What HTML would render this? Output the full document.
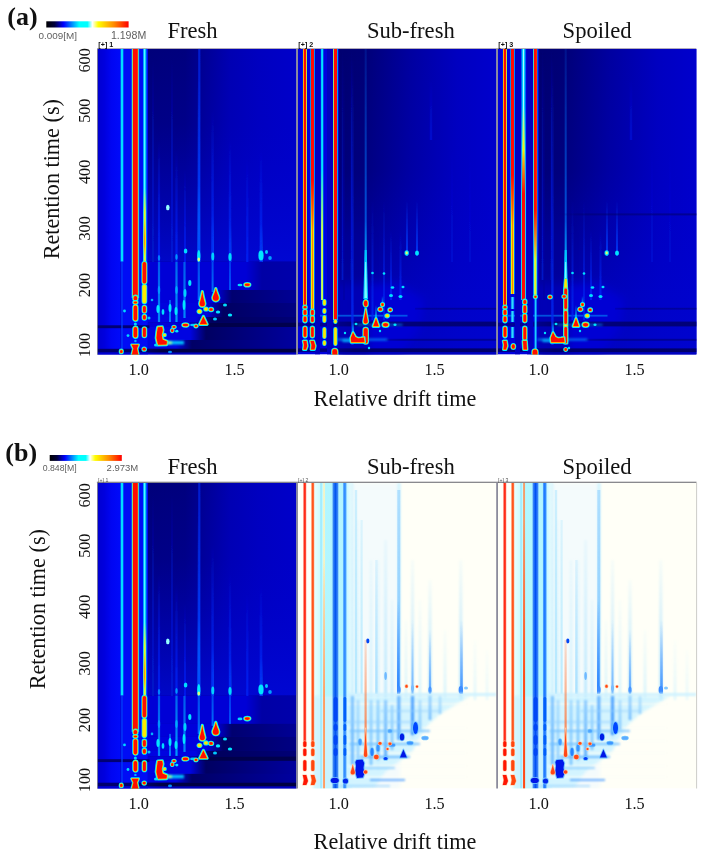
<!DOCTYPE html>
<html><head><meta charset="utf-8"><style>
html,body{margin:0;padding:0;background:#fff;}
svg{display:block;will-change:transform;}
</style></head><body>
<svg width="702" height="856" viewBox="0 0 702 856">
<defs><clipPath id="cp1"><rect x="97.3" y="48.7" width="199.4" height="305.90000000000003"/></clipPath><linearGradient id="hg2" x1="0" x2="1" y1="0" y2="0"><stop offset="0" stop-color="rgb(0,0,122)"/><stop offset="0.25" stop-color="rgb(0,0,126)"/><stop offset="0.55" stop-color="rgb(0,0,178)"/><stop offset="0.75" stop-color="rgb(0,0,192)"/><stop offset="1" stop-color="rgb(0,0,202)"/></linearGradient><linearGradient id="vg3" x1="0" x2="0" y1="0" y2="1"><stop offset="0" stop-color="rgb(0,0,200)" stop-opacity="0"/><stop offset="0.35" stop-color="rgb(0,0,200)" stop-opacity="0.15"/><stop offset="1" stop-color="rgb(0,8,212)" stop-opacity="0.85"/></linearGradient><linearGradient id="hg4" x1="0" x2="1" y1="0" y2="0"><stop offset="0" stop-color="rgb(0,0,208)"/><stop offset="0.3" stop-color="rgb(0,0,222)"/><stop offset="0.6" stop-color="rgb(0,5,242)"/><stop offset="1" stop-color="rgb(0,10,250)"/></linearGradient><linearGradient id="hg5" x1="0" x2="1" y1="0" y2="0"><stop offset="0" stop-color="rgb(0,0,214)"/><stop offset="0.6610738255033557" stop-color="rgb(0,0,214)"/><stop offset="0.7684563758389261" stop-color="rgb(0,0,165)"/><stop offset="1" stop-color="rgb(0,0,172)"/></linearGradient><linearGradient id="hg6" x1="0" x2="1" y1="0" y2="0"><stop offset="0" stop-color="rgb(0,0,218)"/><stop offset="0.4597315436241611" stop-color="rgb(0,0,218)"/><stop offset="0.5671140939597316" stop-color="rgb(0,0,112)"/><stop offset="1" stop-color="rgb(0,0,150)"/></linearGradient><linearGradient id="hg7" x1="0" x2="1" y1="0" y2="0"><stop offset="0" stop-color="rgb(0,2,222)"/><stop offset="0.39932885906040266" stop-color="rgb(0,2,222)"/><stop offset="0.5067114093959731" stop-color="rgb(0,0,98)"/><stop offset="1" stop-color="rgb(0,0,132)"/></linearGradient><linearGradient id="hg8" x1="0" x2="1" y1="0" y2="0"><stop offset="0" stop-color="rgb(0,3,224)"/><stop offset="0.32550335570469796" stop-color="rgb(0,3,224)"/><stop offset="0.43288590604026844" stop-color="rgb(0,0,92)"/><stop offset="1" stop-color="rgb(0,0,118)"/></linearGradient><linearGradient id="hg9" x1="0" x2="1" y1="0" y2="0"><stop offset="0" stop-color="rgb(0,0,214)"/><stop offset="0.2785234899328859" stop-color="rgb(0,0,214)"/><stop offset="0.3859060402684564" stop-color="rgb(0,0,72)"/><stop offset="1" stop-color="rgb(0,0,78)"/></linearGradient><linearGradient id="hg10" x1="0" x2="1" y1="0" y2="0"><stop offset="0" stop-color="rgb(0,4,226)"/><stop offset="0.28523489932885904" stop-color="rgb(0,4,226)"/><stop offset="0.3926174496644295" stop-color="rgb(0,0,98)"/><stop offset="1" stop-color="rgb(0,0,158)"/></linearGradient><linearGradient id="hg11" x1="0" x2="1" y1="0" y2="0"><stop offset="0" stop-color="rgb(0,3,224)"/><stop offset="0.1912751677852349" stop-color="rgb(0,3,224)"/><stop offset="0.2986577181208054" stop-color="rgb(0,0,102)"/><stop offset="1" stop-color="rgb(0,0,160)"/></linearGradient><linearGradient id="hg12" x1="0" x2="1" y1="0" y2="0"><stop offset="0" stop-color="rgb(0,0,110)"/><stop offset="0.23366834170854273" stop-color="rgb(0,0,110)"/><stop offset="0.314070351758794" stop-color="rgb(0,0,70)"/><stop offset="1" stop-color="rgb(0,0,65)"/></linearGradient><linearGradient id="hg13" x1="0" x2="1" y1="0" y2="0"><stop offset="0" stop-color="rgb(0,0,212)"/><stop offset="0.25879396984924624" stop-color="rgb(0,0,212)"/><stop offset="0.3391959798994975" stop-color="rgb(0,0,185)"/><stop offset="1" stop-color="rgb(0,0,195)"/></linearGradient><linearGradient id="vg14" x1="0" x2="0" y1="0" y2="1"><stop offset="0" stop-color="rgb(0,40,235)" stop-opacity="0.7"/><stop offset="1" stop-color="rgb(0,40,235)"/></linearGradient><filter id="bl15" x="-100%" y="-100%" width="300%" height="300%"><feGaussianBlur stdDeviation="0.6"/></filter><linearGradient id="vg16" x1="0" x2="0" y1="0" y2="1"><stop offset="0" stop-color="rgb(0,215,255)" stop-opacity="0.0"/><stop offset="1" stop-color="rgb(0,215,255)"/></linearGradient><filter id="bl17" x="-100%" y="-100%" width="300%" height="300%"><feGaussianBlur stdDeviation="0.5"/></filter><linearGradient id="vg18" x1="0" x2="0" y1="0" y2="1"><stop offset="0" stop-color="rgb(0,170,255)" stop-opacity="0.0"/><stop offset="1" stop-color="rgb(0,170,255)" stop-opacity="0.9"/></linearGradient><linearGradient id="vg19" x1="0" x2="0" y1="0" y2="1"><stop offset="0" stop-color="rgb(0,170,255)" stop-opacity="0.0"/><stop offset="1" stop-color="rgb(0,170,255)" stop-opacity="0.9"/></linearGradient><linearGradient id="vg20" x1="0" x2="0" y1="0" y2="1"><stop offset="0" stop-color="rgb(0,170,255)" stop-opacity="0.0"/><stop offset="1" stop-color="rgb(0,170,255)" stop-opacity="0.9"/></linearGradient><linearGradient id="vg21" x1="0" x2="0" y1="0" y2="1"><stop offset="0" stop-color="rgb(0,70,255)" stop-opacity="0.0"/><stop offset="1" stop-color="rgb(0,70,255)"/></linearGradient><filter id="bl22" x="-100%" y="-100%" width="300%" height="300%"><feGaussianBlur stdDeviation="0.7"/></filter><linearGradient id="vg23" x1="0" x2="0" y1="0" y2="1"><stop offset="0" stop-color="rgb(0,40,245)" stop-opacity="0.0"/><stop offset="1" stop-color="rgb(0,40,245)"/></linearGradient><linearGradient id="vg24" x1="0" x2="0" y1="0" y2="1"><stop offset="0" stop-color="rgb(0,40,245)" stop-opacity="0.0"/><stop offset="1" stop-color="rgb(0,40,245)"/></linearGradient><linearGradient id="vg25" x1="0" x2="0" y1="0" y2="1"><stop offset="0" stop-color="rgb(0,30,240)" stop-opacity="0.0"/><stop offset="1" stop-color="rgb(0,30,240)"/></linearGradient><linearGradient id="vg26" x1="0" x2="0" y1="0" y2="1"><stop offset="0" stop-color="rgb(0,40,245)" stop-opacity="0.0"/><stop offset="1" stop-color="rgb(0,40,245)"/></linearGradient><linearGradient id="vg27" x1="0" x2="0" y1="0" y2="1"><stop offset="0" stop-color="rgb(0,30,240)" stop-opacity="0.0"/><stop offset="1" stop-color="rgb(0,30,240)"/></linearGradient><linearGradient id="vg28" x1="0" x2="0" y1="0" y2="1"><stop offset="0" stop-color="rgb(0,30,240)" stop-opacity="0.0"/><stop offset="1" stop-color="rgb(0,30,240)"/></linearGradient><linearGradient id="vg29" x1="0" x2="0" y1="0" y2="1"><stop offset="0" stop-color="rgb(0,25,235)" stop-opacity="0.0"/><stop offset="1" stop-color="rgb(0,25,235)"/></linearGradient><linearGradient id="vg30" x1="0" x2="0" y1="0" y2="1"><stop offset="0" stop-color="rgb(0,20,210)" stop-opacity="0.0"/><stop offset="1" stop-color="rgb(0,20,210)"/></linearGradient><linearGradient id="vg31" x1="0" x2="0" y1="0" y2="1"><stop offset="0" stop-color="rgb(0,20,200)" stop-opacity="0.0"/><stop offset="1" stop-color="rgb(0,20,200)"/></linearGradient><linearGradient id="hg32" x1="0" x2="1" y1="0" y2="0"><stop offset="0" stop-color="rgb(0,8,250)"/><stop offset="0.22" stop-color="rgb(0,160,255)"/><stop offset="0.4" stop-color="rgb(0,235,255)"/><stop offset="0.5" stop-color="rgb(160,255,255)"/><stop offset="0.6" stop-color="rgb(0,235,255)"/><stop offset="0.78" stop-color="rgb(0,160,255)"/><stop offset="1" stop-color="rgb(0,8,250)"/></linearGradient><linearGradient id="hg33" x1="0" x2="1" y1="0" y2="0"><stop offset="0" stop-color="rgb(0,0,225)" stop-opacity="0"/><stop offset="0.5" stop-color="rgb(0,90,255)"/><stop offset="1" stop-color="rgb(0,0,225)" stop-opacity="0"/></linearGradient><linearGradient id="hg34" x1="0" x2="1" y1="0" y2="0"><stop offset="0" stop-color="rgb(0,12,245)"/><stop offset="0.12" stop-color="rgb(0,200,255)"/><stop offset="0.2" stop-color="rgb(255,235,0)"/><stop offset="0.27" stop-color="rgb(255,10,0)"/><stop offset="0.73" stop-color="rgb(255,10,0)"/><stop offset="0.8" stop-color="rgb(255,235,0)"/><stop offset="0.88" stop-color="rgb(0,200,255)"/><stop offset="1" stop-color="rgb(0,12,245)"/></linearGradient><linearGradient id="hg35" x1="0" x2="1" y1="0" y2="0"><stop offset="0" stop-color="rgb(0,15,245)"/><stop offset="0.18" stop-color="rgb(0,200,255)"/><stop offset="0.35" stop-color="rgb(200,255,90)"/><stop offset="0.5" stop-color="rgb(255,235,0)"/><stop offset="0.65" stop-color="rgb(200,255,90)"/><stop offset="0.82" stop-color="rgb(0,200,255)"/><stop offset="1" stop-color="rgb(0,15,245)"/></linearGradient><linearGradient id="mg37" gradientUnits="userSpaceOnUse" x1="0" y1="48.7" x2="0" y2="262"><stop offset="0.9156" stop-color="white"/><stop offset="0.9719" stop-color="black"/></linearGradient><mask id="mk36" maskUnits="userSpaceOnUse" x="0" y="43.7" width="702" height="223.3"><rect x="0" y="43.7" width="702" height="223.3" fill="url(#mg37)"/></mask><linearGradient id="hg38" x1="0" x2="1" y1="0" y2="0"><stop offset="0" stop-color="rgb(0,15,245)"/><stop offset="0.15" stop-color="rgb(0,200,255)"/><stop offset="0.3" stop-color="rgb(255,235,0)"/><stop offset="0.5" stop-color="rgb(255,130,0)"/><stop offset="0.7" stop-color="rgb(255,235,0)"/><stop offset="0.85" stop-color="rgb(0,200,255)"/><stop offset="1" stop-color="rgb(0,15,245)"/></linearGradient><linearGradient id="mg40" gradientUnits="userSpaceOnUse" x1="0" y1="48.7" x2="0" y2="262"><stop offset="0.7937" stop-color="white"/><stop offset="0.8875" stop-color="black"/></linearGradient><mask id="mk39" maskUnits="userSpaceOnUse" x="0" y="43.7" width="702" height="223.3"><rect x="0" y="43.7" width="702" height="223.3" fill="url(#mg40)"/></mask><linearGradient id="hg41" x1="0" x2="1" y1="0" y2="0"><stop offset="0" stop-color="rgb(0,15,245)"/><stop offset="0.18" stop-color="rgb(0,200,255)"/><stop offset="0.35" stop-color="rgb(200,255,90)"/><stop offset="0.5" stop-color="rgb(255,235,0)"/><stop offset="0.65" stop-color="rgb(200,255,90)"/><stop offset="0.82" stop-color="rgb(0,200,255)"/><stop offset="1" stop-color="rgb(0,15,245)"/></linearGradient><linearGradient id="mg43" gradientUnits="userSpaceOnUse" x1="0" y1="48.7" x2="0" y2="262"><stop offset="0.6531" stop-color="white"/><stop offset="0.7656" stop-color="black"/></linearGradient><mask id="mk42" maskUnits="userSpaceOnUse" x="0" y="43.7" width="702" height="223.3"><rect x="0" y="43.7" width="702" height="223.3" fill="url(#mg43)"/></mask><linearGradient id="hg44" x1="0" x2="1" y1="0" y2="0"><stop offset="0" stop-color="rgb(0,15,245)"/><stop offset="0.22" stop-color="rgb(0,160,255)"/><stop offset="0.4" stop-color="rgb(0,235,255)"/><stop offset="0.5" stop-color="rgb(160,255,255)"/><stop offset="0.6" stop-color="rgb(0,235,255)"/><stop offset="0.78" stop-color="rgb(0,160,255)"/><stop offset="1" stop-color="rgb(0,15,245)"/></linearGradient><filter id="bl45" x="-100%" y="-100%" width="300%" height="300%"><feGaussianBlur stdDeviation="0.75"/></filter><filter id="bl46" x="-100%" y="-100%" width="300%" height="300%"><feGaussianBlur stdDeviation="1.0"/></filter><filter id="bl47" x="-100%" y="-100%" width="300%" height="300%"><feGaussianBlur stdDeviation="0.8"/></filter><linearGradient id="vg48" x1="0" x2="0" y1="0" y2="1"><stop offset="0" stop-color="rgb(0,150,255)" stop-opacity="0.6"/><stop offset="1" stop-color="rgb(0,150,255)" stop-opacity="0.9"/></linearGradient><linearGradient id="vg49" x1="0" x2="0" y1="0" y2="1"><stop offset="0" stop-color="rgb(0,170,255)" stop-opacity="0.6"/><stop offset="1" stop-color="rgb(0,170,255)" stop-opacity="0.9"/></linearGradient><linearGradient id="vg50" x1="0" x2="0" y1="0" y2="1"><stop offset="0" stop-color="rgb(0,150,255)" stop-opacity="0.6"/><stop offset="1" stop-color="rgb(0,150,255)" stop-opacity="0.9"/></linearGradient><linearGradient id="vg51" x1="0" x2="0" y1="0" y2="1"><stop offset="0" stop-color="rgb(0,120,255)" stop-opacity="0.6"/><stop offset="1" stop-color="rgb(0,120,255)" stop-opacity="0.9"/></linearGradient><linearGradient id="vg52" x1="0" x2="0" y1="0" y2="1"><stop offset="0" stop-color="rgb(0,120,255)" stop-opacity="0.6"/><stop offset="1" stop-color="rgb(0,120,255)" stop-opacity="0.9"/></linearGradient><linearGradient id="vg53" x1="0" x2="0" y1="0" y2="1"><stop offset="0" stop-color="rgb(0,90,255)" stop-opacity="0.6"/><stop offset="1" stop-color="rgb(0,90,255)" stop-opacity="0.9"/></linearGradient><linearGradient id="vg54" x1="0" x2="0" y1="0" y2="1"><stop offset="0" stop-color="rgb(0,140,255)" stop-opacity="0.6"/><stop offset="1" stop-color="rgb(0,140,255)" stop-opacity="0.9"/></linearGradient><clipPath id="cp55"><rect x="297.3" y="48.7" width="199.4" height="305.90000000000003"/></clipPath><linearGradient id="hg56" x1="0" x2="1" y1="0" y2="0"><stop offset="0" stop-color="rgb(0,0,112)"/><stop offset="0.15" stop-color="rgb(0,0,118)"/><stop offset="0.45" stop-color="rgb(0,0,160)"/><stop offset="0.75" stop-color="rgb(0,0,192)"/><stop offset="1" stop-color="rgb(0,0,205)"/></linearGradient><linearGradient id="vg57" x1="0" x2="0" y1="0" y2="1"><stop offset="0" stop-color="rgb(0,0,200)" stop-opacity="0"/><stop offset="0.4" stop-color="rgb(0,0,200)" stop-opacity="0.1"/><stop offset="0.8" stop-color="rgb(0,3,205)" stop-opacity="0.6"/><stop offset="1" stop-color="rgb(0,5,208)" stop-opacity="0.7"/></linearGradient><filter id="bl58" x="-100%" y="-100%" width="300%" height="300%"><feGaussianBlur stdDeviation="5"/></filter><filter id="bl59" x="-100%" y="-100%" width="300%" height="300%"><feGaussianBlur stdDeviation="4"/></filter><linearGradient id="hg60" x1="0" x2="1" y1="0" y2="0"><stop offset="0" stop-color="rgb(0,0,120)" stop-opacity="0.275"/><stop offset="0.15" stop-color="rgb(0,0,120)" stop-opacity="0.55"/><stop offset="1" stop-color="rgb(0,0,120)" stop-opacity="0.55"/></linearGradient><linearGradient id="hg61" x1="0" x2="1" y1="0" y2="0"><stop offset="0" stop-color="rgb(0,0,105)" stop-opacity="0.425"/><stop offset="0.15" stop-color="rgb(0,0,105)" stop-opacity="0.85"/><stop offset="1" stop-color="rgb(0,0,105)" stop-opacity="0.85"/></linearGradient><linearGradient id="hg62" x1="0" x2="1" y1="0" y2="0"><stop offset="0" stop-color="rgb(0,0,120)" stop-opacity="0.3"/><stop offset="0.15" stop-color="rgb(0,0,120)" stop-opacity="0.6"/><stop offset="1" stop-color="rgb(0,0,120)" stop-opacity="0.6"/></linearGradient><linearGradient id="hg63" x1="0" x2="1" y1="0" y2="0"><stop offset="0" stop-color="rgb(0,0,95)" stop-opacity="0.45"/><stop offset="0.15" stop-color="rgb(0,0,95)" stop-opacity="0.9"/><stop offset="1" stop-color="rgb(0,0,95)" stop-opacity="0.9"/></linearGradient><linearGradient id="hg64" x1="0" x2="1" y1="0" y2="0"><stop offset="0" stop-color="rgb(0,0,150)" stop-opacity="0.2"/><stop offset="0.15" stop-color="rgb(0,0,150)" stop-opacity="0.4"/><stop offset="1" stop-color="rgb(0,0,150)" stop-opacity="0.4"/></linearGradient><linearGradient id="vg65" x1="0" x2="0" y1="0" y2="1"><stop offset="0" stop-color="rgb(0,40,240)" stop-opacity="0.0"/><stop offset="1" stop-color="rgb(0,40,240)" stop-opacity="0.9"/></linearGradient><linearGradient id="vg66" x1="0" x2="0" y1="0" y2="1"><stop offset="0" stop-color="rgb(0,10,160)" stop-opacity="0.0"/><stop offset="1" stop-color="rgb(0,10,160)" stop-opacity="0.6"/></linearGradient><linearGradient id="vg67" x1="0" x2="0" y1="0" y2="1"><stop offset="0" stop-color="rgb(0,20,200)" stop-opacity="0.0"/><stop offset="1" stop-color="rgb(0,20,200)"/></linearGradient><linearGradient id="vg68" x1="0" x2="0" y1="0" y2="1"><stop offset="0" stop-color="rgb(0,20,205)" stop-opacity="0.0"/><stop offset="1" stop-color="rgb(0,20,205)"/></linearGradient><linearGradient id="vg69" x1="0" x2="0" y1="0" y2="1"><stop offset="0" stop-color="rgb(0,40,240)" stop-opacity="0.0"/><stop offset="1" stop-color="rgb(0,40,240)" stop-opacity="0.8"/></linearGradient><linearGradient id="vg70" x1="0" x2="0" y1="0" y2="1"><stop offset="0" stop-color="rgb(0,40,240)" stop-opacity="0.0"/><stop offset="1" stop-color="rgb(0,40,240)" stop-opacity="0.8"/></linearGradient><linearGradient id="vg71" x1="0" x2="0" y1="0" y2="1"><stop offset="0" stop-color="rgb(0,40,245)" stop-opacity="0.0"/><stop offset="1" stop-color="rgb(0,40,245)" stop-opacity="0.8"/></linearGradient><linearGradient id="vg72" x1="0" x2="0" y1="0" y2="1"><stop offset="0" stop-color="rgb(0,40,245)" stop-opacity="0.0"/><stop offset="1" stop-color="rgb(0,40,245)" stop-opacity="0.8"/></linearGradient><linearGradient id="vg73" x1="0" x2="0" y1="0" y2="1"><stop offset="0" stop-color="rgb(0,60,250)" stop-opacity="0.0"/><stop offset="1" stop-color="rgb(0,60,250)" stop-opacity="0.9"/></linearGradient><linearGradient id="vg74" x1="0" x2="0" y1="0" y2="1"><stop offset="0" stop-color="rgb(0,60,250)" stop-opacity="0.0"/><stop offset="1" stop-color="rgb(0,60,250)" stop-opacity="0.9"/></linearGradient><linearGradient id="vg75" x1="0" x2="0" y1="0" y2="1"><stop offset="0" stop-color="rgb(0,20,225)" stop-opacity="0.0"/><stop offset="1" stop-color="rgb(0,20,225)" stop-opacity="0.6"/></linearGradient><linearGradient id="vg76" x1="0" x2="0" y1="0" y2="1"><stop offset="0" stop-color="rgb(0,20,220)" stop-opacity="0.0"/><stop offset="1" stop-color="rgb(0,20,220)" stop-opacity="0.5"/></linearGradient><linearGradient id="vg77" x1="0" x2="0" y1="0" y2="1"><stop offset="0" stop-color="rgb(0,20,220)" stop-opacity="0.0"/><stop offset="1" stop-color="rgb(0,20,220)" stop-opacity="0.4"/></linearGradient><linearGradient id="vg78" x1="0" x2="0" y1="0" y2="1"><stop offset="0" stop-color="rgb(0,120,255)" stop-opacity="0.15"/><stop offset="1" stop-color="rgb(0,120,255)" stop-opacity="0.9"/></linearGradient><linearGradient id="vg79" x1="0" x2="0" y1="0" y2="1"><stop offset="0" stop-color="rgb(0,230,255)" stop-opacity="0.0"/><stop offset="1" stop-color="rgb(0,230,255)"/></linearGradient><linearGradient id="hg80" x1="0" x2="1" y1="0" y2="0"><stop offset="0" stop-color="rgb(0,0,222)"/><stop offset="0.12" stop-color="rgb(0,200,255)"/><stop offset="0.2" stop-color="rgb(255,235,0)"/><stop offset="0.27" stop-color="rgb(255,10,0)"/><stop offset="0.73" stop-color="rgb(255,10,0)"/><stop offset="0.8" stop-color="rgb(255,235,0)"/><stop offset="0.88" stop-color="rgb(0,200,255)"/><stop offset="1" stop-color="rgb(0,0,222)"/></linearGradient><linearGradient id="hg81" x1="0" x2="1" y1="0" y2="0"><stop offset="0" stop-color="rgb(0,0,222)"/><stop offset="0.15" stop-color="rgb(0,200,255)"/><stop offset="0.3" stop-color="rgb(255,235,0)"/><stop offset="0.5" stop-color="rgb(255,130,0)"/><stop offset="0.7" stop-color="rgb(255,235,0)"/><stop offset="0.85" stop-color="rgb(0,200,255)"/><stop offset="1" stop-color="rgb(0,0,222)"/></linearGradient><linearGradient id="mg83" gradientUnits="userSpaceOnUse" x1="0" y1="48.7" x2="0" y2="309"><stop offset="0.5044" stop-color="white"/><stop offset="0.6965" stop-color="black"/></linearGradient><mask id="mk82" maskUnits="userSpaceOnUse" x="0" y="43.7" width="702" height="270.3"><rect x="0" y="43.7" width="702" height="270.3" fill="url(#mg83)"/></mask><linearGradient id="hg84" x1="0" x2="1" y1="0" y2="0"><stop offset="0" stop-color="rgb(0,0,222)"/><stop offset="0.12" stop-color="rgb(0,200,255)"/><stop offset="0.2" stop-color="rgb(255,235,0)"/><stop offset="0.27" stop-color="rgb(255,10,0)"/><stop offset="0.73" stop-color="rgb(255,10,0)"/><stop offset="0.8" stop-color="rgb(255,235,0)"/><stop offset="0.88" stop-color="rgb(0,200,255)"/><stop offset="1" stop-color="rgb(0,0,222)"/></linearGradient><linearGradient id="hg85" x1="0" x2="1" y1="0" y2="0"><stop offset="0" stop-color="rgb(0,0,222)"/><stop offset="0.18" stop-color="rgb(0,200,255)"/><stop offset="0.35" stop-color="rgb(200,255,90)"/><stop offset="0.5" stop-color="rgb(255,235,0)"/><stop offset="0.65" stop-color="rgb(200,255,90)"/><stop offset="0.82" stop-color="rgb(0,200,255)"/><stop offset="1" stop-color="rgb(0,0,222)"/></linearGradient><linearGradient id="mg87" gradientUnits="userSpaceOnUse" x1="0" y1="48.7" x2="0" y2="300"><stop offset="0.4827" stop-color="white"/><stop offset="0.7214" stop-color="black"/></linearGradient><mask id="mk86" maskUnits="userSpaceOnUse" x="0" y="43.7" width="702" height="261.3"><rect x="0" y="43.7" width="702" height="261.3" fill="url(#mg87)"/></mask><linearGradient id="hg88" x1="0" x2="1" y1="0" y2="0"><stop offset="0" stop-color="rgb(0,0,222)"/><stop offset="0.22" stop-color="rgb(0,160,255)"/><stop offset="0.4" stop-color="rgb(0,235,255)"/><stop offset="0.5" stop-color="rgb(160,255,255)"/><stop offset="0.6" stop-color="rgb(0,235,255)"/><stop offset="0.78" stop-color="rgb(0,160,255)"/><stop offset="1" stop-color="rgb(0,0,222)"/></linearGradient><linearGradient id="hg89" x1="0" x2="1" y1="0" y2="0"><stop offset="0" stop-color="rgb(0,0,222)"/><stop offset="0.12" stop-color="rgb(0,200,255)"/><stop offset="0.2" stop-color="rgb(255,235,0)"/><stop offset="0.27" stop-color="rgb(255,10,0)"/><stop offset="0.73" stop-color="rgb(255,10,0)"/><stop offset="0.8" stop-color="rgb(255,235,0)"/><stop offset="0.88" stop-color="rgb(0,200,255)"/><stop offset="1" stop-color="rgb(0,0,222)"/></linearGradient><linearGradient id="vg90" x1="0" x2="0" y1="0" y2="1"><stop offset="0" stop-color="rgb(0,210,255)" stop-opacity="0.0"/><stop offset="1" stop-color="rgb(0,210,255)"/></linearGradient><linearGradient id="vg91" x1="0" x2="0" y1="0" y2="1"><stop offset="0" stop-color="rgb(0,220,255)" stop-opacity="0.0"/><stop offset="1" stop-color="rgb(0,220,255)" stop-opacity="0.9"/></linearGradient><linearGradient id="vg92" x1="0" x2="0" y1="0" y2="1"><stop offset="0" stop-color="rgb(0,220,255)" stop-opacity="0.0"/><stop offset="1" stop-color="rgb(0,220,255)" stop-opacity="0.9"/></linearGradient><filter id="bl93" x="-100%" y="-100%" width="300%" height="300%"><feGaussianBlur stdDeviation="0.4"/></filter><clipPath id="cp94"><rect x="497.3" y="48.7" width="199.4" height="305.90000000000003"/></clipPath><linearGradient id="hg95" x1="0" x2="1" y1="0" y2="0"><stop offset="0" stop-color="rgb(0,0,112)"/><stop offset="0.15" stop-color="rgb(0,0,118)"/><stop offset="0.45" stop-color="rgb(0,0,160)"/><stop offset="0.75" stop-color="rgb(0,0,192)"/><stop offset="1" stop-color="rgb(0,0,205)"/></linearGradient><linearGradient id="vg96" x1="0" x2="0" y1="0" y2="1"><stop offset="0" stop-color="rgb(0,0,200)" stop-opacity="0"/><stop offset="0.4" stop-color="rgb(0,0,200)" stop-opacity="0.1"/><stop offset="0.8" stop-color="rgb(0,3,205)" stop-opacity="0.6"/><stop offset="1" stop-color="rgb(0,5,208)" stop-opacity="0.7"/></linearGradient><linearGradient id="hg97" x1="0" x2="1" y1="0" y2="0"><stop offset="0" stop-color="rgb(0,0,120)" stop-opacity="0.275"/><stop offset="0.15" stop-color="rgb(0,0,120)" stop-opacity="0.55"/><stop offset="1" stop-color="rgb(0,0,120)" stop-opacity="0.55"/></linearGradient><linearGradient id="hg98" x1="0" x2="1" y1="0" y2="0"><stop offset="0" stop-color="rgb(0,0,105)" stop-opacity="0.425"/><stop offset="0.15" stop-color="rgb(0,0,105)" stop-opacity="0.85"/><stop offset="1" stop-color="rgb(0,0,105)" stop-opacity="0.85"/></linearGradient><linearGradient id="hg99" x1="0" x2="1" y1="0" y2="0"><stop offset="0" stop-color="rgb(0,0,120)" stop-opacity="0.3"/><stop offset="0.15" stop-color="rgb(0,0,120)" stop-opacity="0.6"/><stop offset="1" stop-color="rgb(0,0,120)" stop-opacity="0.6"/></linearGradient><linearGradient id="hg100" x1="0" x2="1" y1="0" y2="0"><stop offset="0" stop-color="rgb(0,0,95)" stop-opacity="0.45"/><stop offset="0.15" stop-color="rgb(0,0,95)" stop-opacity="0.9"/><stop offset="1" stop-color="rgb(0,0,95)" stop-opacity="0.9"/></linearGradient><linearGradient id="hg101" x1="0" x2="1" y1="0" y2="0"><stop offset="0" stop-color="rgb(0,0,150)" stop-opacity="0.2"/><stop offset="0.15" stop-color="rgb(0,0,150)" stop-opacity="0.4"/><stop offset="1" stop-color="rgb(0,0,150)" stop-opacity="0.4"/></linearGradient><linearGradient id="vg102" x1="0" x2="0" y1="0" y2="1"><stop offset="0" stop-color="rgb(0,40,240)" stop-opacity="0.0"/><stop offset="1" stop-color="rgb(0,40,240)" stop-opacity="0.9"/></linearGradient><linearGradient id="vg103" x1="0" x2="0" y1="0" y2="1"><stop offset="0" stop-color="rgb(0,10,160)" stop-opacity="0.0"/><stop offset="1" stop-color="rgb(0,10,160)" stop-opacity="0.6"/></linearGradient><linearGradient id="vg104" x1="0" x2="0" y1="0" y2="1"><stop offset="0" stop-color="rgb(0,20,200)" stop-opacity="0.0"/><stop offset="1" stop-color="rgb(0,20,200)"/></linearGradient><linearGradient id="vg105" x1="0" x2="0" y1="0" y2="1"><stop offset="0" stop-color="rgb(0,20,205)" stop-opacity="0.0"/><stop offset="1" stop-color="rgb(0,20,205)"/></linearGradient><linearGradient id="vg106" x1="0" x2="0" y1="0" y2="1"><stop offset="0" stop-color="rgb(0,40,240)" stop-opacity="0.0"/><stop offset="1" stop-color="rgb(0,40,240)" stop-opacity="0.8"/></linearGradient><linearGradient id="vg107" x1="0" x2="0" y1="0" y2="1"><stop offset="0" stop-color="rgb(0,40,240)" stop-opacity="0.0"/><stop offset="1" stop-color="rgb(0,40,240)" stop-opacity="0.8"/></linearGradient><linearGradient id="vg108" x1="0" x2="0" y1="0" y2="1"><stop offset="0" stop-color="rgb(0,40,245)" stop-opacity="0.0"/><stop offset="1" stop-color="rgb(0,40,245)" stop-opacity="0.8"/></linearGradient><linearGradient id="vg109" x1="0" x2="0" y1="0" y2="1"><stop offset="0" stop-color="rgb(0,40,245)" stop-opacity="0.0"/><stop offset="1" stop-color="rgb(0,40,245)" stop-opacity="0.8"/></linearGradient><linearGradient id="vg110" x1="0" x2="0" y1="0" y2="1"><stop offset="0" stop-color="rgb(0,60,250)" stop-opacity="0.0"/><stop offset="1" stop-color="rgb(0,60,250)" stop-opacity="0.9"/></linearGradient><linearGradient id="vg111" x1="0" x2="0" y1="0" y2="1"><stop offset="0" stop-color="rgb(0,60,250)" stop-opacity="0.0"/><stop offset="1" stop-color="rgb(0,60,250)" stop-opacity="0.9"/></linearGradient><linearGradient id="vg112" x1="0" x2="0" y1="0" y2="1"><stop offset="0" stop-color="rgb(0,20,225)" stop-opacity="0.0"/><stop offset="1" stop-color="rgb(0,20,225)" stop-opacity="0.6"/></linearGradient><linearGradient id="vg113" x1="0" x2="0" y1="0" y2="1"><stop offset="0" stop-color="rgb(0,20,220)" stop-opacity="0.0"/><stop offset="1" stop-color="rgb(0,20,220)" stop-opacity="0.5"/></linearGradient><linearGradient id="vg114" x1="0" x2="0" y1="0" y2="1"><stop offset="0" stop-color="rgb(0,20,220)" stop-opacity="0.0"/><stop offset="1" stop-color="rgb(0,20,220)" stop-opacity="0.4"/></linearGradient><linearGradient id="vg115" x1="0" x2="0" y1="0" y2="1"><stop offset="0" stop-color="rgb(0,120,255)" stop-opacity="0.15"/><stop offset="1" stop-color="rgb(0,120,255)" stop-opacity="0.9"/></linearGradient><linearGradient id="hg116" x1="0" x2="1" y1="0" y2="0"><stop offset="0" stop-color="rgb(0,0,110)" stop-opacity="0"/><stop offset="0.2" stop-color="rgb(0,0,110)" stop-opacity="0.5"/><stop offset="1" stop-color="rgb(0,0,110)" stop-opacity="0.6"/></linearGradient><linearGradient id="vg117" x1="0" x2="0" y1="0" y2="1"><stop offset="0" stop-color="rgb(0,230,255)" stop-opacity="0.0"/><stop offset="1" stop-color="rgb(0,230,255)"/></linearGradient><linearGradient id="hg118" x1="0" x2="1" y1="0" y2="0"><stop offset="0" stop-color="rgb(0,0,222)"/><stop offset="0.12" stop-color="rgb(0,200,255)"/><stop offset="0.2" stop-color="rgb(255,235,0)"/><stop offset="0.27" stop-color="rgb(255,10,0)"/><stop offset="0.73" stop-color="rgb(255,10,0)"/><stop offset="0.8" stop-color="rgb(255,235,0)"/><stop offset="0.88" stop-color="rgb(0,200,255)"/><stop offset="1" stop-color="rgb(0,0,222)"/></linearGradient><linearGradient id="hg119" x1="0" x2="1" y1="0" y2="0"><stop offset="0" stop-color="rgb(0,0,222)"/><stop offset="0.15" stop-color="rgb(0,200,255)"/><stop offset="0.3" stop-color="rgb(255,235,0)"/><stop offset="0.5" stop-color="rgb(255,130,0)"/><stop offset="0.7" stop-color="rgb(255,235,0)"/><stop offset="0.85" stop-color="rgb(0,200,255)"/><stop offset="1" stop-color="rgb(0,0,222)"/></linearGradient><linearGradient id="mg121" gradientUnits="userSpaceOnUse" x1="0" y1="48.7" x2="0" y2="294"><stop offset="0.5149" stop-color="white"/><stop offset="0.7187" stop-color="black"/></linearGradient><mask id="mk120" maskUnits="userSpaceOnUse" x="0" y="43.7" width="702" height="255.3"><rect x="0" y="43.7" width="702" height="255.3" fill="url(#mg121)"/></mask><linearGradient id="hg122" x1="0" x2="1" y1="0" y2="0"><stop offset="0" stop-color="rgb(0,0,222)"/><stop offset="0.12" stop-color="rgb(0,200,255)"/><stop offset="0.2" stop-color="rgb(255,235,0)"/><stop offset="0.27" stop-color="rgb(255,10,0)"/><stop offset="0.73" stop-color="rgb(255,10,0)"/><stop offset="0.8" stop-color="rgb(255,235,0)"/><stop offset="0.88" stop-color="rgb(0,200,255)"/><stop offset="1" stop-color="rgb(0,0,222)"/></linearGradient><linearGradient id="hg123" x1="0" x2="1" y1="0" y2="0"><stop offset="0" stop-color="rgb(0,0,222)"/><stop offset="0.12" stop-color="rgb(0,200,255)"/><stop offset="0.2" stop-color="rgb(255,235,0)"/><stop offset="0.27" stop-color="rgb(255,10,0)"/><stop offset="0.73" stop-color="rgb(255,10,0)"/><stop offset="0.8" stop-color="rgb(255,235,0)"/><stop offset="0.88" stop-color="rgb(0,200,255)"/><stop offset="1" stop-color="rgb(0,0,222)"/></linearGradient><linearGradient id="mg125" gradientUnits="userSpaceOnUse" x1="0" y1="48.7" x2="0" y2="300"><stop offset="0.4031" stop-color="white"/><stop offset="0.5782" stop-color="black"/></linearGradient><mask id="mk124" maskUnits="userSpaceOnUse" x="0" y="43.7" width="702" height="261.3"><rect x="0" y="43.7" width="702" height="261.3" fill="url(#mg125)"/></mask><linearGradient id="hg126" x1="0" x2="1" y1="0" y2="0"><stop offset="0" stop-color="rgb(0,0,222)"/><stop offset="0.18" stop-color="rgb(0,200,255)"/><stop offset="0.35" stop-color="rgb(200,255,90)"/><stop offset="0.5" stop-color="rgb(255,235,0)"/><stop offset="0.65" stop-color="rgb(200,255,90)"/><stop offset="0.82" stop-color="rgb(0,200,255)"/><stop offset="1" stop-color="rgb(0,0,222)"/></linearGradient><linearGradient id="mg128" gradientUnits="userSpaceOnUse" x1="0" y1="48.7" x2="0" y2="300"><stop offset="0.2280" stop-color="white"/><stop offset="0.4031" stop-color="black"/></linearGradient><mask id="mk127" maskUnits="userSpaceOnUse" x="0" y="43.7" width="702" height="261.3"><rect x="0" y="43.7" width="702" height="261.3" fill="url(#mg128)"/></mask><linearGradient id="hg129" x1="0" x2="1" y1="0" y2="0"><stop offset="0" stop-color="rgb(0,0,222)"/><stop offset="0.22" stop-color="rgb(0,160,255)"/><stop offset="0.4" stop-color="rgb(0,235,255)"/><stop offset="0.5" stop-color="rgb(160,255,255)"/><stop offset="0.6" stop-color="rgb(0,235,255)"/><stop offset="0.78" stop-color="rgb(0,160,255)"/><stop offset="1" stop-color="rgb(0,0,222)"/></linearGradient><linearGradient id="hg130" x1="0" x2="1" y1="0" y2="0"><stop offset="0" stop-color="rgb(0,0,222)"/><stop offset="0.18" stop-color="rgb(0,200,255)"/><stop offset="0.35" stop-color="rgb(200,255,90)"/><stop offset="0.5" stop-color="rgb(255,235,0)"/><stop offset="0.65" stop-color="rgb(200,255,90)"/><stop offset="0.82" stop-color="rgb(0,200,255)"/><stop offset="1" stop-color="rgb(0,0,222)"/></linearGradient><linearGradient id="mg132" gradientUnits="userSpaceOnUse" x1="0" y1="48.7" x2="0" y2="296"><stop offset="0.6522" stop-color="white"/><stop offset="0.8544" stop-color="black"/></linearGradient><mask id="mk131" maskUnits="userSpaceOnUse" x="0" y="43.7" width="702" height="257.3"><rect x="0" y="43.7" width="702" height="257.3" fill="url(#mg132)"/></mask><linearGradient id="hg133" x1="0" x2="1" y1="0" y2="0"><stop offset="0" stop-color="rgb(0,0,222)"/><stop offset="0.12" stop-color="rgb(0,200,255)"/><stop offset="0.2" stop-color="rgb(255,235,0)"/><stop offset="0.27" stop-color="rgb(255,10,0)"/><stop offset="0.73" stop-color="rgb(255,10,0)"/><stop offset="0.8" stop-color="rgb(255,235,0)"/><stop offset="0.88" stop-color="rgb(0,200,255)"/><stop offset="1" stop-color="rgb(0,0,222)"/></linearGradient><filter id="bl134" x="-100%" y="-100%" width="300%" height="300%"><feGaussianBlur stdDeviation="0.45"/></filter><linearGradient id="vg135" x1="0" x2="0" y1="0" y2="1"><stop offset="0" stop-color="rgb(0,210,255)" stop-opacity="0.0"/><stop offset="1" stop-color="rgb(0,210,255)"/></linearGradient><linearGradient id="vg136" x1="0" x2="0" y1="0" y2="1"><stop offset="0" stop-color="rgb(0,220,255)" stop-opacity="0.0"/><stop offset="1" stop-color="rgb(0,220,255)" stop-opacity="0.9"/></linearGradient><linearGradient id="vg137" x1="0" x2="0" y1="0" y2="1"><stop offset="0" stop-color="rgb(0,220,255)" stop-opacity="0.0"/><stop offset="1" stop-color="rgb(0,220,255)" stop-opacity="0.9"/></linearGradient><clipPath id="cp138"><rect x="97.3" y="48.7" width="199.4" height="305.90000000000003"/></clipPath><linearGradient id="hg139" x1="0" x2="1" y1="0" y2="0"><stop offset="0" stop-color="rgb(0,0,122)"/><stop offset="0.25" stop-color="rgb(0,0,126)"/><stop offset="0.55" stop-color="rgb(0,0,178)"/><stop offset="0.75" stop-color="rgb(0,0,192)"/><stop offset="1" stop-color="rgb(0,0,202)"/></linearGradient><linearGradient id="vg140" x1="0" x2="0" y1="0" y2="1"><stop offset="0" stop-color="rgb(0,0,200)" stop-opacity="0"/><stop offset="0.35" stop-color="rgb(0,0,200)" stop-opacity="0.15"/><stop offset="1" stop-color="rgb(0,8,212)" stop-opacity="0.85"/></linearGradient><linearGradient id="hg141" x1="0" x2="1" y1="0" y2="0"><stop offset="0" stop-color="rgb(0,0,208)"/><stop offset="0.3" stop-color="rgb(0,0,222)"/><stop offset="0.6" stop-color="rgb(0,5,242)"/><stop offset="1" stop-color="rgb(0,10,250)"/></linearGradient><linearGradient id="hg142" x1="0" x2="1" y1="0" y2="0"><stop offset="0" stop-color="rgb(0,0,214)"/><stop offset="0.6610738255033557" stop-color="rgb(0,0,214)"/><stop offset="0.7684563758389261" stop-color="rgb(0,0,165)"/><stop offset="1" stop-color="rgb(0,0,172)"/></linearGradient><linearGradient id="hg143" x1="0" x2="1" y1="0" y2="0"><stop offset="0" stop-color="rgb(0,0,218)"/><stop offset="0.4597315436241611" stop-color="rgb(0,0,218)"/><stop offset="0.5671140939597316" stop-color="rgb(0,0,112)"/><stop offset="1" stop-color="rgb(0,0,150)"/></linearGradient><linearGradient id="hg144" x1="0" x2="1" y1="0" y2="0"><stop offset="0" stop-color="rgb(0,2,222)"/><stop offset="0.39932885906040266" stop-color="rgb(0,2,222)"/><stop offset="0.5067114093959731" stop-color="rgb(0,0,98)"/><stop offset="1" stop-color="rgb(0,0,132)"/></linearGradient><linearGradient id="hg145" x1="0" x2="1" y1="0" y2="0"><stop offset="0" stop-color="rgb(0,3,224)"/><stop offset="0.32550335570469796" stop-color="rgb(0,3,224)"/><stop offset="0.43288590604026844" stop-color="rgb(0,0,92)"/><stop offset="1" stop-color="rgb(0,0,118)"/></linearGradient><linearGradient id="hg146" x1="0" x2="1" y1="0" y2="0"><stop offset="0" stop-color="rgb(0,0,214)"/><stop offset="0.2785234899328859" stop-color="rgb(0,0,214)"/><stop offset="0.3859060402684564" stop-color="rgb(0,0,72)"/><stop offset="1" stop-color="rgb(0,0,78)"/></linearGradient><linearGradient id="hg147" x1="0" x2="1" y1="0" y2="0"><stop offset="0" stop-color="rgb(0,4,226)"/><stop offset="0.28523489932885904" stop-color="rgb(0,4,226)"/><stop offset="0.3926174496644295" stop-color="rgb(0,0,98)"/><stop offset="1" stop-color="rgb(0,0,158)"/></linearGradient><linearGradient id="hg148" x1="0" x2="1" y1="0" y2="0"><stop offset="0" stop-color="rgb(0,3,224)"/><stop offset="0.1912751677852349" stop-color="rgb(0,3,224)"/><stop offset="0.2986577181208054" stop-color="rgb(0,0,102)"/><stop offset="1" stop-color="rgb(0,0,160)"/></linearGradient><linearGradient id="hg149" x1="0" x2="1" y1="0" y2="0"><stop offset="0" stop-color="rgb(0,0,110)"/><stop offset="0.23366834170854273" stop-color="rgb(0,0,110)"/><stop offset="0.314070351758794" stop-color="rgb(0,0,70)"/><stop offset="1" stop-color="rgb(0,0,65)"/></linearGradient><linearGradient id="hg150" x1="0" x2="1" y1="0" y2="0"><stop offset="0" stop-color="rgb(0,0,212)"/><stop offset="0.25879396984924624" stop-color="rgb(0,0,212)"/><stop offset="0.3391959798994975" stop-color="rgb(0,0,185)"/><stop offset="1" stop-color="rgb(0,0,195)"/></linearGradient><linearGradient id="vg151" x1="0" x2="0" y1="0" y2="1"><stop offset="0" stop-color="rgb(0,40,235)" stop-opacity="0.7"/><stop offset="1" stop-color="rgb(0,40,235)"/></linearGradient><linearGradient id="vg152" x1="0" x2="0" y1="0" y2="1"><stop offset="0" stop-color="rgb(0,215,255)" stop-opacity="0.0"/><stop offset="1" stop-color="rgb(0,215,255)"/></linearGradient><linearGradient id="vg153" x1="0" x2="0" y1="0" y2="1"><stop offset="0" stop-color="rgb(0,170,255)" stop-opacity="0.0"/><stop offset="1" stop-color="rgb(0,170,255)" stop-opacity="0.9"/></linearGradient><linearGradient id="vg154" x1="0" x2="0" y1="0" y2="1"><stop offset="0" stop-color="rgb(0,170,255)" stop-opacity="0.0"/><stop offset="1" stop-color="rgb(0,170,255)" stop-opacity="0.9"/></linearGradient><linearGradient id="vg155" x1="0" x2="0" y1="0" y2="1"><stop offset="0" stop-color="rgb(0,170,255)" stop-opacity="0.0"/><stop offset="1" stop-color="rgb(0,170,255)" stop-opacity="0.9"/></linearGradient><linearGradient id="vg156" x1="0" x2="0" y1="0" y2="1"><stop offset="0" stop-color="rgb(0,70,255)" stop-opacity="0.0"/><stop offset="1" stop-color="rgb(0,70,255)"/></linearGradient><linearGradient id="vg157" x1="0" x2="0" y1="0" y2="1"><stop offset="0" stop-color="rgb(0,40,245)" stop-opacity="0.0"/><stop offset="1" stop-color="rgb(0,40,245)"/></linearGradient><linearGradient id="vg158" x1="0" x2="0" y1="0" y2="1"><stop offset="0" stop-color="rgb(0,40,245)" stop-opacity="0.0"/><stop offset="1" stop-color="rgb(0,40,245)"/></linearGradient><linearGradient id="vg159" x1="0" x2="0" y1="0" y2="1"><stop offset="0" stop-color="rgb(0,30,240)" stop-opacity="0.0"/><stop offset="1" stop-color="rgb(0,30,240)"/></linearGradient><linearGradient id="vg160" x1="0" x2="0" y1="0" y2="1"><stop offset="0" stop-color="rgb(0,40,245)" stop-opacity="0.0"/><stop offset="1" stop-color="rgb(0,40,245)"/></linearGradient><linearGradient id="vg161" x1="0" x2="0" y1="0" y2="1"><stop offset="0" stop-color="rgb(0,30,240)" stop-opacity="0.0"/><stop offset="1" stop-color="rgb(0,30,240)"/></linearGradient><linearGradient id="vg162" x1="0" x2="0" y1="0" y2="1"><stop offset="0" stop-color="rgb(0,30,240)" stop-opacity="0.0"/><stop offset="1" stop-color="rgb(0,30,240)"/></linearGradient><linearGradient id="vg163" x1="0" x2="0" y1="0" y2="1"><stop offset="0" stop-color="rgb(0,25,235)" stop-opacity="0.0"/><stop offset="1" stop-color="rgb(0,25,235)"/></linearGradient><linearGradient id="vg164" x1="0" x2="0" y1="0" y2="1"><stop offset="0" stop-color="rgb(0,20,210)" stop-opacity="0.0"/><stop offset="1" stop-color="rgb(0,20,210)"/></linearGradient><linearGradient id="vg165" x1="0" x2="0" y1="0" y2="1"><stop offset="0" stop-color="rgb(0,20,200)" stop-opacity="0.0"/><stop offset="1" stop-color="rgb(0,20,200)"/></linearGradient><linearGradient id="hg166" x1="0" x2="1" y1="0" y2="0"><stop offset="0" stop-color="rgb(0,8,250)"/><stop offset="0.22" stop-color="rgb(0,160,255)"/><stop offset="0.4" stop-color="rgb(0,235,255)"/><stop offset="0.5" stop-color="rgb(160,255,255)"/><stop offset="0.6" stop-color="rgb(0,235,255)"/><stop offset="0.78" stop-color="rgb(0,160,255)"/><stop offset="1" stop-color="rgb(0,8,250)"/></linearGradient><linearGradient id="hg167" x1="0" x2="1" y1="0" y2="0"><stop offset="0" stop-color="rgb(0,0,225)" stop-opacity="0"/><stop offset="0.5" stop-color="rgb(0,90,255)"/><stop offset="1" stop-color="rgb(0,0,225)" stop-opacity="0"/></linearGradient><linearGradient id="hg168" x1="0" x2="1" y1="0" y2="0"><stop offset="0" stop-color="rgb(0,12,245)"/><stop offset="0.12" stop-color="rgb(0,200,255)"/><stop offset="0.2" stop-color="rgb(255,235,0)"/><stop offset="0.27" stop-color="rgb(255,10,0)"/><stop offset="0.73" stop-color="rgb(255,10,0)"/><stop offset="0.8" stop-color="rgb(255,235,0)"/><stop offset="0.88" stop-color="rgb(0,200,255)"/><stop offset="1" stop-color="rgb(0,12,245)"/></linearGradient><linearGradient id="hg169" x1="0" x2="1" y1="0" y2="0"><stop offset="0" stop-color="rgb(0,15,245)"/><stop offset="0.18" stop-color="rgb(0,200,255)"/><stop offset="0.35" stop-color="rgb(200,255,90)"/><stop offset="0.5" stop-color="rgb(255,235,0)"/><stop offset="0.65" stop-color="rgb(200,255,90)"/><stop offset="0.82" stop-color="rgb(0,200,255)"/><stop offset="1" stop-color="rgb(0,15,245)"/></linearGradient><linearGradient id="mg171" gradientUnits="userSpaceOnUse" x1="0" y1="48.7" x2="0" y2="262"><stop offset="0.9156" stop-color="white"/><stop offset="0.9719" stop-color="black"/></linearGradient><mask id="mk170" maskUnits="userSpaceOnUse" x="0" y="43.7" width="702" height="223.3"><rect x="0" y="43.7" width="702" height="223.3" fill="url(#mg171)"/></mask><linearGradient id="hg172" x1="0" x2="1" y1="0" y2="0"><stop offset="0" stop-color="rgb(0,15,245)"/><stop offset="0.15" stop-color="rgb(0,200,255)"/><stop offset="0.3" stop-color="rgb(255,235,0)"/><stop offset="0.5" stop-color="rgb(255,130,0)"/><stop offset="0.7" stop-color="rgb(255,235,0)"/><stop offset="0.85" stop-color="rgb(0,200,255)"/><stop offset="1" stop-color="rgb(0,15,245)"/></linearGradient><linearGradient id="mg174" gradientUnits="userSpaceOnUse" x1="0" y1="48.7" x2="0" y2="262"><stop offset="0.7937" stop-color="white"/><stop offset="0.8875" stop-color="black"/></linearGradient><mask id="mk173" maskUnits="userSpaceOnUse" x="0" y="43.7" width="702" height="223.3"><rect x="0" y="43.7" width="702" height="223.3" fill="url(#mg174)"/></mask><linearGradient id="hg175" x1="0" x2="1" y1="0" y2="0"><stop offset="0" stop-color="rgb(0,15,245)"/><stop offset="0.18" stop-color="rgb(0,200,255)"/><stop offset="0.35" stop-color="rgb(200,255,90)"/><stop offset="0.5" stop-color="rgb(255,235,0)"/><stop offset="0.65" stop-color="rgb(200,255,90)"/><stop offset="0.82" stop-color="rgb(0,200,255)"/><stop offset="1" stop-color="rgb(0,15,245)"/></linearGradient><linearGradient id="mg177" gradientUnits="userSpaceOnUse" x1="0" y1="48.7" x2="0" y2="262"><stop offset="0.6531" stop-color="white"/><stop offset="0.7656" stop-color="black"/></linearGradient><mask id="mk176" maskUnits="userSpaceOnUse" x="0" y="43.7" width="702" height="223.3"><rect x="0" y="43.7" width="702" height="223.3" fill="url(#mg177)"/></mask><linearGradient id="hg178" x1="0" x2="1" y1="0" y2="0"><stop offset="0" stop-color="rgb(0,15,245)"/><stop offset="0.22" stop-color="rgb(0,160,255)"/><stop offset="0.4" stop-color="rgb(0,235,255)"/><stop offset="0.5" stop-color="rgb(160,255,255)"/><stop offset="0.6" stop-color="rgb(0,235,255)"/><stop offset="0.78" stop-color="rgb(0,160,255)"/><stop offset="1" stop-color="rgb(0,15,245)"/></linearGradient><linearGradient id="vg179" x1="0" x2="0" y1="0" y2="1"><stop offset="0" stop-color="rgb(0,150,255)" stop-opacity="0.6"/><stop offset="1" stop-color="rgb(0,150,255)" stop-opacity="0.9"/></linearGradient><linearGradient id="vg180" x1="0" x2="0" y1="0" y2="1"><stop offset="0" stop-color="rgb(0,170,255)" stop-opacity="0.6"/><stop offset="1" stop-color="rgb(0,170,255)" stop-opacity="0.9"/></linearGradient><linearGradient id="vg181" x1="0" x2="0" y1="0" y2="1"><stop offset="0" stop-color="rgb(0,150,255)" stop-opacity="0.6"/><stop offset="1" stop-color="rgb(0,150,255)" stop-opacity="0.9"/></linearGradient><linearGradient id="vg182" x1="0" x2="0" y1="0" y2="1"><stop offset="0" stop-color="rgb(0,120,255)" stop-opacity="0.6"/><stop offset="1" stop-color="rgb(0,120,255)" stop-opacity="0.9"/></linearGradient><linearGradient id="vg183" x1="0" x2="0" y1="0" y2="1"><stop offset="0" stop-color="rgb(0,120,255)" stop-opacity="0.6"/><stop offset="1" stop-color="rgb(0,120,255)" stop-opacity="0.9"/></linearGradient><linearGradient id="vg184" x1="0" x2="0" y1="0" y2="1"><stop offset="0" stop-color="rgb(0,90,255)" stop-opacity="0.6"/><stop offset="1" stop-color="rgb(0,90,255)" stop-opacity="0.9"/></linearGradient><linearGradient id="vg185" x1="0" x2="0" y1="0" y2="1"><stop offset="0" stop-color="rgb(0,140,255)" stop-opacity="0.6"/><stop offset="1" stop-color="rgb(0,140,255)" stop-opacity="0.9"/></linearGradient><clipPath id="cp186"><rect x="297.3" y="482.59999999999997" width="199.4" height="305.90000000000003"/></clipPath><linearGradient id="hg187" x1="0" x2="1" y1="0" y2="0"><stop offset="0" stop-color="rgb(255,255,247)"/><stop offset="0.05" stop-color="rgb(228,254,255)"/><stop offset="0.14" stop-color="rgb(215,252,255)"/><stop offset="0.3" stop-color="rgb(178,247,255)"/><stop offset="0.78" stop-color="rgb(180,245,255)"/><stop offset="0.9" stop-color="rgb(215,250,255)"/><stop offset="1" stop-color="rgb(242,252,252)"/></linearGradient><filter id="bl188" x="-100%" y="-100%" width="300%" height="300%"><feGaussianBlur stdDeviation="2"/></filter><linearGradient id="vg189" x1="0" x2="0" y1="0" y2="1"><stop offset="0" stop-color="rgb(205,243,255)" stop-opacity="0.9"/><stop offset="1" stop-color="rgb(205,243,255)"/></linearGradient><linearGradient id="vg190" x1="0" x2="0" y1="0" y2="1"><stop offset="0" stop-color="rgb(200,240,255)" stop-opacity="0.5"/><stop offset="1" stop-color="rgb(200,240,255)"/></linearGradient><linearGradient id="vg191" x1="0" x2="0" y1="0" y2="1"><stop offset="0" stop-color="rgb(205,242,255)" stop-opacity="0.2"/><stop offset="1" stop-color="rgb(205,242,255)" stop-opacity="0.9"/></linearGradient><linearGradient id="vg192" x1="0" x2="0" y1="0" y2="1"><stop offset="0" stop-color="rgb(190,236,255)" stop-opacity="0.2"/><stop offset="1" stop-color="rgb(190,236,255)" stop-opacity="0.9"/></linearGradient><linearGradient id="vg193" x1="0" x2="0" y1="0" y2="1"><stop offset="0" stop-color="rgb(190,236,255)" stop-opacity="0.2"/><stop offset="1" stop-color="rgb(190,236,255)" stop-opacity="0.9"/></linearGradient><linearGradient id="vg194" x1="0" x2="0" y1="0" y2="1"><stop offset="0" stop-color="rgb(180,230,255)" stop-opacity="0.2"/><stop offset="1" stop-color="rgb(180,230,255)"/></linearGradient><linearGradient id="vg195" x1="0" x2="0" y1="0" y2="1"><stop offset="0" stop-color="rgb(190,236,255)" stop-opacity="0.2"/><stop offset="1" stop-color="rgb(190,236,255)" stop-opacity="0.9"/></linearGradient><linearGradient id="vg196" x1="0" x2="0" y1="0" y2="1"><stop offset="0" stop-color="rgb(200,240,255)" stop-opacity="0.1"/><stop offset="1" stop-color="rgb(200,240,255)" stop-opacity="0.8"/></linearGradient><linearGradient id="vg197" x1="0" x2="0" y1="0" y2="1"><stop offset="0" stop-color="rgb(170,225,255)" stop-opacity="0.1"/><stop offset="1" stop-color="rgb(170,225,255)"/></linearGradient><linearGradient id="vg198" x1="0" x2="0" y1="0" y2="1"><stop offset="0" stop-color="rgb(200,240,255)" stop-opacity="0.1"/><stop offset="1" stop-color="rgb(200,240,255)" stop-opacity="0.8"/></linearGradient><linearGradient id="vg199" x1="0" x2="0" y1="0" y2="1"><stop offset="0" stop-color="rgb(175,228,255)" stop-opacity="0.1"/><stop offset="1" stop-color="rgb(175,228,255)"/></linearGradient><linearGradient id="vg200" x1="0" x2="0" y1="0" y2="1"><stop offset="0" stop-color="rgb(200,240,255)" stop-opacity="0.1"/><stop offset="1" stop-color="rgb(200,240,255)" stop-opacity="0.8"/></linearGradient><linearGradient id="vg201" x1="0" x2="0" y1="0" y2="1"><stop offset="0" stop-color="rgb(170,225,255)" stop-opacity="0.1"/><stop offset="1" stop-color="rgb(170,225,255)"/></linearGradient><linearGradient id="vg202" x1="0" x2="0" y1="0" y2="1"><stop offset="0" stop-color="rgb(210,243,255)" stop-opacity="0.1"/><stop offset="1" stop-color="rgb(210,243,255)" stop-opacity="0.7"/></linearGradient><linearGradient id="vg203" x1="0" x2="0" y1="0" y2="1"><stop offset="0" stop-color="rgb(215,245,255)" stop-opacity="0.1"/><stop offset="1" stop-color="rgb(215,245,255)" stop-opacity="0.6"/></linearGradient><linearGradient id="vg204" x1="0" x2="0" y1="0" y2="1"><stop offset="0" stop-color="rgb(130,200,255)" stop-opacity="0.5"/><stop offset="1" stop-color="rgb(130,200,255)"/></linearGradient><linearGradient id="vg205" x1="0" x2="0" y1="0" y2="1"><stop offset="0" stop-color="rgb(170,225,255)" stop-opacity="0.3"/><stop offset="1" stop-color="rgb(170,225,255)"/></linearGradient><linearGradient id="vg206" x1="0" x2="0" y1="0" y2="1"><stop offset="0" stop-color="rgb(180,232,255)" stop-opacity="0.6"/><stop offset="1" stop-color="rgb(180,232,255)"/></linearGradient><linearGradient id="vg207" x1="0" x2="0" y1="0" y2="1"><stop offset="0" stop-color="rgb(185,235,255)" stop-opacity="0.4"/><stop offset="1" stop-color="rgb(185,235,255)"/></linearGradient><linearGradient id="vg208" x1="0" x2="0" y1="0" y2="1"><stop offset="0" stop-color="rgb(40,130,255)" stop-opacity="0.0"/><stop offset="1" stop-color="rgb(40,130,255)"/></linearGradient><linearGradient id="vg209" x1="0" x2="0" y1="0" y2="1"><stop offset="0" stop-color="rgb(60,145,255)" stop-opacity="0.0"/><stop offset="1" stop-color="rgb(60,145,255)"/></linearGradient><linearGradient id="vg210" x1="0" x2="0" y1="0" y2="1"><stop offset="0" stop-color="rgb(90,165,255)" stop-opacity="0.0"/><stop offset="1" stop-color="rgb(90,165,255)"/></linearGradient><linearGradient id="vg211" x1="0" x2="0" y1="0" y2="1"><stop offset="0" stop-color="rgb(110,180,255)" stop-opacity="0.0"/><stop offset="1" stop-color="rgb(110,180,255)"/></linearGradient><filter id="bl212" x="-100%" y="-100%" width="300%" height="300%"><feGaussianBlur stdDeviation="1.5"/></filter><linearGradient id="vg213" x1="0" x2="0" y1="0" y2="1"><stop offset="0" stop-color="rgb(110,185,255)" stop-opacity="0.8"/><stop offset="1" stop-color="rgb(110,185,255)"/></linearGradient><linearGradient id="vg214" x1="0" x2="0" y1="0" y2="1"><stop offset="0" stop-color="rgb(140,205,255)" stop-opacity="0.6"/><stop offset="1" stop-color="rgb(140,205,255)"/></linearGradient><linearGradient id="vg215" x1="0" x2="0" y1="0" y2="1"><stop offset="0" stop-color="rgb(120,195,255)" stop-opacity="0.6"/><stop offset="1" stop-color="rgb(120,195,255)"/></linearGradient><linearGradient id="vg216" x1="0" x2="0" y1="0" y2="1"><stop offset="0" stop-color="rgb(110,190,255)" stop-opacity="0.6"/><stop offset="1" stop-color="rgb(110,190,255)"/></linearGradient><linearGradient id="vg217" x1="0" x2="0" y1="0" y2="1"><stop offset="0" stop-color="rgb(90,175,255)" stop-opacity="0.6"/><stop offset="1" stop-color="rgb(90,175,255)"/></linearGradient><linearGradient id="vg218" x1="0" x2="0" y1="0" y2="1"><stop offset="0" stop-color="rgb(120,195,255)" stop-opacity="0.6"/><stop offset="1" stop-color="rgb(120,195,255)"/></linearGradient><linearGradient id="vg219" x1="0" x2="0" y1="0" y2="1"><stop offset="0" stop-color="rgb(80,165,255)" stop-opacity="0.8"/><stop offset="1" stop-color="rgb(80,165,255)"/></linearGradient><linearGradient id="vg220" x1="0" x2="0" y1="0" y2="1"><stop offset="0" stop-color="rgb(60,150,255)" stop-opacity="0.8"/><stop offset="1" stop-color="rgb(60,150,255)"/></linearGradient><linearGradient id="vg221" x1="0" x2="0" y1="0" y2="1"><stop offset="0" stop-color="rgb(130,200,255)" stop-opacity="0.5"/><stop offset="1" stop-color="rgb(130,200,255)"/></linearGradient><linearGradient id="vg222" x1="0" x2="0" y1="0" y2="1"><stop offset="0" stop-color="rgb(110,185,255)" stop-opacity="0.6"/><stop offset="1" stop-color="rgb(110,185,255)"/></linearGradient><linearGradient id="vg223" x1="0" x2="0" y1="0" y2="1"><stop offset="0" stop-color="rgb(150,210,255)" stop-opacity="0.6"/><stop offset="1" stop-color="rgb(150,210,255)"/></linearGradient><linearGradient id="hg224" x1="0" x2="1" y1="0" y2="0"><stop offset="0" stop-color="rgb(255,255,247)" stop-opacity="0"/><stop offset="0.25" stop-color="rgb(255,25,0)" stop-opacity="0.7"/><stop offset="0.5" stop-color="rgb(255,25,0)"/><stop offset="0.75" stop-color="rgb(255,25,0)" stop-opacity="0.7"/><stop offset="1" stop-color="rgb(255,255,247)" stop-opacity="0"/></linearGradient><linearGradient id="hg225" x1="0" x2="1" y1="0" y2="0"><stop offset="0" stop-color="rgb(255,255,247)" stop-opacity="0"/><stop offset="0.25" stop-color="rgb(255,70,10)" stop-opacity="0.7"/><stop offset="0.5" stop-color="rgb(255,70,10)"/><stop offset="0.75" stop-color="rgb(255,70,10)" stop-opacity="0.7"/><stop offset="1" stop-color="rgb(255,255,247)" stop-opacity="0"/></linearGradient><linearGradient id="hg226" x1="0" x2="1" y1="0" y2="0"><stop offset="0" stop-color="rgb(200,250,255)" stop-opacity="0"/><stop offset="0.25" stop-color="rgb(150,232,255)" stop-opacity="0.63"/><stop offset="0.5" stop-color="rgb(150,232,255)" stop-opacity="0.9"/><stop offset="0.75" stop-color="rgb(150,232,255)" stop-opacity="0.63"/><stop offset="1" stop-color="rgb(200,250,255)" stop-opacity="0"/></linearGradient><linearGradient id="hg227" x1="0" x2="1" y1="0" y2="0"><stop offset="0" stop-color="rgb(200,250,255)" stop-opacity="0"/><stop offset="0.25" stop-color="rgb(255,243,190)" stop-opacity="0.7"/><stop offset="0.5" stop-color="rgb(255,243,190)"/><stop offset="0.75" stop-color="rgb(255,243,190)" stop-opacity="0.7"/><stop offset="1" stop-color="rgb(200,250,255)" stop-opacity="0"/></linearGradient><linearGradient id="mg229" gradientUnits="userSpaceOnUse" x1="0" y1="482.59999999999997" x2="0" y2="788.5"><stop offset="0.2530" stop-color="black"/><stop offset="0.7107" stop-color="white"/></linearGradient><mask id="mk228" maskUnits="userSpaceOnUse" x="0" y="477.59999999999997" width="702" height="315.90000000000003"><rect x="0" y="477.59999999999997" width="702" height="315.90000000000003" fill="url(#mg229)"/></mask><linearGradient id="hg230" x1="0" x2="1" y1="0" y2="0"><stop offset="0" stop-color="rgb(180,245,255)" stop-opacity="0"/><stop offset="0.25" stop-color="rgb(255,140,80)" stop-opacity="0.7"/><stop offset="0.5" stop-color="rgb(255,140,80)"/><stop offset="0.75" stop-color="rgb(255,140,80)" stop-opacity="0.7"/><stop offset="1" stop-color="rgb(180,245,255)" stop-opacity="0"/></linearGradient><linearGradient id="hg231" x1="0" x2="1" y1="0" y2="0"><stop offset="0" stop-color="rgb(180,245,255)" stop-opacity="0"/><stop offset="0.25" stop-color="rgb(0,85,240)" stop-opacity="0.7"/><stop offset="0.5" stop-color="rgb(0,85,240)"/><stop offset="0.75" stop-color="rgb(0,85,240)" stop-opacity="0.7"/><stop offset="1" stop-color="rgb(180,245,255)" stop-opacity="0"/></linearGradient><linearGradient id="hg232" x1="0" x2="1" y1="0" y2="0"><stop offset="0" stop-color="rgb(180,245,255)" stop-opacity="0"/><stop offset="0.25" stop-color="rgb(40,135,255)" stop-opacity="0.7"/><stop offset="0.5" stop-color="rgb(40,135,255)"/><stop offset="0.75" stop-color="rgb(40,135,255)" stop-opacity="0.7"/><stop offset="1" stop-color="rgb(180,245,255)" stop-opacity="0"/></linearGradient><linearGradient id="vg233" x1="0" x2="0" y1="0" y2="1"><stop offset="0" stop-color="rgb(255,120,60)" stop-opacity="0.2"/><stop offset="1" stop-color="rgb(255,120,60)"/></linearGradient><clipPath id="cp234"><rect x="497.3" y="482.59999999999997" width="199.4" height="305.90000000000003"/></clipPath><linearGradient id="hg235" x1="0" x2="1" y1="0" y2="0"><stop offset="0" stop-color="rgb(255,255,247)"/><stop offset="0.05" stop-color="rgb(228,254,255)"/><stop offset="0.14" stop-color="rgb(215,252,255)"/><stop offset="0.3" stop-color="rgb(178,247,255)"/><stop offset="0.78" stop-color="rgb(180,245,255)"/><stop offset="0.9" stop-color="rgb(215,250,255)"/><stop offset="1" stop-color="rgb(242,252,252)"/></linearGradient><linearGradient id="vg236" x1="0" x2="0" y1="0" y2="1"><stop offset="0" stop-color="rgb(205,243,255)" stop-opacity="0.9"/><stop offset="1" stop-color="rgb(205,243,255)"/></linearGradient><linearGradient id="vg237" x1="0" x2="0" y1="0" y2="1"><stop offset="0" stop-color="rgb(200,240,255)" stop-opacity="0.5"/><stop offset="1" stop-color="rgb(200,240,255)"/></linearGradient><linearGradient id="vg238" x1="0" x2="0" y1="0" y2="1"><stop offset="0" stop-color="rgb(205,242,255)" stop-opacity="0.2"/><stop offset="1" stop-color="rgb(205,242,255)" stop-opacity="0.9"/></linearGradient><linearGradient id="vg239" x1="0" x2="0" y1="0" y2="1"><stop offset="0" stop-color="rgb(190,236,255)" stop-opacity="0.2"/><stop offset="1" stop-color="rgb(190,236,255)" stop-opacity="0.9"/></linearGradient><linearGradient id="vg240" x1="0" x2="0" y1="0" y2="1"><stop offset="0" stop-color="rgb(190,236,255)" stop-opacity="0.2"/><stop offset="1" stop-color="rgb(190,236,255)" stop-opacity="0.9"/></linearGradient><linearGradient id="vg241" x1="0" x2="0" y1="0" y2="1"><stop offset="0" stop-color="rgb(180,230,255)" stop-opacity="0.2"/><stop offset="1" stop-color="rgb(180,230,255)"/></linearGradient><linearGradient id="vg242" x1="0" x2="0" y1="0" y2="1"><stop offset="0" stop-color="rgb(190,236,255)" stop-opacity="0.2"/><stop offset="1" stop-color="rgb(190,236,255)" stop-opacity="0.9"/></linearGradient><linearGradient id="vg243" x1="0" x2="0" y1="0" y2="1"><stop offset="0" stop-color="rgb(200,240,255)" stop-opacity="0.1"/><stop offset="1" stop-color="rgb(200,240,255)" stop-opacity="0.8"/></linearGradient><linearGradient id="vg244" x1="0" x2="0" y1="0" y2="1"><stop offset="0" stop-color="rgb(170,225,255)" stop-opacity="0.1"/><stop offset="1" stop-color="rgb(170,225,255)"/></linearGradient><linearGradient id="vg245" x1="0" x2="0" y1="0" y2="1"><stop offset="0" stop-color="rgb(200,240,255)" stop-opacity="0.1"/><stop offset="1" stop-color="rgb(200,240,255)" stop-opacity="0.8"/></linearGradient><linearGradient id="vg246" x1="0" x2="0" y1="0" y2="1"><stop offset="0" stop-color="rgb(175,228,255)" stop-opacity="0.1"/><stop offset="1" stop-color="rgb(175,228,255)"/></linearGradient><linearGradient id="vg247" x1="0" x2="0" y1="0" y2="1"><stop offset="0" stop-color="rgb(200,240,255)" stop-opacity="0.1"/><stop offset="1" stop-color="rgb(200,240,255)" stop-opacity="0.8"/></linearGradient><linearGradient id="vg248" x1="0" x2="0" y1="0" y2="1"><stop offset="0" stop-color="rgb(170,225,255)" stop-opacity="0.1"/><stop offset="1" stop-color="rgb(170,225,255)"/></linearGradient><linearGradient id="vg249" x1="0" x2="0" y1="0" y2="1"><stop offset="0" stop-color="rgb(210,243,255)" stop-opacity="0.1"/><stop offset="1" stop-color="rgb(210,243,255)" stop-opacity="0.7"/></linearGradient><linearGradient id="vg250" x1="0" x2="0" y1="0" y2="1"><stop offset="0" stop-color="rgb(215,245,255)" stop-opacity="0.1"/><stop offset="1" stop-color="rgb(215,245,255)" stop-opacity="0.6"/></linearGradient><linearGradient id="vg251" x1="0" x2="0" y1="0" y2="1"><stop offset="0" stop-color="rgb(130,200,255)" stop-opacity="0.5"/><stop offset="1" stop-color="rgb(130,200,255)"/></linearGradient><linearGradient id="vg252" x1="0" x2="0" y1="0" y2="1"><stop offset="0" stop-color="rgb(170,225,255)" stop-opacity="0.3"/><stop offset="1" stop-color="rgb(170,225,255)"/></linearGradient><linearGradient id="vg253" x1="0" x2="0" y1="0" y2="1"><stop offset="0" stop-color="rgb(180,232,255)" stop-opacity="0.6"/><stop offset="1" stop-color="rgb(180,232,255)"/></linearGradient><linearGradient id="vg254" x1="0" x2="0" y1="0" y2="1"><stop offset="0" stop-color="rgb(185,235,255)" stop-opacity="0.4"/><stop offset="1" stop-color="rgb(185,235,255)"/></linearGradient><linearGradient id="vg255" x1="0" x2="0" y1="0" y2="1"><stop offset="0" stop-color="rgb(40,130,255)" stop-opacity="0.0"/><stop offset="1" stop-color="rgb(40,130,255)"/></linearGradient><linearGradient id="vg256" x1="0" x2="0" y1="0" y2="1"><stop offset="0" stop-color="rgb(60,145,255)" stop-opacity="0.0"/><stop offset="1" stop-color="rgb(60,145,255)"/></linearGradient><linearGradient id="vg257" x1="0" x2="0" y1="0" y2="1"><stop offset="0" stop-color="rgb(90,165,255)" stop-opacity="0.0"/><stop offset="1" stop-color="rgb(90,165,255)"/></linearGradient><linearGradient id="vg258" x1="0" x2="0" y1="0" y2="1"><stop offset="0" stop-color="rgb(110,180,255)" stop-opacity="0.0"/><stop offset="1" stop-color="rgb(110,180,255)"/></linearGradient><linearGradient id="vg259" x1="0" x2="0" y1="0" y2="1"><stop offset="0" stop-color="rgb(110,185,255)" stop-opacity="0.8"/><stop offset="1" stop-color="rgb(110,185,255)"/></linearGradient><linearGradient id="vg260" x1="0" x2="0" y1="0" y2="1"><stop offset="0" stop-color="rgb(140,205,255)" stop-opacity="0.6"/><stop offset="1" stop-color="rgb(140,205,255)"/></linearGradient><linearGradient id="vg261" x1="0" x2="0" y1="0" y2="1"><stop offset="0" stop-color="rgb(120,195,255)" stop-opacity="0.6"/><stop offset="1" stop-color="rgb(120,195,255)"/></linearGradient><linearGradient id="vg262" x1="0" x2="0" y1="0" y2="1"><stop offset="0" stop-color="rgb(110,190,255)" stop-opacity="0.6"/><stop offset="1" stop-color="rgb(110,190,255)"/></linearGradient><linearGradient id="vg263" x1="0" x2="0" y1="0" y2="1"><stop offset="0" stop-color="rgb(90,175,255)" stop-opacity="0.6"/><stop offset="1" stop-color="rgb(90,175,255)"/></linearGradient><linearGradient id="vg264" x1="0" x2="0" y1="0" y2="1"><stop offset="0" stop-color="rgb(120,195,255)" stop-opacity="0.6"/><stop offset="1" stop-color="rgb(120,195,255)"/></linearGradient><linearGradient id="vg265" x1="0" x2="0" y1="0" y2="1"><stop offset="0" stop-color="rgb(80,165,255)" stop-opacity="0.8"/><stop offset="1" stop-color="rgb(80,165,255)"/></linearGradient><linearGradient id="vg266" x1="0" x2="0" y1="0" y2="1"><stop offset="0" stop-color="rgb(60,150,255)" stop-opacity="0.8"/><stop offset="1" stop-color="rgb(60,150,255)"/></linearGradient><linearGradient id="vg267" x1="0" x2="0" y1="0" y2="1"><stop offset="0" stop-color="rgb(130,200,255)" stop-opacity="0.5"/><stop offset="1" stop-color="rgb(130,200,255)"/></linearGradient><linearGradient id="vg268" x1="0" x2="0" y1="0" y2="1"><stop offset="0" stop-color="rgb(110,185,255)" stop-opacity="0.6"/><stop offset="1" stop-color="rgb(110,185,255)"/></linearGradient><linearGradient id="vg269" x1="0" x2="0" y1="0" y2="1"><stop offset="0" stop-color="rgb(150,210,255)" stop-opacity="0.6"/><stop offset="1" stop-color="rgb(150,210,255)"/></linearGradient><linearGradient id="hg270" x1="0" x2="1" y1="0" y2="0"><stop offset="0" stop-color="rgb(255,255,247)" stop-opacity="0"/><stop offset="0.25" stop-color="rgb(255,25,0)" stop-opacity="0.7"/><stop offset="0.5" stop-color="rgb(255,25,0)"/><stop offset="0.75" stop-color="rgb(255,25,0)" stop-opacity="0.7"/><stop offset="1" stop-color="rgb(255,255,247)" stop-opacity="0"/></linearGradient><linearGradient id="hg271" x1="0" x2="1" y1="0" y2="0"><stop offset="0" stop-color="rgb(255,255,247)" stop-opacity="0"/><stop offset="0.25" stop-color="rgb(255,70,10)" stop-opacity="0.7"/><stop offset="0.5" stop-color="rgb(255,70,10)"/><stop offset="0.75" stop-color="rgb(255,70,10)" stop-opacity="0.7"/><stop offset="1" stop-color="rgb(255,255,247)" stop-opacity="0"/></linearGradient><linearGradient id="hg272" x1="0" x2="1" y1="0" y2="0"><stop offset="0" stop-color="rgb(200,250,255)" stop-opacity="0"/><stop offset="0.25" stop-color="rgb(150,232,255)" stop-opacity="0.63"/><stop offset="0.5" stop-color="rgb(150,232,255)" stop-opacity="0.9"/><stop offset="0.75" stop-color="rgb(150,232,255)" stop-opacity="0.63"/><stop offset="1" stop-color="rgb(200,250,255)" stop-opacity="0"/></linearGradient><linearGradient id="hg273" x1="0" x2="1" y1="0" y2="0"><stop offset="0" stop-color="rgb(180,245,255)" stop-opacity="0"/><stop offset="0.25" stop-color="rgb(255,140,80)" stop-opacity="0.7"/><stop offset="0.5" stop-color="rgb(255,140,80)"/><stop offset="0.75" stop-color="rgb(255,140,80)" stop-opacity="0.7"/><stop offset="1" stop-color="rgb(180,245,255)" stop-opacity="0"/></linearGradient><linearGradient id="mg275" gradientUnits="userSpaceOnUse" x1="0" y1="482.59999999999997" x2="0" y2="788.5"><stop offset="0.1223" stop-color="black"/><stop offset="0.6453" stop-color="white"/></linearGradient><mask id="mk274" maskUnits="userSpaceOnUse" x="0" y="477.59999999999997" width="702" height="315.90000000000003"><rect x="0" y="477.59999999999997" width="702" height="315.90000000000003" fill="url(#mg275)"/></mask><linearGradient id="hg276" x1="0" x2="1" y1="0" y2="0"><stop offset="0" stop-color="rgb(180,245,255)" stop-opacity="0"/><stop offset="0.25" stop-color="rgb(255,60,10)" stop-opacity="0.7"/><stop offset="0.5" stop-color="rgb(255,60,10)"/><stop offset="0.75" stop-color="rgb(255,60,10)" stop-opacity="0.7"/><stop offset="1" stop-color="rgb(180,245,255)" stop-opacity="0"/></linearGradient><linearGradient id="hg277" x1="0" x2="1" y1="0" y2="0"><stop offset="0" stop-color="rgb(180,245,255)" stop-opacity="0"/><stop offset="0.25" stop-color="rgb(0,80,245)" stop-opacity="0.7"/><stop offset="0.5" stop-color="rgb(0,80,245)"/><stop offset="0.75" stop-color="rgb(0,80,245)" stop-opacity="0.7"/><stop offset="1" stop-color="rgb(180,245,255)" stop-opacity="0"/></linearGradient><linearGradient id="hg278" x1="0" x2="1" y1="0" y2="0"><stop offset="0" stop-color="rgb(180,245,255)" stop-opacity="0"/><stop offset="0.25" stop-color="rgb(20,115,255)" stop-opacity="0.7"/><stop offset="0.5" stop-color="rgb(20,115,255)"/><stop offset="0.75" stop-color="rgb(20,115,255)" stop-opacity="0.7"/><stop offset="1" stop-color="rgb(180,245,255)" stop-opacity="0"/></linearGradient><linearGradient id="vg279" x1="0" x2="0" y1="0" y2="1"><stop offset="0" stop-color="rgb(255,120,60)" stop-opacity="0.2"/><stop offset="1" stop-color="rgb(255,120,60)"/></linearGradient><linearGradient id="hg280" x1="0" x2="1" y1="0" y2="0"><stop offset="0" stop-color="rgb(0,0,0)"/><stop offset="0.1" stop-color="rgb(0,0,60)"/><stop offset="0.21" stop-color="rgb(0,0,255)"/><stop offset="0.4" stop-color="rgb(0,255,255)"/><stop offset="0.5" stop-color="rgb(0,255,255)"/><stop offset="0.56" stop-color="rgb(255,255,255)"/><stop offset="0.63" stop-color="rgb(255,255,0)"/><stop offset="0.82" stop-color="rgb(255,140,0)"/><stop offset="1" stop-color="rgb(255,0,0)"/></linearGradient></defs>
<rect x="0.00" y="0.00" width="702.00" height="856.00" fill="#ffffff" />
<g clip-path="url(#cp1)">
<rect x="97.50" y="48.70" width="199.00" height="305.90" fill="rgb(0,0,150)" />
<rect x="148.00" y="48.70" width="148.50" height="212.90" fill="url(#hg2)" />
<rect x="148.00" y="48.70" width="148.50" height="212.90" fill="url(#vg3)" />
<rect x="97.50" y="48.70" width="23.00" height="305.90" fill="url(#hg4)" />
<rect x="120.50" y="48.70" width="27.50" height="305.90" fill="rgb(0,12,245)" />
<rect x="147.50" y="261.60" width="149.00" height="28.40" fill="url(#hg5)" />
<rect x="147.50" y="290.00" width="149.00" height="13.00" fill="url(#hg6)" />
<rect x="147.50" y="303.00" width="149.00" height="14.00" fill="url(#hg7)" />
<rect x="147.50" y="317.00" width="149.00" height="5.50" fill="url(#hg8)" />
<rect x="147.50" y="322.50" width="149.00" height="4.50" fill="url(#hg9)" />
<rect x="147.50" y="327.00" width="149.00" height="13.00" fill="url(#hg10)" />
<rect x="147.50" y="340.00" width="149.00" height="8.80" fill="url(#hg11)" />
<rect x="97.50" y="348.80" width="199.00" height="3.80" fill="url(#hg12)" />
<rect x="97.50" y="352.60" width="199.00" height="3.00" fill="url(#hg13)" />
<rect x="97.50" y="325.30" width="52.00" height="2.90" fill="rgb(0,0,115)" />
<rect x="198.20" y="48.70" width="2.20" height="213.30" fill="url(#vg14)" filter="url(#bl15)"/>
<rect x="197.70" y="185.00" width="2.40" height="77.00" fill="url(#vg16)" filter="url(#bl17)"/>
<rect x="211.70" y="215.00" width="2.20" height="47.00" fill="url(#vg18)" filter="url(#bl17)"/>
<rect x="229.10" y="225.00" width="2.20" height="37.00" fill="url(#vg19)" filter="url(#bl17)"/>
<rect x="259.90" y="225.00" width="2.60" height="37.00" fill="url(#vg20)" filter="url(#bl17)"/>
<rect x="197.50" y="75.00" width="2.60" height="187.00" fill="url(#vg21)" filter="url(#bl22)"/>
<rect x="211.40" y="110.00" width="2.40" height="152.00" fill="url(#vg23)" filter="url(#bl22)"/>
<rect x="228.80" y="140.00" width="2.40" height="122.00" fill="url(#vg24)" filter="url(#bl22)"/>
<rect x="246.20" y="160.00" width="2.20" height="102.00" fill="url(#vg25)" filter="url(#bl22)"/>
<rect x="259.70" y="150.00" width="2.60" height="112.00" fill="url(#vg26)" filter="url(#bl22)"/>
<rect x="157.90" y="140.00" width="2.20" height="122.00" fill="url(#vg27)" filter="url(#bl22)"/>
<rect x="175.40" y="150.00" width="2.20" height="112.00" fill="url(#vg28)" filter="url(#bl22)"/>
<rect x="184.00" y="170.00" width="2.00" height="92.00" fill="url(#vg29)" filter="url(#bl22)"/>
<rect x="171.00" y="60.00" width="2.00" height="202.00" fill="url(#vg30)" filter="url(#bl22)"/>
<rect x="152.00" y="60.00" width="2.00" height="202.00" fill="url(#vg31)" filter="url(#bl22)"/>
<ellipse cx="198.80" cy="256.00" rx="1.60" ry="6.00" fill="rgb(0,235,255)" opacity="1.0" filter="url(#bl15)"/>
<ellipse cx="198.80" cy="259.50" rx="1.30" ry="2.00" fill="rgb(220,255,120)" opacity="1.0" filter="url(#bl15)"/>
<ellipse cx="212.80" cy="256.50" rx="1.50" ry="4.00" fill="rgb(0,210,255)" opacity="1.0" filter="url(#bl15)"/>
<ellipse cx="230.00" cy="257.00" rx="1.60" ry="4.00" fill="rgb(0,220,255)" opacity="1.0" filter="url(#bl15)"/>
<ellipse cx="261.00" cy="255.50" rx="2.60" ry="5.00" fill="rgb(0,230,255)" opacity="1.0" filter="url(#bl15)"/>
<ellipse cx="266.50" cy="252.00" rx="1.50" ry="2.00" fill="rgb(0,200,255)" opacity="1.0" filter="url(#bl15)"/>
<ellipse cx="270.00" cy="258.00" rx="1.80" ry="2.00" fill="rgb(0,160,255)" opacity="1.0" filter="url(#bl15)"/>
<ellipse cx="167.80" cy="207.50" rx="1.80" ry="2.80" fill="rgb(150,255,255)" opacity="1.0" filter="url(#bl15)"/>
<ellipse cx="185.60" cy="251.00" rx="1.80" ry="2.50" fill="rgb(0,220,255)" opacity="1.0" filter="url(#bl15)"/>
<ellipse cx="176.50" cy="257.00" rx="1.20" ry="3.00" fill="rgb(0,150,255)" opacity="1.0" filter="url(#bl15)"/>
<ellipse cx="159.00" cy="258.00" rx="1.20" ry="3.00" fill="rgb(0,130,255)" opacity="1.0" filter="url(#bl15)"/>
<rect x="120.10" y="48.70" width="3.80" height="212.90" fill="url(#hg32)" />
<rect x="120.50" y="261.60" width="3.00" height="93.00" fill="url(#hg33)" />
<rect x="131.10" y="48.70" width="8.60" height="249.30" fill="url(#hg34)" />
<rect x="142.50" y="48.70" width="4.40" height="213.30" fill="url(#hg35)" />
<g mask="url(#mk36)"><rect x="142.50" y="48.70" width="4.40" height="208.30" fill="url(#hg38)" /></g>
<g mask="url(#mk39)"><rect x="142.50" y="48.70" width="4.40" height="190.30" fill="url(#hg41)" /></g>
<g mask="url(#mk42)"><rect x="142.50" y="48.70" width="4.40" height="164.30" fill="url(#hg44)" /></g>
<path d="M133.60,297.80 a1.80,1.80 0 0,1 3.60,0 L137.20,298.70 a1.80,1.80 0 0,1 -3.60,0 Z" fill="rgb(0,235,255)" stroke="rgb(0,235,255)" stroke-width="2.80" stroke-linejoin="round" filter="url(#bl45)"/>
<path d="M133.60,297.80 a1.80,1.80 0 0,1 3.60,0 L137.20,298.70 a1.80,1.80 0 0,1 -3.60,0 Z" fill="rgb(255,235,0)" stroke="rgb(255,225,0)" stroke-width="1.10" stroke-linejoin="round" filter="url(#bl45)"/>
<path d="M133.60,297.80 a1.80,1.80 0 0,1 3.60,0 L137.20,298.70 a1.80,1.80 0 0,1 -3.60,0 Z" fill="rgb(255,10,0)" filter="url(#bl45)"/>
<path d="M133.60,302.50 a1.80,1.00 0 0,1 3.60,0 L137.20,302.50 a1.80,1.00 0 0,1 -3.60,0 Z" fill="rgb(0,235,255)" stroke="rgb(0,235,255)" stroke-width="2.80" stroke-linejoin="round" filter="url(#bl45)"/>
<path d="M133.60,302.50 a1.80,1.00 0 0,1 3.60,0 L137.20,302.50 a1.80,1.00 0 0,1 -3.60,0 Z" fill="rgb(255,235,0)" stroke="rgb(255,225,0)" stroke-width="1.10" stroke-linejoin="round" filter="url(#bl45)"/>
<path d="M133.60,302.50 a1.80,1.00 0 0,1 3.60,0 L137.20,302.50 a1.80,1.00 0 0,1 -3.60,0 Z" fill="rgb(255,10,0)" filter="url(#bl45)"/>
<path d="M133.60,307.20 a1.80,1.80 0 0,1 3.60,0 L137.20,318.70 a1.80,1.80 0 0,1 -3.60,0 Z" fill="rgb(0,235,255)" stroke="rgb(0,235,255)" stroke-width="2.80" stroke-linejoin="round" filter="url(#bl45)"/>
<path d="M133.60,307.20 a1.80,1.80 0 0,1 3.60,0 L137.20,318.70 a1.80,1.80 0 0,1 -3.60,0 Z" fill="rgb(255,235,0)" stroke="rgb(255,225,0)" stroke-width="1.10" stroke-linejoin="round" filter="url(#bl45)"/>
<path d="M133.60,307.20 a1.80,1.80 0 0,1 3.60,0 L137.20,318.70 a1.80,1.80 0 0,1 -3.60,0 Z" fill="rgb(255,10,0)" filter="url(#bl45)"/>
<path d="M133.60,328.80 a1.80,1.80 0 0,1 3.60,0 L137.20,335.70 a1.80,1.80 0 0,1 -3.60,0 Z" fill="rgb(0,235,255)" stroke="rgb(0,235,255)" stroke-width="2.80" stroke-linejoin="round" filter="url(#bl45)"/>
<path d="M133.60,328.80 a1.80,1.80 0 0,1 3.60,0 L137.20,335.70 a1.80,1.80 0 0,1 -3.60,0 Z" fill="rgb(255,235,0)" stroke="rgb(255,225,0)" stroke-width="1.10" stroke-linejoin="round" filter="url(#bl45)"/>
<path d="M133.60,328.80 a1.80,1.80 0 0,1 3.60,0 L137.20,335.70 a1.80,1.80 0 0,1 -3.60,0 Z" fill="rgb(255,10,0)" filter="url(#bl45)"/>
<path d="M131.60,344.80 L138.60,344.80 L137.00,348.60 L138.60,356.00 L131.60,356.00 L133.40,348.60 Z" fill="rgb(0,235,255)" stroke="rgb(0,235,255)" stroke-width="2.80" stroke-linejoin="round" filter="url(#bl45)"/>
<path d="M131.60,344.80 L138.60,344.80 L137.00,348.60 L138.60,356.00 L131.60,356.00 L133.40,348.60 Z" fill="rgb(255,235,0)" stroke="rgb(255,225,0)" stroke-width="1.10" stroke-linejoin="round" filter="url(#bl45)"/>
<path d="M131.60,344.80 L138.60,344.80 L137.00,348.60 L138.60,356.00 L131.60,356.00 L133.40,348.60 Z" fill="rgb(255,10,0)" filter="url(#bl45)"/>
<path d="M142.60,263.80 a1.80,1.80 0 0,1 3.60,0 L146.20,281.70 a1.80,1.80 0 0,1 -3.60,0 Z" fill="rgb(0,235,255)" stroke="rgb(0,235,255)" stroke-width="2.40" stroke-linejoin="round" filter="url(#bl45)"/>
<path d="M142.60,263.80 a1.80,1.80 0 0,1 3.60,0 L146.20,281.70 a1.80,1.80 0 0,1 -3.60,0 Z" fill="rgb(255,235,0)" stroke="rgb(255,225,0)" stroke-width="0.92" stroke-linejoin="round" filter="url(#bl45)"/>
<path d="M142.60,263.80 a1.80,1.80 0 0,1 3.60,0 L146.20,281.70 a1.80,1.80 0 0,1 -3.60,0 Z" fill="rgb(255,10,0)" filter="url(#bl45)"/>
<path d="M142.80,286.60 a1.60,1.60 0 0,1 3.20,0 L146.00,301.40 a1.60,1.60 0 0,1 -3.20,0 Z" fill="rgb(0,235,255)" stroke="rgb(0,235,255)" stroke-width="2.40" stroke-linejoin="round" filter="url(#bl45)"/>
<path d="M142.80,286.60 a1.60,1.60 0 0,1 3.20,0 L146.00,301.40 a1.60,1.60 0 0,1 -3.20,0 Z" fill="rgb(255,235,0)" stroke="rgb(255,225,0)" stroke-width="0.92" stroke-linejoin="round" filter="url(#bl45)"/>
<path d="M142.90,307.50 a1.50,1.50 0 0,1 3.00,0 L145.90,311.00 a1.50,1.50 0 0,1 -3.00,0 Z" fill="rgb(0,235,255)" stroke="rgb(0,235,255)" stroke-width="2.60" stroke-linejoin="round" filter="url(#bl45)"/>
<path d="M142.90,307.50 a1.50,1.50 0 0,1 3.00,0 L145.90,311.00 a1.50,1.50 0 0,1 -3.00,0 Z" fill="rgb(255,235,0)" stroke="rgb(255,225,0)" stroke-width="1.01" stroke-linejoin="round" filter="url(#bl45)"/>
<path d="M142.90,307.50 a1.50,1.50 0 0,1 3.00,0 L145.90,311.00 a1.50,1.50 0 0,1 -3.00,0 Z" fill="rgb(255,10,0)" filter="url(#bl45)"/>
<path d="M142.90,316.50 a1.50,1.50 0 0,1 3.00,0 L145.90,318.00 a1.50,1.50 0 0,1 -3.00,0 Z" fill="rgb(0,235,255)" stroke="rgb(0,235,255)" stroke-width="2.60" stroke-linejoin="round" filter="url(#bl45)"/>
<path d="M142.90,316.50 a1.50,1.50 0 0,1 3.00,0 L145.90,318.00 a1.50,1.50 0 0,1 -3.00,0 Z" fill="rgb(255,235,0)" stroke="rgb(255,225,0)" stroke-width="1.01" stroke-linejoin="round" filter="url(#bl45)"/>
<path d="M142.90,316.50 a1.50,1.50 0 0,1 3.00,0 L145.90,318.00 a1.50,1.50 0 0,1 -3.00,0 Z" fill="rgb(255,10,0)" filter="url(#bl45)"/>
<path d="M142.90,329.00 a1.50,1.50 0 0,1 3.00,0 L145.90,335.50 a1.50,1.50 0 0,1 -3.00,0 Z" fill="rgb(0,235,255)" stroke="rgb(0,235,255)" stroke-width="2.60" stroke-linejoin="round" filter="url(#bl45)"/>
<path d="M142.90,329.00 a1.50,1.50 0 0,1 3.00,0 L145.90,335.50 a1.50,1.50 0 0,1 -3.00,0 Z" fill="rgb(255,235,0)" stroke="rgb(255,225,0)" stroke-width="1.01" stroke-linejoin="round" filter="url(#bl45)"/>
<path d="M142.90,329.00 a1.50,1.50 0 0,1 3.00,0 L145.90,335.50 a1.50,1.50 0 0,1 -3.00,0 Z" fill="rgb(255,10,0)" filter="url(#bl45)"/>
<path d="M142.60,349.20 a1.60,1.40 0 1,0 3.20,0 a1.60,1.40 0 1,0 -3.20,0 Z" fill="rgb(0,235,255)" stroke="rgb(0,235,255)" stroke-width="2.40" stroke-linejoin="round" filter="url(#bl45)"/>
<path d="M142.60,349.20 a1.60,1.40 0 1,0 3.20,0 a1.60,1.40 0 1,0 -3.20,0 Z" fill="rgb(255,235,0)" stroke="rgb(255,225,0)" stroke-width="0.92" stroke-linejoin="round" filter="url(#bl45)"/>
<path d="M142.60,349.20 a1.60,1.40 0 1,0 3.20,0 a1.60,1.40 0 1,0 -3.20,0 Z" fill="rgb(255,10,0)" filter="url(#bl45)"/>
<ellipse cx="124.50" cy="311.00" rx="1.40" ry="1.40" fill="rgb(0,220,255)" opacity="1" filter="url(#bl17)"/>
<ellipse cx="128.00" cy="335.60" rx="1.40" ry="1.40" fill="rgb(0,220,255)" opacity="1" filter="url(#bl17)"/>
<ellipse cx="135.40" cy="324.00" rx="1.50" ry="1.50" fill="rgb(0,220,255)" opacity="1" filter="url(#bl17)"/>
<ellipse cx="135.40" cy="341.00" rx="1.20" ry="1.20" fill="rgb(0,180,255)" opacity="1" filter="url(#bl17)"/>
<path d="M120.00,351.50 a1.30,1.60 0 1,0 2.60,0 a1.30,1.60 0 1,0 -2.60,0 Z" fill="rgb(0,235,255)" stroke="rgb(0,235,255)" stroke-width="2.60" stroke-linejoin="round" filter="url(#bl45)"/>
<path d="M120.00,351.50 a1.30,1.60 0 1,0 2.60,0 a1.30,1.60 0 1,0 -2.60,0 Z" fill="rgb(255,235,0)" stroke="rgb(255,225,0)" stroke-width="1.01" stroke-linejoin="round" filter="url(#bl45)"/>
<path d="M120.00,351.50 a1.30,1.60 0 1,0 2.60,0 a1.30,1.60 0 1,0 -2.60,0 Z" fill="rgb(255,10,0)" filter="url(#bl45)"/>
<rect x="160.00" y="341.00" width="24.00" height="3.40" fill="rgb(0,210,255)" opacity="0.95" filter="url(#bl46)"/>
<rect x="165.00" y="341.60" width="7.00" height="2.40" fill="rgb(200,255,120)" opacity="0.9" filter="url(#bl47)"/>
<path d="M157.80,327.20 L162.20,327.00 L162.80,330.00 L161.80,335.00 L162.50,339.50 L167.00,341.50 L166.50,344.60 L158.00,344.80 L156.40,338.00 L157.00,332.00 Z" fill="rgb(0,235,255)" stroke="rgb(0,235,255)" stroke-width="3.40" stroke-linejoin="round" filter="url(#bl45)"/>
<path d="M157.80,327.20 L162.20,327.00 L162.80,330.00 L161.80,335.00 L162.50,339.50 L167.00,341.50 L166.50,344.60 L158.00,344.80 L156.40,338.00 L157.00,332.00 Z" fill="rgb(255,235,0)" stroke="rgb(255,225,0)" stroke-width="1.37" stroke-linejoin="round" filter="url(#bl45)"/>
<path d="M157.80,327.20 L162.20,327.00 L162.80,330.00 L161.80,335.00 L162.50,339.50 L167.00,341.50 L166.50,344.60 L158.00,344.80 L156.40,338.00 L157.00,332.00 Z" fill="rgb(255,10,0)" filter="url(#bl45)"/>
<path d="M163.10,335.00 a1.30,1.00 0 1,0 2.60,0 a1.30,1.00 0 1,0 -2.60,0 Z" fill="rgb(0,235,255)" stroke="rgb(0,235,255)" stroke-width="2.40" stroke-linejoin="round" filter="url(#bl45)"/>
<path d="M163.10,335.00 a1.30,1.00 0 1,0 2.60,0 a1.30,1.00 0 1,0 -2.60,0 Z" fill="rgb(255,235,0)" stroke="rgb(255,225,0)" stroke-width="0.92" stroke-linejoin="round" filter="url(#bl45)"/>
<path d="M171.00,330.50 a1.20,1.50 0 1,0 2.40,0 a1.20,1.50 0 1,0 -2.40,0 Z" fill="rgb(0,235,255)" stroke="rgb(0,235,255)" stroke-width="2.40" stroke-linejoin="round" filter="url(#bl45)"/>
<path d="M171.00,330.50 a1.20,1.50 0 1,0 2.40,0 a1.20,1.50 0 1,0 -2.40,0 Z" fill="rgb(255,235,0)" stroke="rgb(255,225,0)" stroke-width="0.92" stroke-linejoin="round" filter="url(#bl45)"/>
<path d="M171.00,330.50 a1.20,1.50 0 1,0 2.40,0 a1.20,1.50 0 1,0 -2.40,0 Z" fill="rgb(255,10,0)" filter="url(#bl45)"/>
<path d="M172.40,327.00 a1.60,1.00 0 1,0 3.20,0 a1.60,1.00 0 1,0 -3.20,0 Z" fill="rgb(0,235,255)" stroke="rgb(0,235,255)" stroke-width="2.40" stroke-linejoin="round" filter="url(#bl45)"/>
<path d="M172.40,327.00 a1.60,1.00 0 1,0 3.20,0 a1.60,1.00 0 1,0 -3.20,0 Z" fill="rgb(255,235,0)" stroke="rgb(255,225,0)" stroke-width="0.92" stroke-linejoin="round" filter="url(#bl45)"/>
<path d="M172.40,327.00 a1.60,1.00 0 1,0 3.20,0 a1.60,1.00 0 1,0 -3.20,0 Z" fill="rgb(255,10,0)" filter="url(#bl45)"/>
<ellipse cx="176.80" cy="331.20" rx="1.60" ry="1.40" fill="rgb(0,230,255)" opacity="1" filter="url(#bl15)"/>
<rect x="157.90" y="262.00" width="2.20" height="60.00" fill="url(#vg48)" filter="url(#bl22)"/>
<rect x="175.40" y="262.00" width="2.20" height="60.00" fill="url(#vg49)" filter="url(#bl22)"/>
<rect x="183.40" y="262.00" width="2.20" height="56.00" fill="url(#vg50)" filter="url(#bl22)"/>
<rect x="197.70" y="262.00" width="2.20" height="38.00" fill="url(#vg51)" filter="url(#bl22)"/>
<rect x="211.60" y="262.00" width="2.00" height="30.00" fill="url(#vg52)" filter="url(#bl22)"/>
<rect x="229.00" y="262.00" width="2.00" height="28.00" fill="url(#vg53)" filter="url(#bl22)"/>
<rect x="169.00" y="300.00" width="2.00" height="22.00" fill="url(#vg54)" filter="url(#bl22)"/>
<ellipse cx="158.00" cy="309.00" rx="1.60" ry="4.00" fill="rgb(0,230,255)" opacity="1" filter="url(#bl15)"/>
<ellipse cx="163.00" cy="312.00" rx="1.40" ry="3.00" fill="rgb(0,220,255)" opacity="1" filter="url(#bl15)"/>
<ellipse cx="170.00" cy="308.00" rx="1.50" ry="4.00" fill="rgb(0,230,255)" opacity="1" filter="url(#bl15)"/>
<ellipse cx="176.00" cy="311.00" rx="1.50" ry="4.00" fill="rgb(0,230,255)" opacity="1" filter="url(#bl15)"/>
<ellipse cx="184.00" cy="305.00" rx="1.40" ry="5.00" fill="rgb(0,230,255)" opacity="1" filter="url(#bl15)"/>
<ellipse cx="189.80" cy="283.00" rx="1.60" ry="3.00" fill="rgb(0,230,255)" opacity="1" filter="url(#bl15)"/>
<ellipse cx="185.00" cy="293.00" rx="1.50" ry="4.00" fill="rgb(0,210,255)" opacity="1" filter="url(#bl15)"/>
<ellipse cx="176.50" cy="290.00" rx="1.20" ry="4.00" fill="rgb(0,170,255)" opacity="1" filter="url(#bl15)"/>
<ellipse cx="159.00" cy="290.00" rx="1.20" ry="4.00" fill="rgb(0,150,255)" opacity="1" filter="url(#bl15)"/>
<ellipse cx="225.00" cy="305.00" rx="2.00" ry="1.50" fill="rgb(0,220,255)" opacity="1" filter="url(#bl15)"/>
<ellipse cx="230.00" cy="315.00" rx="2.20" ry="1.50" fill="rgb(0,230,255)" opacity="1" filter="url(#bl15)"/>
<ellipse cx="218.00" cy="312.00" rx="2.20" ry="1.60" fill="rgb(0,230,255)" opacity="1" filter="url(#bl15)"/>
<ellipse cx="156.00" cy="345.00" rx="2.00" ry="1.50" fill="rgb(0,220,255)" opacity="1" filter="url(#bl15)"/>
<ellipse cx="170.00" cy="352.00" rx="2.00" ry="1.30" fill="rgb(0,140,255)" opacity="1" filter="url(#bl15)"/>
<ellipse cx="149.00" cy="318.00" rx="1.50" ry="1.50" fill="rgb(0,200,255)" opacity="1" filter="url(#bl15)"/>
<ellipse cx="152.00" cy="300.00" rx="1.30" ry="1.30" fill="rgb(0,180,255)" opacity="1" filter="url(#bl15)"/>
<ellipse cx="240.00" cy="285.00" rx="2.50" ry="1.30" fill="rgb(0,220,255)" opacity="1" filter="url(#bl15)"/>
<ellipse cx="215.00" cy="319.00" rx="2.00" ry="1.50" fill="rgb(0,200,255)" opacity="1" filter="url(#bl15)"/>
<ellipse cx="193.00" cy="325.00" rx="3.00" ry="1.30" fill="rgb(0,200,255)" opacity="1" filter="url(#bl15)"/>
<path d="M202.30,291.50 C203.08,297.60 204.90,302.40 204.90,303.70 A2.60,2.60 0 0,1 199.70,303.70 C199.70,302.40 201.52,297.60 202.30,291.50 Z" fill="rgb(0,235,255)" stroke="rgb(0,235,255)" stroke-width="3.20" stroke-linejoin="round" filter="url(#bl45)"/>
<path d="M202.30,291.50 C203.08,297.60 204.90,302.40 204.90,303.70 A2.60,2.60 0 0,1 199.70,303.70 C199.70,302.40 201.52,297.60 202.30,291.50 Z" fill="rgb(255,235,0)" stroke="rgb(255,225,0)" stroke-width="1.28" stroke-linejoin="round" filter="url(#bl45)"/>
<path d="M202.30,291.50 C203.08,297.60 204.90,302.40 204.90,303.70 A2.60,2.60 0 0,1 199.70,303.70 C199.70,302.40 201.52,297.60 202.30,291.50 Z" fill="rgb(255,10,0)" filter="url(#bl45)"/>
<path d="M215.80,288.50 C216.70,293.15 218.80,296.30 218.80,297.80 A3.00,3.00 0 0,1 212.80,297.80 C212.80,296.30 214.90,293.15 215.80,288.50 Z" fill="rgb(0,235,255)" stroke="rgb(0,235,255)" stroke-width="3.20" stroke-linejoin="round" filter="url(#bl45)"/>
<path d="M215.80,288.50 C216.70,293.15 218.80,296.30 218.80,297.80 A3.00,3.00 0 0,1 212.80,297.80 C212.80,296.30 214.90,293.15 215.80,288.50 Z" fill="rgb(255,235,0)" stroke="rgb(255,225,0)" stroke-width="1.28" stroke-linejoin="round" filter="url(#bl45)"/>
<path d="M215.80,288.50 C216.70,293.15 218.80,296.30 218.80,297.80 A3.00,3.00 0 0,1 212.80,297.80 C212.80,296.30 214.90,293.15 215.80,288.50 Z" fill="rgb(255,10,0)" filter="url(#bl45)"/>
<path d="M203.40,316.50 Q205.25,320.40 207.10,324.30 L199.70,324.30 Q201.55,320.40 203.40,316.50 Z" fill="rgb(0,235,255)" stroke="rgb(0,235,255)" stroke-width="3.20" stroke-linejoin="round" filter="url(#bl45)"/>
<path d="M203.40,316.50 Q205.25,320.40 207.10,324.30 L199.70,324.30 Q201.55,320.40 203.40,316.50 Z" fill="rgb(255,235,0)" stroke="rgb(255,225,0)" stroke-width="1.28" stroke-linejoin="round" filter="url(#bl45)"/>
<path d="M203.40,316.50 Q205.25,320.40 207.10,324.30 L199.70,324.30 Q201.55,320.40 203.40,316.50 Z" fill="rgb(255,10,0)" filter="url(#bl45)"/>
<path d="M182.70,325.00 a2.80,1.30 0 1,0 5.60,0 a2.80,1.30 0 1,0 -5.60,0 Z" fill="rgb(0,235,255)" stroke="rgb(0,235,255)" stroke-width="2.80" stroke-linejoin="round" filter="url(#bl45)"/>
<path d="M182.70,325.00 a2.80,1.30 0 1,0 5.60,0 a2.80,1.30 0 1,0 -5.60,0 Z" fill="rgb(255,235,0)" stroke="rgb(255,225,0)" stroke-width="1.10" stroke-linejoin="round" filter="url(#bl45)"/>
<path d="M182.70,325.00 a2.80,1.30 0 1,0 5.60,0 a2.80,1.30 0 1,0 -5.60,0 Z" fill="rgb(255,10,0)" filter="url(#bl45)"/>
<path d="M194.60,326.00 a1.40,1.10 0 1,0 2.80,0 a1.40,1.10 0 1,0 -2.80,0 Z" fill="rgb(0,235,255)" stroke="rgb(0,235,255)" stroke-width="2.60" stroke-linejoin="round" filter="url(#bl45)"/>
<path d="M194.60,326.00 a1.40,1.10 0 1,0 2.80,0 a1.40,1.10 0 1,0 -2.80,0 Z" fill="rgb(255,235,0)" stroke="rgb(255,225,0)" stroke-width="1.01" stroke-linejoin="round" filter="url(#bl45)"/>
<path d="M194.60,326.00 a1.40,1.10 0 1,0 2.80,0 a1.40,1.10 0 1,0 -2.80,0 Z" fill="rgb(255,10,0)" filter="url(#bl45)"/>
<path d="M209.20,309.50 a1.80,1.30 0 1,0 3.60,0 a1.80,1.30 0 1,0 -3.60,0 Z" fill="rgb(0,235,255)" stroke="rgb(0,235,255)" stroke-width="2.80" stroke-linejoin="round" filter="url(#bl45)"/>
<path d="M209.20,309.50 a1.80,1.30 0 1,0 3.60,0 a1.80,1.30 0 1,0 -3.60,0 Z" fill="rgb(255,235,0)" stroke="rgb(255,225,0)" stroke-width="1.10" stroke-linejoin="round" filter="url(#bl45)"/>
<path d="M209.20,309.50 a1.80,1.30 0 1,0 3.60,0 a1.80,1.30 0 1,0 -3.60,0 Z" fill="rgb(255,10,0)" filter="url(#bl45)"/>
<path d="M204.60,309.00 a1.40,1.20 0 1,0 2.80,0 a1.40,1.20 0 1,0 -2.80,0 Z" fill="rgb(0,235,255)" stroke="rgb(0,235,255)" stroke-width="2.80" stroke-linejoin="round" filter="url(#bl45)"/>
<path d="M204.60,309.00 a1.40,1.20 0 1,0 2.80,0 a1.40,1.20 0 1,0 -2.80,0 Z" fill="rgb(255,235,0)" stroke="rgb(255,225,0)" stroke-width="1.10" stroke-linejoin="round" filter="url(#bl45)"/>
<path d="M197.90,311.50 a1.60,1.30 0 1,0 3.20,0 a1.60,1.30 0 1,0 -3.20,0 Z" fill="rgb(0,235,255)" stroke="rgb(0,235,255)" stroke-width="2.80" stroke-linejoin="round" filter="url(#bl45)"/>
<path d="M197.90,311.50 a1.60,1.30 0 1,0 3.20,0 a1.60,1.30 0 1,0 -3.20,0 Z" fill="rgb(255,235,0)" stroke="rgb(255,225,0)" stroke-width="1.10" stroke-linejoin="round" filter="url(#bl45)"/>
<path d="M244.70,284.70 a2.60,1.30 0 1,0 5.20,0 a2.60,1.30 0 1,0 -5.20,0 Z" fill="rgb(0,235,255)" stroke="rgb(0,235,255)" stroke-width="3.00" stroke-linejoin="round" filter="url(#bl45)"/>
<path d="M244.70,284.70 a2.60,1.30 0 1,0 5.20,0 a2.60,1.30 0 1,0 -5.20,0 Z" fill="rgb(255,235,0)" stroke="rgb(255,225,0)" stroke-width="1.19" stroke-linejoin="round" filter="url(#bl45)"/>
<path d="M244.70,284.70 a2.60,1.30 0 1,0 5.20,0 a2.60,1.30 0 1,0 -5.20,0 Z" fill="rgb(255,10,0)" filter="url(#bl45)"/>
</g>
<g clip-path="url(#cp55)">
<rect x="297.50" y="48.70" width="199.00" height="305.90" fill="rgb(0,0,222)" />
<rect x="339.00" y="48.70" width="157.50" height="305.90" fill="url(#hg56)" />
<rect x="339.00" y="48.70" width="157.50" height="305.90" fill="url(#vg57)" />
<path d="M339.00,284.00 L400.00,284.00 L425.00,300.00 L420.00,330.00 L400.00,356.00 L339.00,356.00 Z" fill="rgb(0,0,212)" filter="url(#bl58)"/>
<rect x="339.00" y="230.00" width="30.00" height="130.00" fill="rgb(0,0,150)" opacity="0.5" filter="url(#bl59)"/>
<rect x="415.00" y="307.80" width="81.50" height="1.80" fill="url(#hg60)" />
<rect x="330.00" y="321.60" width="166.50" height="4.80" fill="url(#hg61)" />
<rect x="385.00" y="338.80" width="111.50" height="2.00" fill="url(#hg62)" />
<rect x="330.00" y="348.40" width="166.50" height="3.80" fill="url(#hg63)" />
<rect x="330.00" y="353.50" width="166.50" height="1.50" fill="url(#hg64)" />
<rect x="297.50" y="322.60" width="41.50" height="3.80" fill="rgb(0,0,150)" />
<rect x="297.50" y="348.40" width="41.50" height="3.50" fill="rgb(0,0,125)" />
<rect x="302.50" y="314.80" width="105.00" height="1.80" fill="rgb(0,150,255)" opacity="0.55" filter="url(#bl22)"/>
<rect x="337.50" y="338.50" width="50.00" height="2.20" fill="rgb(0,160,255)" opacity="0.7" filter="url(#bl47)"/>
<rect x="357.50" y="323.80" width="45.00" height="2.00" fill="rgb(0,140,255)" opacity="0.6" filter="url(#bl47)"/>
<rect x="351.20" y="60.00" width="2.40" height="285.00" fill="url(#vg65)" filter="url(#bl22)"/>
<rect x="343.00" y="60.00" width="2.00" height="240.00" fill="url(#vg66)" filter="url(#bl22)"/>
<rect x="341.70" y="48.70" width="1.60" height="231.30" fill="url(#vg67)" filter="url(#bl22)"/>
<rect x="350.70" y="48.70" width="1.60" height="231.30" fill="url(#vg68)" filter="url(#bl22)"/>
<rect x="371.50" y="200.00" width="2.00" height="120.00" fill="url(#vg69)" filter="url(#bl22)"/>
<rect x="383.00" y="200.00" width="2.00" height="120.00" fill="url(#vg70)" filter="url(#bl22)"/>
<rect x="390.00" y="230.00" width="2.00" height="70.00" fill="url(#vg71)" filter="url(#bl22)"/>
<rect x="399.50" y="230.00" width="2.00" height="70.00" fill="url(#vg72)" filter="url(#bl22)"/>
<rect x="406.00" y="200.00" width="2.00" height="56.00" fill="url(#vg73)" filter="url(#bl22)"/>
<rect x="416.00" y="200.00" width="2.00" height="56.00" fill="url(#vg74)" filter="url(#bl22)"/>
<rect x="429.75" y="80.00" width="2.50" height="60.00" fill="url(#vg75)" filter="url(#bl22)"/>
<rect x="451.00" y="150.00" width="2.00" height="112.00" fill="url(#vg76)" filter="url(#bl22)"/>
<rect x="469.00" y="150.00" width="2.00" height="112.00" fill="url(#vg77)" filter="url(#bl22)"/>
<rect x="364.70" y="48.70" width="2.00" height="251.30" fill="url(#vg78)" filter="url(#bl17)"/>
<rect x="364.70" y="220.00" width="2.00" height="80.00" fill="url(#vg79)" filter="url(#bl17)"/>
<path d="M364.70,250.00 L366.70,250.00 L368.10,299.00 L363.30,299.00 Z" fill="rgb(0,200,255)" filter="url(#bl22)"/>
<path d="M365.20,262.00 L366.20,262.00 L367.00,298.00 L364.40,298.00 Z" fill="rgb(120,250,255)" filter="url(#bl17)"/>
<rect x="302.40" y="48.70" width="5.00" height="260.30" fill="url(#hg80)" />
<rect x="315.00" y="48.70" width="5.00" height="305.90" fill="rgb(0,0,192)" />
<rect x="327.00" y="48.70" width="6.00" height="305.90" fill="rgb(0,0,192)" />
<rect x="310.10" y="48.70" width="4.80" height="260.30" fill="url(#hg81)" />
<g mask="url(#mk82)"><rect x="310.10" y="48.70" width="4.80" height="182.30" fill="url(#hg84)" /></g>
<rect x="320.40" y="48.70" width="3.40" height="251.30" fill="url(#hg85)" />
<g mask="url(#mk86)"><rect x="320.40" y="48.70" width="3.40" height="182.30" fill="url(#hg88)" /></g>
<rect x="332.60" y="48.70" width="5.40" height="271.30" fill="url(#hg89)" />
<path d="M303.60,307.25 a1.40,1.25 0 0,1 2.80,0 L306.40,307.25 a1.40,1.25 0 0,1 -2.80,0 Z" fill="rgb(0,235,255)" stroke="rgb(0,235,255)" stroke-width="2.80" stroke-linejoin="round" filter="url(#bl45)"/>
<path d="M303.60,307.25 a1.40,1.25 0 0,1 2.80,0 L306.40,307.25 a1.40,1.25 0 0,1 -2.80,0 Z" fill="rgb(255,235,0)" stroke="rgb(255,225,0)" stroke-width="1.10" stroke-linejoin="round" filter="url(#bl45)"/>
<path d="M303.60,307.25 a1.40,1.25 0 0,1 2.80,0 L306.40,307.25 a1.40,1.25 0 0,1 -2.80,0 Z" fill="rgb(255,10,0)" filter="url(#bl45)"/>
<path d="M303.60,311.40 a1.40,1.40 0 0,1 2.80,0 L306.40,313.60 a1.40,1.40 0 0,1 -2.80,0 Z" fill="rgb(0,235,255)" stroke="rgb(0,235,255)" stroke-width="2.80" stroke-linejoin="round" filter="url(#bl45)"/>
<path d="M303.60,311.40 a1.40,1.40 0 0,1 2.80,0 L306.40,313.60 a1.40,1.40 0 0,1 -2.80,0 Z" fill="rgb(255,235,0)" stroke="rgb(255,225,0)" stroke-width="1.10" stroke-linejoin="round" filter="url(#bl45)"/>
<path d="M303.60,311.40 a1.40,1.40 0 0,1 2.80,0 L306.40,313.60 a1.40,1.40 0 0,1 -2.80,0 Z" fill="rgb(255,10,0)" filter="url(#bl45)"/>
<path d="M303.60,317.90 a1.40,1.40 0 0,1 2.80,0 L306.40,320.60 a1.40,1.40 0 0,1 -2.80,0 Z" fill="rgb(0,235,255)" stroke="rgb(0,235,255)" stroke-width="2.80" stroke-linejoin="round" filter="url(#bl45)"/>
<path d="M303.60,317.90 a1.40,1.40 0 0,1 2.80,0 L306.40,320.60 a1.40,1.40 0 0,1 -2.80,0 Z" fill="rgb(255,235,0)" stroke="rgb(255,225,0)" stroke-width="1.10" stroke-linejoin="round" filter="url(#bl45)"/>
<path d="M303.60,317.90 a1.40,1.40 0 0,1 2.80,0 L306.40,320.60 a1.40,1.40 0 0,1 -2.80,0 Z" fill="rgb(255,10,0)" filter="url(#bl45)"/>
<path d="M303.60,328.40 a1.40,1.40 0 0,1 2.80,0 L306.40,335.60 a1.40,1.40 0 0,1 -2.80,0 Z" fill="rgb(0,235,255)" stroke="rgb(0,235,255)" stroke-width="2.80" stroke-linejoin="round" filter="url(#bl45)"/>
<path d="M303.60,328.40 a1.40,1.40 0 0,1 2.80,0 L306.40,335.60 a1.40,1.40 0 0,1 -2.80,0 Z" fill="rgb(255,235,0)" stroke="rgb(255,225,0)" stroke-width="1.10" stroke-linejoin="round" filter="url(#bl45)"/>
<path d="M303.60,328.40 a1.40,1.40 0 0,1 2.80,0 L306.40,335.60 a1.40,1.40 0 0,1 -2.80,0 Z" fill="rgb(255,10,0)" filter="url(#bl45)"/>
<path d="M303.20,341.00 L306.50,341.00 L307.20,346.00 L306.00,349.50 L303.40,349.50 L304.00,345.00 Z" fill="rgb(0,235,255)" stroke="rgb(0,235,255)" stroke-width="2.80" stroke-linejoin="round" filter="url(#bl45)"/>
<path d="M303.20,341.00 L306.50,341.00 L307.20,346.00 L306.00,349.50 L303.40,349.50 L304.00,345.00 Z" fill="rgb(255,235,0)" stroke="rgb(255,225,0)" stroke-width="1.10" stroke-linejoin="round" filter="url(#bl45)"/>
<path d="M303.20,341.00 L306.50,341.00 L307.20,346.00 L306.00,349.50 L303.40,349.50 L304.00,345.00 Z" fill="rgb(255,10,0)" filter="url(#bl45)"/>
<path d="M311.10,311.30 a1.30,1.30 0 0,1 2.60,0 L313.70,313.70 a1.30,1.30 0 0,1 -2.60,0 Z" fill="rgb(0,235,255)" stroke="rgb(0,235,255)" stroke-width="2.80" stroke-linejoin="round" filter="url(#bl45)"/>
<path d="M311.10,311.30 a1.30,1.30 0 0,1 2.60,0 L313.70,313.70 a1.30,1.30 0 0,1 -2.60,0 Z" fill="rgb(255,235,0)" stroke="rgb(255,225,0)" stroke-width="1.10" stroke-linejoin="round" filter="url(#bl45)"/>
<path d="M311.10,311.30 a1.30,1.30 0 0,1 2.60,0 L313.70,313.70 a1.30,1.30 0 0,1 -2.60,0 Z" fill="rgb(255,10,0)" filter="url(#bl45)"/>
<path d="M311.10,317.80 a1.30,1.30 0 0,1 2.60,0 L313.70,320.70 a1.30,1.30 0 0,1 -2.60,0 Z" fill="rgb(0,235,255)" stroke="rgb(0,235,255)" stroke-width="2.80" stroke-linejoin="round" filter="url(#bl45)"/>
<path d="M311.10,317.80 a1.30,1.30 0 0,1 2.60,0 L313.70,320.70 a1.30,1.30 0 0,1 -2.60,0 Z" fill="rgb(255,235,0)" stroke="rgb(255,225,0)" stroke-width="1.10" stroke-linejoin="round" filter="url(#bl45)"/>
<path d="M311.10,317.80 a1.30,1.30 0 0,1 2.60,0 L313.70,320.70 a1.30,1.30 0 0,1 -2.60,0 Z" fill="rgb(255,10,0)" filter="url(#bl45)"/>
<path d="M311.10,328.30 a1.30,1.30 0 0,1 2.60,0 L313.70,335.70 a1.30,1.30 0 0,1 -2.60,0 Z" fill="rgb(0,235,255)" stroke="rgb(0,235,255)" stroke-width="2.80" stroke-linejoin="round" filter="url(#bl45)"/>
<path d="M311.10,328.30 a1.30,1.30 0 0,1 2.60,0 L313.70,335.70 a1.30,1.30 0 0,1 -2.60,0 Z" fill="rgb(255,235,0)" stroke="rgb(255,225,0)" stroke-width="1.10" stroke-linejoin="round" filter="url(#bl45)"/>
<path d="M311.10,328.30 a1.30,1.30 0 0,1 2.60,0 L313.70,335.70 a1.30,1.30 0 0,1 -2.60,0 Z" fill="rgb(255,10,0)" filter="url(#bl45)"/>
<path d="M310.50,341.00 L313.80,341.00 L315.30,346.00 L314.50,349.50 L311.00,349.50 L311.50,345.00 Z" fill="rgb(0,235,255)" stroke="rgb(0,235,255)" stroke-width="2.80" stroke-linejoin="round" filter="url(#bl45)"/>
<path d="M310.50,341.00 L313.80,341.00 L315.30,346.00 L314.50,349.50 L311.00,349.50 L311.50,345.00 Z" fill="rgb(255,235,0)" stroke="rgb(255,225,0)" stroke-width="1.10" stroke-linejoin="round" filter="url(#bl45)"/>
<path d="M310.50,341.00 L313.80,341.00 L315.30,346.00 L314.50,349.50 L311.00,349.50 L311.50,345.00 Z" fill="rgb(255,10,0)" filter="url(#bl45)"/>
<path d="M323.40,301.00 a1.00,1.00 0 0,1 2.00,0 L325.40,304.00 a1.00,1.00 0 0,1 -2.00,0 Z" fill="rgb(0,235,255)" stroke="rgb(0,235,255)" stroke-width="2.20" stroke-linejoin="round" filter="url(#bl45)"/>
<path d="M323.40,301.00 a1.00,1.00 0 0,1 2.00,0 L325.40,304.00 a1.00,1.00 0 0,1 -2.00,0 Z" fill="rgb(255,235,0)" stroke="rgb(255,225,0)" stroke-width="0.83" stroke-linejoin="round" filter="url(#bl45)"/>
<path d="M323.40,310.00 a1.00,1.00 0 0,1 2.00,0 L325.40,312.00 a1.00,1.00 0 0,1 -2.00,0 Z" fill="rgb(0,235,255)" stroke="rgb(0,235,255)" stroke-width="2.20" stroke-linejoin="round" filter="url(#bl45)"/>
<path d="M323.40,310.00 a1.00,1.00 0 0,1 2.00,0 L325.40,312.00 a1.00,1.00 0 0,1 -2.00,0 Z" fill="rgb(255,235,0)" stroke="rgb(255,225,0)" stroke-width="0.83" stroke-linejoin="round" filter="url(#bl45)"/>
<path d="M323.40,317.00 a1.00,1.00 0 0,1 2.00,0 L325.40,321.00 a1.00,1.00 0 0,1 -2.00,0 Z" fill="rgb(0,235,255)" stroke="rgb(0,235,255)" stroke-width="2.20" stroke-linejoin="round" filter="url(#bl45)"/>
<path d="M323.40,317.00 a1.00,1.00 0 0,1 2.00,0 L325.40,321.00 a1.00,1.00 0 0,1 -2.00,0 Z" fill="rgb(255,235,0)" stroke="rgb(255,225,0)" stroke-width="0.83" stroke-linejoin="round" filter="url(#bl45)"/>
<path d="M323.40,329.00 a1.00,1.00 0 0,1 2.00,0 L325.40,337.00 a1.00,1.00 0 0,1 -2.00,0 Z" fill="rgb(0,235,255)" stroke="rgb(0,235,255)" stroke-width="2.20" stroke-linejoin="round" filter="url(#bl45)"/>
<path d="M323.40,329.00 a1.00,1.00 0 0,1 2.00,0 L325.40,337.00 a1.00,1.00 0 0,1 -2.00,0 Z" fill="rgb(255,235,0)" stroke="rgb(255,225,0)" stroke-width="0.83" stroke-linejoin="round" filter="url(#bl45)"/>
<path d="M323.40,342.00 a1.00,1.00 0 0,1 2.00,0 L325.40,344.00 a1.00,1.00 0 0,1 -2.00,0 Z" fill="rgb(0,235,255)" stroke="rgb(0,235,255)" stroke-width="2.20" stroke-linejoin="round" filter="url(#bl45)"/>
<path d="M323.40,342.00 a1.00,1.00 0 0,1 2.00,0 L325.40,344.00 a1.00,1.00 0 0,1 -2.00,0 Z" fill="rgb(255,235,0)" stroke="rgb(255,225,0)" stroke-width="0.83" stroke-linejoin="round" filter="url(#bl45)"/>
<path d="M334.40,321.00 a1.00,1.00 0 0,1 2.00,0 L336.40,322.00 a1.00,1.00 0 0,1 -2.00,0 Z" fill="rgb(0,235,255)" stroke="rgb(0,235,255)" stroke-width="2.20" stroke-linejoin="round" filter="url(#bl45)"/>
<path d="M334.40,321.00 a1.00,1.00 0 0,1 2.00,0 L336.40,322.00 a1.00,1.00 0 0,1 -2.00,0 Z" fill="rgb(255,235,0)" stroke="rgb(255,225,0)" stroke-width="0.83" stroke-linejoin="round" filter="url(#bl45)"/>
<path d="M334.40,329.00 a1.00,1.00 0 0,1 2.00,0 L336.40,344.00 a1.00,1.00 0 0,1 -2.00,0 Z" fill="rgb(0,235,255)" stroke="rgb(0,235,255)" stroke-width="2.20" stroke-linejoin="round" filter="url(#bl45)"/>
<path d="M334.40,329.00 a1.00,1.00 0 0,1 2.00,0 L336.40,344.00 a1.00,1.00 0 0,1 -2.00,0 Z" fill="rgb(255,235,0)" stroke="rgb(255,225,0)" stroke-width="0.83" stroke-linejoin="round" filter="url(#bl45)"/>
<path d="M332.40,351.40 a2.40,2.40 0 0,1 4.80,0 L337.20,354.60 a2.40,2.40 0 0,1 -4.80,0 Z" fill="rgb(0,235,255)" stroke="rgb(0,235,255)" stroke-width="2.60" stroke-linejoin="round" filter="url(#bl45)"/>
<path d="M332.40,351.40 a2.40,2.40 0 0,1 4.80,0 L337.20,354.60 a2.40,2.40 0 0,1 -4.80,0 Z" fill="rgb(255,235,0)" stroke="rgb(255,225,0)" stroke-width="1.01" stroke-linejoin="round" filter="url(#bl45)"/>
<path d="M332.40,351.40 a2.40,2.40 0 0,1 4.80,0 L337.20,354.60 a2.40,2.40 0 0,1 -4.80,0 Z" fill="rgb(255,10,0)" filter="url(#bl45)"/>
<path d="M363.90,303.40 a1.80,3.00 0 1,0 3.60,0 a1.80,3.00 0 1,0 -3.60,0 Z" fill="rgb(0,235,255)" stroke="rgb(0,235,255)" stroke-width="2.80" stroke-linejoin="round" filter="url(#bl45)"/>
<path d="M363.90,303.40 a1.80,3.00 0 1,0 3.60,0 a1.80,3.00 0 1,0 -3.60,0 Z" fill="rgb(255,235,0)" stroke="rgb(255,225,0)" stroke-width="1.10" stroke-linejoin="round" filter="url(#bl45)"/>
<path d="M363.90,303.40 a1.80,3.00 0 1,0 3.60,0 a1.80,3.00 0 1,0 -3.60,0 Z" fill="rgb(255,10,0)" filter="url(#bl45)"/>
<path d="M365.70,309.00 C366.33,315.20 367.80,320.35 367.80,321.40 A2.10,2.10 0 0,1 363.60,321.40 C363.60,320.35 365.07,315.20 365.70,309.00 Z" fill="rgb(0,235,255)" stroke="rgb(0,235,255)" stroke-width="2.80" stroke-linejoin="round" filter="url(#bl45)"/>
<path d="M365.70,309.00 C366.33,315.20 367.80,320.35 367.80,321.40 A2.10,2.10 0 0,1 363.60,321.40 C363.60,320.35 365.07,315.20 365.70,309.00 Z" fill="rgb(255,235,0)" stroke="rgb(255,225,0)" stroke-width="1.10" stroke-linejoin="round" filter="url(#bl45)"/>
<path d="M365.70,309.00 C366.33,315.20 367.80,320.35 367.80,321.40 A2.10,2.10 0 0,1 363.60,321.40 C363.60,320.35 365.07,315.20 365.70,309.00 Z" fill="rgb(255,10,0)" filter="url(#bl45)"/>
<path d="M363.70,330.00 a2.00,2.00 0 0,1 4.00,0 L367.70,341.50 a2.00,2.00 0 0,1 -4.00,0 Z" fill="rgb(0,235,255)" stroke="rgb(0,235,255)" stroke-width="2.60" stroke-linejoin="round" filter="url(#bl45)"/>
<path d="M363.70,330.00 a2.00,2.00 0 0,1 4.00,0 L367.70,341.50 a2.00,2.00 0 0,1 -4.00,0 Z" fill="rgb(255,235,0)" stroke="rgb(255,225,0)" stroke-width="1.01" stroke-linejoin="round" filter="url(#bl45)"/>
<path d="M363.70,330.00 a2.00,2.00 0 0,1 4.00,0 L367.70,341.50 a2.00,2.00 0 0,1 -4.00,0 Z" fill="rgb(255,10,0)" filter="url(#bl45)"/>
<rect x="352.10" y="322.00" width="1.80" height="12.00" fill="url(#vg90)" filter="url(#bl17)"/>
<rect x="342.50" y="339.30" width="22.00" height="2.80" fill="rgb(0,190,255)" opacity="0.8" filter="url(#bl47)"/>
<path d="M353.00,332.50 L355.50,337.00 L358.00,338.30 L361.00,338.00 L364.00,337.50 L364.50,342.30 L351.20,342.30 L350.80,338.00 Z" fill="rgb(0,235,255)" stroke="rgb(0,235,255)" stroke-width="3.00" stroke-linejoin="round" filter="url(#bl45)"/>
<path d="M353.00,332.50 L355.50,337.00 L358.00,338.30 L361.00,338.00 L364.00,337.50 L364.50,342.30 L351.20,342.30 L350.80,338.00 Z" fill="rgb(255,235,0)" stroke="rgb(255,225,0)" stroke-width="1.19" stroke-linejoin="round" filter="url(#bl45)"/>
<path d="M353.00,332.50 L355.50,337.00 L358.00,338.30 L361.00,338.00 L364.00,337.50 L364.50,342.30 L351.20,342.30 L350.80,338.00 Z" fill="rgb(255,10,0)" filter="url(#bl45)"/>
<rect x="375.10" y="305.00" width="1.80" height="15.00" fill="url(#vg91)" filter="url(#bl17)"/>
<path d="M376.00,318.50 Q377.40,322.40 378.80,326.30 L373.20,326.30 Q374.60,322.40 376.00,318.50 Z" fill="rgb(0,235,255)" stroke="rgb(0,235,255)" stroke-width="3.20" stroke-linejoin="round" filter="url(#bl45)"/>
<path d="M376.00,318.50 Q377.40,322.40 378.80,326.30 L373.20,326.30 Q374.60,322.40 376.00,318.50 Z" fill="rgb(255,235,0)" stroke="rgb(255,225,0)" stroke-width="1.28" stroke-linejoin="round" filter="url(#bl45)"/>
<path d="M376.00,318.50 Q377.40,322.40 378.80,326.30 L373.20,326.30 Q374.60,322.40 376.00,318.50 Z" fill="rgb(255,10,0)" filter="url(#bl45)"/>
<path d="M383.00,324.70 a2.60,1.80 0 1,0 5.20,0 a2.60,1.80 0 1,0 -5.20,0 Z" fill="rgb(0,235,255)" stroke="rgb(0,235,255)" stroke-width="3.00" stroke-linejoin="round" filter="url(#bl45)"/>
<path d="M383.00,324.70 a2.60,1.80 0 1,0 5.20,0 a2.60,1.80 0 1,0 -5.20,0 Z" fill="rgb(255,235,0)" stroke="rgb(255,225,0)" stroke-width="1.19" stroke-linejoin="round" filter="url(#bl45)"/>
<path d="M383.00,324.70 a2.60,1.80 0 1,0 5.20,0 a2.60,1.80 0 1,0 -5.20,0 Z" fill="rgb(255,10,0)" filter="url(#bl45)"/>
<rect x="381.70" y="296.00" width="1.60" height="9.00" fill="url(#vg92)" filter="url(#bl17)"/>
<path d="M381.20,304.60 a1.30,1.30 0 1,0 2.60,0 a1.30,1.30 0 1,0 -2.60,0 Z" fill="rgb(0,235,255)" stroke="rgb(0,235,255)" stroke-width="2.60" stroke-linejoin="round" filter="url(#bl45)"/>
<path d="M381.20,304.60 a1.30,1.30 0 1,0 2.60,0 a1.30,1.30 0 1,0 -2.60,0 Z" fill="rgb(255,235,0)" stroke="rgb(255,225,0)" stroke-width="1.01" stroke-linejoin="round" filter="url(#bl45)"/>
<path d="M381.20,304.60 a1.30,1.30 0 1,0 2.60,0 a1.30,1.30 0 1,0 -2.60,0 Z" fill="rgb(255,10,0)" filter="url(#bl45)"/>
<path d="M378.50,309.30 a1.80,1.50 0 1,0 3.60,0 a1.80,1.50 0 1,0 -3.60,0 Z" fill="rgb(0,235,255)" stroke="rgb(0,235,255)" stroke-width="2.80" stroke-linejoin="round" filter="url(#bl45)"/>
<path d="M378.50,309.30 a1.80,1.50 0 1,0 3.60,0 a1.80,1.50 0 1,0 -3.60,0 Z" fill="rgb(255,235,0)" stroke="rgb(255,225,0)" stroke-width="1.10" stroke-linejoin="round" filter="url(#bl45)"/>
<path d="M378.50,309.30 a1.80,1.50 0 1,0 3.60,0 a1.80,1.50 0 1,0 -3.60,0 Z" fill="rgb(255,10,0)" filter="url(#bl45)"/>
<path d="M388.70,309.90 a1.50,1.20 0 1,0 3.00,0 a1.50,1.20 0 1,0 -3.00,0 Z" fill="rgb(0,235,255)" stroke="rgb(0,235,255)" stroke-width="2.80" stroke-linejoin="round" filter="url(#bl45)"/>
<path d="M388.70,309.90 a1.50,1.20 0 1,0 3.00,0 a1.50,1.20 0 1,0 -3.00,0 Z" fill="rgb(255,235,0)" stroke="rgb(255,225,0)" stroke-width="1.10" stroke-linejoin="round" filter="url(#bl45)"/>
<path d="M388.70,309.90 a1.50,1.20 0 1,0 3.00,0 a1.50,1.20 0 1,0 -3.00,0 Z" fill="rgb(255,10,0)" filter="url(#bl45)"/>
<path d="M385.70,315.80 a1.50,1.20 0 1,0 3.00,0 a1.50,1.20 0 1,0 -3.00,0 Z" fill="rgb(0,235,255)" stroke="rgb(0,235,255)" stroke-width="2.80" stroke-linejoin="round" filter="url(#bl45)"/>
<path d="M385.70,315.80 a1.50,1.20 0 1,0 3.00,0 a1.50,1.20 0 1,0 -3.00,0 Z" fill="rgb(255,235,0)" stroke="rgb(255,225,0)" stroke-width="1.10" stroke-linejoin="round" filter="url(#bl45)"/>
<ellipse cx="391.00" cy="295.50" rx="2.00" ry="1.50" fill="rgb(0,225,255)" opacity="1" filter="url(#bl15)"/>
<ellipse cx="400.50" cy="296.60" rx="2.00" ry="1.50" fill="rgb(0,225,255)" opacity="1" filter="url(#bl15)"/>
<ellipse cx="392.50" cy="287.50" rx="1.80" ry="1.30" fill="rgb(0,225,255)" opacity="1" filter="url(#bl15)"/>
<ellipse cx="403.00" cy="287.00" rx="1.50" ry="1.30" fill="rgb(0,225,255)" opacity="1" filter="url(#bl15)"/>
<ellipse cx="372.50" cy="273.00" rx="1.30" ry="1.30" fill="rgb(0,225,255)" opacity="1" filter="url(#bl15)"/>
<ellipse cx="384.00" cy="273.50" rx="1.30" ry="1.30" fill="rgb(0,225,255)" opacity="1" filter="url(#bl15)"/>
<ellipse cx="406.70" cy="253.00" rx="2.20" ry="2.80" fill="rgb(0,225,255)" opacity="1" filter="url(#bl15)"/>
<ellipse cx="417.00" cy="253.00" rx="2.00" ry="2.50" fill="rgb(0,225,255)" opacity="1" filter="url(#bl15)"/>
<ellipse cx="356.00" cy="324.00" rx="1.50" ry="1.20" fill="rgb(0,225,255)" opacity="1" filter="url(#bl15)"/>
<ellipse cx="395.00" cy="324.70" rx="1.60" ry="1.20" fill="rgb(0,225,255)" opacity="1" filter="url(#bl15)"/>
<ellipse cx="380.00" cy="331.00" rx="1.20" ry="1.20" fill="rgb(0,225,255)" opacity="1" filter="url(#bl15)"/>
<ellipse cx="369.00" cy="348.00" rx="1.20" ry="1.20" fill="rgb(0,225,255)" opacity="1" filter="url(#bl15)"/>
<ellipse cx="345.00" cy="333.00" rx="1.20" ry="1.20" fill="rgb(0,225,255)" opacity="1" filter="url(#bl15)"/>
<ellipse cx="406.70" cy="253.00" rx="1.20" ry="1.40" fill="rgb(230,255,100)" opacity="1" filter="url(#bl93)"/>
</g>
<g clip-path="url(#cp94)">
<rect x="497.50" y="48.70" width="199.00" height="305.90" fill="rgb(0,0,222)" />
<rect x="539.00" y="48.70" width="157.50" height="305.90" fill="url(#hg95)" />
<rect x="539.00" y="48.70" width="157.50" height="305.90" fill="url(#vg96)" />
<path d="M539.00,284.00 L600.00,284.00 L625.00,300.00 L620.00,330.00 L600.00,356.00 L539.00,356.00 Z" fill="rgb(0,0,212)" filter="url(#bl58)"/>
<rect x="539.00" y="230.00" width="30.00" height="130.00" fill="rgb(0,0,150)" opacity="0.5" filter="url(#bl59)"/>
<rect x="615.00" y="307.80" width="81.50" height="1.80" fill="url(#hg97)" />
<rect x="530.00" y="321.60" width="166.50" height="4.80" fill="url(#hg98)" />
<rect x="585.00" y="338.80" width="111.50" height="2.00" fill="url(#hg99)" />
<rect x="530.00" y="348.40" width="166.50" height="3.80" fill="url(#hg100)" />
<rect x="530.00" y="353.50" width="166.50" height="1.50" fill="url(#hg101)" />
<rect x="497.50" y="322.60" width="41.50" height="3.80" fill="rgb(0,0,150)" />
<rect x="497.50" y="348.40" width="41.50" height="3.50" fill="rgb(0,0,125)" />
<rect x="502.50" y="314.80" width="105.00" height="1.80" fill="rgb(0,150,255)" opacity="0.55" filter="url(#bl22)"/>
<rect x="537.50" y="338.50" width="50.00" height="2.20" fill="rgb(0,160,255)" opacity="0.7" filter="url(#bl47)"/>
<rect x="557.50" y="323.80" width="45.00" height="2.00" fill="rgb(0,140,255)" opacity="0.6" filter="url(#bl47)"/>
<rect x="551.20" y="60.00" width="2.40" height="285.00" fill="url(#vg102)" filter="url(#bl22)"/>
<rect x="543.00" y="60.00" width="2.00" height="240.00" fill="url(#vg103)" filter="url(#bl22)"/>
<rect x="541.70" y="48.70" width="1.60" height="231.30" fill="url(#vg104)" filter="url(#bl22)"/>
<rect x="550.70" y="48.70" width="1.60" height="231.30" fill="url(#vg105)" filter="url(#bl22)"/>
<rect x="571.50" y="200.00" width="2.00" height="120.00" fill="url(#vg106)" filter="url(#bl22)"/>
<rect x="583.00" y="200.00" width="2.00" height="120.00" fill="url(#vg107)" filter="url(#bl22)"/>
<rect x="590.00" y="230.00" width="2.00" height="70.00" fill="url(#vg108)" filter="url(#bl22)"/>
<rect x="599.50" y="230.00" width="2.00" height="70.00" fill="url(#vg109)" filter="url(#bl22)"/>
<rect x="606.00" y="200.00" width="2.00" height="56.00" fill="url(#vg110)" filter="url(#bl22)"/>
<rect x="616.00" y="200.00" width="2.00" height="56.00" fill="url(#vg111)" filter="url(#bl22)"/>
<rect x="629.75" y="80.00" width="2.50" height="60.00" fill="url(#vg112)" filter="url(#bl22)"/>
<rect x="651.00" y="150.00" width="2.00" height="112.00" fill="url(#vg113)" filter="url(#bl22)"/>
<rect x="669.00" y="150.00" width="2.00" height="112.00" fill="url(#vg114)" filter="url(#bl22)"/>
<rect x="564.70" y="48.70" width="2.00" height="251.30" fill="url(#vg115)" filter="url(#bl17)"/>
<rect x="557.50" y="213.40" width="139.00" height="2.00" fill="url(#hg116)" />
<rect x="564.70" y="220.00" width="2.00" height="80.00" fill="url(#vg117)" filter="url(#bl17)"/>
<path d="M564.70,250.00 L566.70,250.00 L568.10,299.00 L563.30,299.00 Z" fill="rgb(0,200,255)" filter="url(#bl22)"/>
<path d="M565.20,262.00 L566.20,262.00 L567.00,298.00 L564.40,298.00 Z" fill="rgb(120,250,255)" filter="url(#bl17)"/>
<rect x="502.40" y="48.70" width="5.00" height="260.30" fill="url(#hg118)" />
<rect x="515.00" y="48.70" width="5.00" height="305.90" fill="rgb(0,0,192)" />
<rect x="527.00" y="48.70" width="6.00" height="305.90" fill="rgb(0,0,192)" />
<rect x="510.10" y="48.70" width="4.80" height="245.30" fill="url(#hg119)" />
<g mask="url(#mk120)"><rect x="510.10" y="48.70" width="4.80" height="177.30" fill="url(#hg122)" /></g>
<rect x="520.80" y="48.70" width="5.40" height="251.30" fill="url(#hg123)" />
<g mask="url(#mk124)"><rect x="520.80" y="48.70" width="5.40" height="146.30" fill="url(#hg126)" /></g>
<g mask="url(#mk127)"><rect x="520.80" y="48.70" width="5.40" height="102.30" fill="url(#hg129)" /></g>
<rect x="532.80" y="48.70" width="5.00" height="247.30" fill="url(#hg130)" />
<g mask="url(#mk131)"><rect x="532.80" y="48.70" width="5.00" height="212.30" fill="url(#hg133)" /></g>
<path d="M503.60,307.25 a1.40,1.25 0 0,1 2.80,0 L506.40,307.25 a1.40,1.25 0 0,1 -2.80,0 Z" fill="rgb(0,235,255)" stroke="rgb(0,235,255)" stroke-width="2.80" stroke-linejoin="round" filter="url(#bl45)"/>
<path d="M503.60,307.25 a1.40,1.25 0 0,1 2.80,0 L506.40,307.25 a1.40,1.25 0 0,1 -2.80,0 Z" fill="rgb(255,235,0)" stroke="rgb(255,225,0)" stroke-width="1.10" stroke-linejoin="round" filter="url(#bl45)"/>
<path d="M503.60,307.25 a1.40,1.25 0 0,1 2.80,0 L506.40,307.25 a1.40,1.25 0 0,1 -2.80,0 Z" fill="rgb(255,10,0)" filter="url(#bl45)"/>
<path d="M503.60,311.40 a1.40,1.40 0 0,1 2.80,0 L506.40,313.60 a1.40,1.40 0 0,1 -2.80,0 Z" fill="rgb(0,235,255)" stroke="rgb(0,235,255)" stroke-width="2.80" stroke-linejoin="round" filter="url(#bl45)"/>
<path d="M503.60,311.40 a1.40,1.40 0 0,1 2.80,0 L506.40,313.60 a1.40,1.40 0 0,1 -2.80,0 Z" fill="rgb(255,235,0)" stroke="rgb(255,225,0)" stroke-width="1.10" stroke-linejoin="round" filter="url(#bl45)"/>
<path d="M503.60,311.40 a1.40,1.40 0 0,1 2.80,0 L506.40,313.60 a1.40,1.40 0 0,1 -2.80,0 Z" fill="rgb(255,10,0)" filter="url(#bl45)"/>
<path d="M503.60,317.90 a1.40,1.40 0 0,1 2.80,0 L506.40,320.60 a1.40,1.40 0 0,1 -2.80,0 Z" fill="rgb(0,235,255)" stroke="rgb(0,235,255)" stroke-width="2.80" stroke-linejoin="round" filter="url(#bl45)"/>
<path d="M503.60,317.90 a1.40,1.40 0 0,1 2.80,0 L506.40,320.60 a1.40,1.40 0 0,1 -2.80,0 Z" fill="rgb(255,235,0)" stroke="rgb(255,225,0)" stroke-width="1.10" stroke-linejoin="round" filter="url(#bl45)"/>
<path d="M503.60,317.90 a1.40,1.40 0 0,1 2.80,0 L506.40,320.60 a1.40,1.40 0 0,1 -2.80,0 Z" fill="rgb(255,10,0)" filter="url(#bl45)"/>
<path d="M503.60,328.40 a1.40,1.40 0 0,1 2.80,0 L506.40,335.60 a1.40,1.40 0 0,1 -2.80,0 Z" fill="rgb(0,235,255)" stroke="rgb(0,235,255)" stroke-width="2.80" stroke-linejoin="round" filter="url(#bl45)"/>
<path d="M503.60,328.40 a1.40,1.40 0 0,1 2.80,0 L506.40,335.60 a1.40,1.40 0 0,1 -2.80,0 Z" fill="rgb(255,235,0)" stroke="rgb(255,225,0)" stroke-width="1.10" stroke-linejoin="round" filter="url(#bl45)"/>
<path d="M503.60,328.40 a1.40,1.40 0 0,1 2.80,0 L506.40,335.60 a1.40,1.40 0 0,1 -2.80,0 Z" fill="rgb(255,10,0)" filter="url(#bl45)"/>
<path d="M503.20,341.00 L506.50,341.00 L507.20,346.00 L506.00,349.50 L503.40,349.50 L504.00,345.00 Z" fill="rgb(0,235,255)" stroke="rgb(0,235,255)" stroke-width="2.80" stroke-linejoin="round" filter="url(#bl45)"/>
<path d="M503.20,341.00 L506.50,341.00 L507.20,346.00 L506.00,349.50 L503.40,349.50 L504.00,345.00 Z" fill="rgb(255,235,0)" stroke="rgb(255,225,0)" stroke-width="1.10" stroke-linejoin="round" filter="url(#bl45)"/>
<path d="M503.20,341.00 L506.50,341.00 L507.20,346.00 L506.00,349.50 L503.40,349.50 L504.00,345.00 Z" fill="rgb(255,10,0)" filter="url(#bl45)"/>
<path d="M523.40,301.40 a1.40,1.40 0 0,1 2.80,0 L526.20,302.60 a1.40,1.40 0 0,1 -2.80,0 Z" fill="rgb(0,235,255)" stroke="rgb(0,235,255)" stroke-width="2.80" stroke-linejoin="round" filter="url(#bl45)"/>
<path d="M523.40,301.40 a1.40,1.40 0 0,1 2.80,0 L526.20,302.60 a1.40,1.40 0 0,1 -2.80,0 Z" fill="rgb(255,235,0)" stroke="rgb(255,225,0)" stroke-width="1.10" stroke-linejoin="round" filter="url(#bl45)"/>
<path d="M523.40,301.40 a1.40,1.40 0 0,1 2.80,0 L526.20,302.60 a1.40,1.40 0 0,1 -2.80,0 Z" fill="rgb(255,10,0)" filter="url(#bl45)"/>
<path d="M523.40,306.90 a1.40,1.40 0 0,1 2.80,0 L526.20,311.60 a1.40,1.40 0 0,1 -2.80,0 Z" fill="rgb(0,235,255)" stroke="rgb(0,235,255)" stroke-width="2.80" stroke-linejoin="round" filter="url(#bl45)"/>
<path d="M523.40,306.90 a1.40,1.40 0 0,1 2.80,0 L526.20,311.60 a1.40,1.40 0 0,1 -2.80,0 Z" fill="rgb(255,235,0)" stroke="rgb(255,225,0)" stroke-width="1.10" stroke-linejoin="round" filter="url(#bl45)"/>
<path d="M523.40,306.90 a1.40,1.40 0 0,1 2.80,0 L526.20,311.60 a1.40,1.40 0 0,1 -2.80,0 Z" fill="rgb(255,10,0)" filter="url(#bl45)"/>
<path d="M523.40,315.90 a1.40,1.40 0 0,1 2.80,0 L526.20,320.60 a1.40,1.40 0 0,1 -2.80,0 Z" fill="rgb(0,235,255)" stroke="rgb(0,235,255)" stroke-width="2.80" stroke-linejoin="round" filter="url(#bl45)"/>
<path d="M523.40,315.90 a1.40,1.40 0 0,1 2.80,0 L526.20,320.60 a1.40,1.40 0 0,1 -2.80,0 Z" fill="rgb(255,235,0)" stroke="rgb(255,225,0)" stroke-width="1.10" stroke-linejoin="round" filter="url(#bl45)"/>
<path d="M523.40,315.90 a1.40,1.40 0 0,1 2.80,0 L526.20,320.60 a1.40,1.40 0 0,1 -2.80,0 Z" fill="rgb(255,10,0)" filter="url(#bl45)"/>
<path d="M523.40,328.40 a1.40,1.40 0 0,1 2.80,0 L526.20,338.60 a1.40,1.40 0 0,1 -2.80,0 Z" fill="rgb(0,235,255)" stroke="rgb(0,235,255)" stroke-width="2.80" stroke-linejoin="round" filter="url(#bl45)"/>
<path d="M523.40,328.40 a1.40,1.40 0 0,1 2.80,0 L526.20,338.60 a1.40,1.40 0 0,1 -2.80,0 Z" fill="rgb(255,235,0)" stroke="rgb(255,225,0)" stroke-width="1.10" stroke-linejoin="round" filter="url(#bl45)"/>
<path d="M523.40,328.40 a1.40,1.40 0 0,1 2.80,0 L526.20,338.60 a1.40,1.40 0 0,1 -2.80,0 Z" fill="rgb(255,10,0)" filter="url(#bl45)"/>
<path d="M523.00,341.00 L526.50,341.00 L527.00,349.50 L523.50,349.50 Z" fill="rgb(0,235,255)" stroke="rgb(0,235,255)" stroke-width="2.80" stroke-linejoin="round" filter="url(#bl45)"/>
<path d="M523.00,341.00 L526.50,341.00 L527.00,349.50 L523.50,349.50 Z" fill="rgb(255,235,0)" stroke="rgb(255,225,0)" stroke-width="1.10" stroke-linejoin="round" filter="url(#bl45)"/>
<path d="M523.00,341.00 L526.50,341.00 L527.00,349.50 L523.50,349.50 Z" fill="rgb(255,10,0)" filter="url(#bl45)"/>
<rect x="511.60" y="297.00" width="1.80" height="12.00" fill="rgb(120,250,255)" opacity="1" filter="url(#bl17)"/>
<rect x="510.80" y="297.00" width="3.40" height="12.00" fill="rgb(0,200,255)" opacity="0.6" filter="url(#bl22)"/>
<rect x="511.60" y="311.00" width="1.80" height="11.00" fill="rgb(120,250,255)" opacity="1" filter="url(#bl17)"/>
<rect x="510.80" y="311.00" width="3.40" height="11.00" fill="rgb(0,200,255)" opacity="0.6" filter="url(#bl22)"/>
<rect x="511.60" y="327.00" width="1.80" height="11.00" fill="rgb(120,250,255)" opacity="1" filter="url(#bl17)"/>
<rect x="510.80" y="327.00" width="3.40" height="11.00" fill="rgb(0,200,255)" opacity="0.6" filter="url(#bl22)"/>
<path d="M511.70,346.50 a1.60,2.20 0 1,0 3.20,0 a1.60,2.20 0 1,0 -3.20,0 Z" fill="rgb(0,235,255)" stroke="rgb(0,235,255)" stroke-width="2.60" stroke-linejoin="round" filter="url(#bl45)"/>
<path d="M511.70,346.50 a1.60,2.20 0 1,0 3.20,0 a1.60,2.20 0 1,0 -3.20,0 Z" fill="rgb(255,235,0)" stroke="rgb(255,225,0)" stroke-width="1.01" stroke-linejoin="round" filter="url(#bl45)"/>
<path d="M511.70,346.50 a1.60,2.20 0 1,0 3.20,0 a1.60,2.20 0 1,0 -3.20,0 Z" fill="rgb(255,10,0)" filter="url(#bl45)"/>
<rect x="534.90" y="296.00" width="1.40" height="56.00" fill="rgb(60,235,255)" opacity="1" filter="url(#bl134)"/>
<rect x="534.20" y="296.00" width="2.80" height="56.00" fill="rgb(0,170,255)" opacity="0.5" filter="url(#bl22)"/>
<path d="M534.10,296.80 a1.30,1.10 0 1,0 2.60,0 a1.30,1.10 0 1,0 -2.60,0 Z" fill="rgb(0,235,255)" stroke="rgb(0,235,255)" stroke-width="2.60" stroke-linejoin="round" filter="url(#bl45)"/>
<path d="M534.10,296.80 a1.30,1.10 0 1,0 2.60,0 a1.30,1.10 0 1,0 -2.60,0 Z" fill="rgb(255,235,0)" stroke="rgb(255,225,0)" stroke-width="1.01" stroke-linejoin="round" filter="url(#bl45)"/>
<path d="M534.10,296.80 a1.30,1.10 0 1,0 2.60,0 a1.30,1.10 0 1,0 -2.60,0 Z" fill="rgb(255,10,0)" filter="url(#bl45)"/>
<path d="M532.60,351.90 a2.40,2.40 0 0,1 4.80,0 L537.40,354.60 a2.40,2.40 0 0,1 -4.80,0 Z" fill="rgb(0,235,255)" stroke="rgb(0,235,255)" stroke-width="2.60" stroke-linejoin="round" filter="url(#bl45)"/>
<path d="M532.60,351.90 a2.40,2.40 0 0,1 4.80,0 L537.40,354.60 a2.40,2.40 0 0,1 -4.80,0 Z" fill="rgb(255,235,0)" stroke="rgb(255,225,0)" stroke-width="1.01" stroke-linejoin="round" filter="url(#bl45)"/>
<path d="M532.60,351.90 a2.40,2.40 0 0,1 4.80,0 L537.40,354.60 a2.40,2.40 0 0,1 -4.80,0 Z" fill="rgb(255,10,0)" filter="url(#bl45)"/>
<path d="M565.10,279.00 L566.30,279.00 L567.20,290.00 L567.30,343.50 L564.10,343.50 L564.20,290.00 Z" fill="rgb(0,235,255)" stroke="rgb(0,235,255)" stroke-width="2.20" stroke-linejoin="round" filter="url(#bl45)"/>
<path d="M565.10,279.00 L566.30,279.00 L567.20,290.00 L567.30,343.50 L564.10,343.50 L564.20,290.00 Z" fill="rgb(255,235,0)" stroke="rgb(255,225,0)" stroke-width="0.83" stroke-linejoin="round" filter="url(#bl45)"/>
<path d="M564.30,290.00 a1.40,1.40 0 0,1 2.80,0 L567.10,307.60 a1.40,1.40 0 0,1 -2.80,0 Z" fill="rgb(0,235,255)" stroke="rgb(0,235,255)" stroke-width="2.20" stroke-linejoin="round" filter="url(#bl45)"/>
<path d="M564.30,290.00 a1.40,1.40 0 0,1 2.80,0 L567.10,307.60 a1.40,1.40 0 0,1 -2.80,0 Z" fill="rgb(255,235,0)" stroke="rgb(255,225,0)" stroke-width="0.83" stroke-linejoin="round" filter="url(#bl45)"/>
<path d="M564.30,290.00 a1.40,1.40 0 0,1 2.80,0 L567.10,307.60 a1.40,1.40 0 0,1 -2.80,0 Z" fill="rgb(255,10,0)" filter="url(#bl45)"/>
<path d="M564.30,312.40 a1.40,1.40 0 0,1 2.80,0 L567.10,322.60 a1.40,1.40 0 0,1 -2.80,0 Z" fill="rgb(0,235,255)" stroke="rgb(0,235,255)" stroke-width="2.20" stroke-linejoin="round" filter="url(#bl45)"/>
<path d="M564.30,312.40 a1.40,1.40 0 0,1 2.80,0 L567.10,322.60 a1.40,1.40 0 0,1 -2.80,0 Z" fill="rgb(255,235,0)" stroke="rgb(255,225,0)" stroke-width="0.83" stroke-linejoin="round" filter="url(#bl45)"/>
<path d="M564.30,312.40 a1.40,1.40 0 0,1 2.80,0 L567.10,322.60 a1.40,1.40 0 0,1 -2.80,0 Z" fill="rgb(255,10,0)" filter="url(#bl45)"/>
<path d="M564.30,328.40 a1.40,1.40 0 0,1 2.80,0 L567.10,342.10 a1.40,1.40 0 0,1 -2.80,0 Z" fill="rgb(0,235,255)" stroke="rgb(0,235,255)" stroke-width="2.20" stroke-linejoin="round" filter="url(#bl45)"/>
<path d="M564.30,328.40 a1.40,1.40 0 0,1 2.80,0 L567.10,342.10 a1.40,1.40 0 0,1 -2.80,0 Z" fill="rgb(255,235,0)" stroke="rgb(255,225,0)" stroke-width="0.83" stroke-linejoin="round" filter="url(#bl45)"/>
<path d="M564.30,328.40 a1.40,1.40 0 0,1 2.80,0 L567.10,342.10 a1.40,1.40 0 0,1 -2.80,0 Z" fill="rgb(255,10,0)" filter="url(#bl45)"/>
<path d="M564.40,349.50 a1.30,1.40 0 1,0 2.60,0 a1.30,1.40 0 1,0 -2.60,0 Z" fill="rgb(0,235,255)" stroke="rgb(0,235,255)" stroke-width="2.40" stroke-linejoin="round" filter="url(#bl45)"/>
<path d="M564.40,349.50 a1.30,1.40 0 1,0 2.60,0 a1.30,1.40 0 1,0 -2.60,0 Z" fill="rgb(255,235,0)" stroke="rgb(255,225,0)" stroke-width="0.92" stroke-linejoin="round" filter="url(#bl45)"/>
<path d="M564.40,349.50 a1.30,1.40 0 1,0 2.60,0 a1.30,1.40 0 1,0 -2.60,0 Z" fill="rgb(255,10,0)" filter="url(#bl45)"/>
<path d="M548.40,297.00 a1.60,1.20 0 1,0 3.20,0 a1.60,1.20 0 1,0 -3.20,0 Z" fill="rgb(0,235,255)" stroke="rgb(0,235,255)" stroke-width="2.60" stroke-linejoin="round" filter="url(#bl45)"/>
<path d="M548.40,297.00 a1.60,1.20 0 1,0 3.20,0 a1.60,1.20 0 1,0 -3.20,0 Z" fill="rgb(255,235,0)" stroke="rgb(255,225,0)" stroke-width="1.01" stroke-linejoin="round" filter="url(#bl45)"/>
<path d="M548.40,297.00 a1.60,1.20 0 1,0 3.20,0 a1.60,1.20 0 1,0 -3.20,0 Z" fill="rgb(255,10,0)" filter="url(#bl45)"/>
<path d="M562.60,296.50 a1.60,1.20 0 1,0 3.20,0 a1.60,1.20 0 1,0 -3.20,0 Z" fill="rgb(0,235,255)" stroke="rgb(0,235,255)" stroke-width="2.60" stroke-linejoin="round" filter="url(#bl45)"/>
<path d="M562.60,296.50 a1.60,1.20 0 1,0 3.20,0 a1.60,1.20 0 1,0 -3.20,0 Z" fill="rgb(255,235,0)" stroke="rgb(255,225,0)" stroke-width="1.01" stroke-linejoin="round" filter="url(#bl45)"/>
<path d="M562.60,296.50 a1.60,1.20 0 1,0 3.20,0 a1.60,1.20 0 1,0 -3.20,0 Z" fill="rgb(255,10,0)" filter="url(#bl45)"/>
<rect x="552.10" y="322.00" width="1.80" height="12.00" fill="url(#vg135)" filter="url(#bl17)"/>
<rect x="542.50" y="339.30" width="22.00" height="2.80" fill="rgb(0,190,255)" opacity="0.8" filter="url(#bl47)"/>
<path d="M553.00,332.50 L555.50,337.00 L558.00,338.30 L561.00,338.00 L564.00,337.50 L564.50,342.30 L551.20,342.30 L550.80,338.00 Z" fill="rgb(0,235,255)" stroke="rgb(0,235,255)" stroke-width="3.00" stroke-linejoin="round" filter="url(#bl45)"/>
<path d="M553.00,332.50 L555.50,337.00 L558.00,338.30 L561.00,338.00 L564.00,337.50 L564.50,342.30 L551.20,342.30 L550.80,338.00 Z" fill="rgb(255,235,0)" stroke="rgb(255,225,0)" stroke-width="1.19" stroke-linejoin="round" filter="url(#bl45)"/>
<path d="M553.00,332.50 L555.50,337.00 L558.00,338.30 L561.00,338.00 L564.00,337.50 L564.50,342.30 L551.20,342.30 L550.80,338.00 Z" fill="rgb(255,10,0)" filter="url(#bl45)"/>
<rect x="575.10" y="305.00" width="1.80" height="15.00" fill="url(#vg136)" filter="url(#bl17)"/>
<path d="M576.00,318.50 Q577.40,322.40 578.80,326.30 L573.20,326.30 Q574.60,322.40 576.00,318.50 Z" fill="rgb(0,235,255)" stroke="rgb(0,235,255)" stroke-width="3.20" stroke-linejoin="round" filter="url(#bl45)"/>
<path d="M576.00,318.50 Q577.40,322.40 578.80,326.30 L573.20,326.30 Q574.60,322.40 576.00,318.50 Z" fill="rgb(255,235,0)" stroke="rgb(255,225,0)" stroke-width="1.28" stroke-linejoin="round" filter="url(#bl45)"/>
<path d="M576.00,318.50 Q577.40,322.40 578.80,326.30 L573.20,326.30 Q574.60,322.40 576.00,318.50 Z" fill="rgb(255,10,0)" filter="url(#bl45)"/>
<path d="M583.00,324.70 a2.60,1.80 0 1,0 5.20,0 a2.60,1.80 0 1,0 -5.20,0 Z" fill="rgb(0,235,255)" stroke="rgb(0,235,255)" stroke-width="3.00" stroke-linejoin="round" filter="url(#bl45)"/>
<path d="M583.00,324.70 a2.60,1.80 0 1,0 5.20,0 a2.60,1.80 0 1,0 -5.20,0 Z" fill="rgb(255,235,0)" stroke="rgb(255,225,0)" stroke-width="1.19" stroke-linejoin="round" filter="url(#bl45)"/>
<path d="M583.00,324.70 a2.60,1.80 0 1,0 5.20,0 a2.60,1.80 0 1,0 -5.20,0 Z" fill="rgb(255,10,0)" filter="url(#bl45)"/>
<rect x="581.70" y="296.00" width="1.60" height="9.00" fill="url(#vg137)" filter="url(#bl17)"/>
<path d="M581.20,304.60 a1.30,1.30 0 1,0 2.60,0 a1.30,1.30 0 1,0 -2.60,0 Z" fill="rgb(0,235,255)" stroke="rgb(0,235,255)" stroke-width="2.60" stroke-linejoin="round" filter="url(#bl45)"/>
<path d="M581.20,304.60 a1.30,1.30 0 1,0 2.60,0 a1.30,1.30 0 1,0 -2.60,0 Z" fill="rgb(255,235,0)" stroke="rgb(255,225,0)" stroke-width="1.01" stroke-linejoin="round" filter="url(#bl45)"/>
<path d="M581.20,304.60 a1.30,1.30 0 1,0 2.60,0 a1.30,1.30 0 1,0 -2.60,0 Z" fill="rgb(255,10,0)" filter="url(#bl45)"/>
<path d="M578.50,309.30 a1.80,1.50 0 1,0 3.60,0 a1.80,1.50 0 1,0 -3.60,0 Z" fill="rgb(0,235,255)" stroke="rgb(0,235,255)" stroke-width="2.80" stroke-linejoin="round" filter="url(#bl45)"/>
<path d="M578.50,309.30 a1.80,1.50 0 1,0 3.60,0 a1.80,1.50 0 1,0 -3.60,0 Z" fill="rgb(255,235,0)" stroke="rgb(255,225,0)" stroke-width="1.10" stroke-linejoin="round" filter="url(#bl45)"/>
<path d="M578.50,309.30 a1.80,1.50 0 1,0 3.60,0 a1.80,1.50 0 1,0 -3.60,0 Z" fill="rgb(255,10,0)" filter="url(#bl45)"/>
<path d="M588.70,309.90 a1.50,1.20 0 1,0 3.00,0 a1.50,1.20 0 1,0 -3.00,0 Z" fill="rgb(0,235,255)" stroke="rgb(0,235,255)" stroke-width="2.80" stroke-linejoin="round" filter="url(#bl45)"/>
<path d="M588.70,309.90 a1.50,1.20 0 1,0 3.00,0 a1.50,1.20 0 1,0 -3.00,0 Z" fill="rgb(255,235,0)" stroke="rgb(255,225,0)" stroke-width="1.10" stroke-linejoin="round" filter="url(#bl45)"/>
<path d="M588.70,309.90 a1.50,1.20 0 1,0 3.00,0 a1.50,1.20 0 1,0 -3.00,0 Z" fill="rgb(255,10,0)" filter="url(#bl45)"/>
<path d="M585.70,315.80 a1.50,1.20 0 1,0 3.00,0 a1.50,1.20 0 1,0 -3.00,0 Z" fill="rgb(0,235,255)" stroke="rgb(0,235,255)" stroke-width="2.80" stroke-linejoin="round" filter="url(#bl45)"/>
<path d="M585.70,315.80 a1.50,1.20 0 1,0 3.00,0 a1.50,1.20 0 1,0 -3.00,0 Z" fill="rgb(255,235,0)" stroke="rgb(255,225,0)" stroke-width="1.10" stroke-linejoin="round" filter="url(#bl45)"/>
<ellipse cx="591.00" cy="295.50" rx="2.00" ry="1.50" fill="rgb(0,225,255)" opacity="1" filter="url(#bl15)"/>
<ellipse cx="600.50" cy="296.60" rx="2.00" ry="1.50" fill="rgb(0,225,255)" opacity="1" filter="url(#bl15)"/>
<ellipse cx="592.50" cy="287.50" rx="1.80" ry="1.30" fill="rgb(0,225,255)" opacity="1" filter="url(#bl15)"/>
<ellipse cx="603.00" cy="287.00" rx="1.50" ry="1.30" fill="rgb(0,225,255)" opacity="1" filter="url(#bl15)"/>
<ellipse cx="572.50" cy="273.00" rx="1.30" ry="1.30" fill="rgb(0,225,255)" opacity="1" filter="url(#bl15)"/>
<ellipse cx="584.00" cy="273.50" rx="1.30" ry="1.30" fill="rgb(0,225,255)" opacity="1" filter="url(#bl15)"/>
<ellipse cx="606.70" cy="253.00" rx="2.20" ry="2.80" fill="rgb(0,225,255)" opacity="1" filter="url(#bl15)"/>
<ellipse cx="617.00" cy="253.00" rx="2.00" ry="2.50" fill="rgb(0,225,255)" opacity="1" filter="url(#bl15)"/>
<ellipse cx="556.00" cy="324.00" rx="1.50" ry="1.20" fill="rgb(0,225,255)" opacity="1" filter="url(#bl15)"/>
<ellipse cx="595.00" cy="324.70" rx="1.60" ry="1.20" fill="rgb(0,225,255)" opacity="1" filter="url(#bl15)"/>
<ellipse cx="580.00" cy="331.00" rx="1.20" ry="1.20" fill="rgb(0,225,255)" opacity="1" filter="url(#bl15)"/>
<ellipse cx="569.00" cy="348.00" rx="1.20" ry="1.20" fill="rgb(0,225,255)" opacity="1" filter="url(#bl15)"/>
<ellipse cx="545.00" cy="333.00" rx="1.20" ry="1.20" fill="rgb(0,225,255)" opacity="1" filter="url(#bl15)"/>
<ellipse cx="606.70" cy="253.00" rx="1.20" ry="1.40" fill="rgb(230,255,100)" opacity="1" filter="url(#bl93)"/>
</g>
<g transform="translate(0,433.9)">
<g clip-path="url(#cp138)">
<rect x="97.50" y="48.70" width="199.00" height="305.90" fill="rgb(0,0,150)" />
<rect x="148.00" y="48.70" width="148.50" height="212.90" fill="url(#hg139)" />
<rect x="148.00" y="48.70" width="148.50" height="212.90" fill="url(#vg140)" />
<rect x="97.50" y="48.70" width="23.00" height="305.90" fill="url(#hg141)" />
<rect x="120.50" y="48.70" width="27.50" height="305.90" fill="rgb(0,12,245)" />
<rect x="147.50" y="261.60" width="149.00" height="28.40" fill="url(#hg142)" />
<rect x="147.50" y="290.00" width="149.00" height="13.00" fill="url(#hg143)" />
<rect x="147.50" y="303.00" width="149.00" height="14.00" fill="url(#hg144)" />
<rect x="147.50" y="317.00" width="149.00" height="5.50" fill="url(#hg145)" />
<rect x="147.50" y="322.50" width="149.00" height="4.50" fill="url(#hg146)" />
<rect x="147.50" y="327.00" width="149.00" height="13.00" fill="url(#hg147)" />
<rect x="147.50" y="340.00" width="149.00" height="8.80" fill="url(#hg148)" />
<rect x="97.50" y="348.80" width="199.00" height="3.80" fill="url(#hg149)" />
<rect x="97.50" y="352.60" width="199.00" height="3.00" fill="url(#hg150)" />
<rect x="97.50" y="325.30" width="52.00" height="2.90" fill="rgb(0,0,115)" />
<rect x="198.20" y="48.70" width="2.20" height="213.30" fill="url(#vg151)" filter="url(#bl15)"/>
<rect x="197.70" y="185.00" width="2.40" height="77.00" fill="url(#vg152)" filter="url(#bl17)"/>
<rect x="211.70" y="215.00" width="2.20" height="47.00" fill="url(#vg153)" filter="url(#bl17)"/>
<rect x="229.10" y="225.00" width="2.20" height="37.00" fill="url(#vg154)" filter="url(#bl17)"/>
<rect x="259.90" y="225.00" width="2.60" height="37.00" fill="url(#vg155)" filter="url(#bl17)"/>
<rect x="197.50" y="75.00" width="2.60" height="187.00" fill="url(#vg156)" filter="url(#bl22)"/>
<rect x="211.40" y="110.00" width="2.40" height="152.00" fill="url(#vg157)" filter="url(#bl22)"/>
<rect x="228.80" y="140.00" width="2.40" height="122.00" fill="url(#vg158)" filter="url(#bl22)"/>
<rect x="246.20" y="160.00" width="2.20" height="102.00" fill="url(#vg159)" filter="url(#bl22)"/>
<rect x="259.70" y="150.00" width="2.60" height="112.00" fill="url(#vg160)" filter="url(#bl22)"/>
<rect x="157.90" y="140.00" width="2.20" height="122.00" fill="url(#vg161)" filter="url(#bl22)"/>
<rect x="175.40" y="150.00" width="2.20" height="112.00" fill="url(#vg162)" filter="url(#bl22)"/>
<rect x="184.00" y="170.00" width="2.00" height="92.00" fill="url(#vg163)" filter="url(#bl22)"/>
<rect x="171.00" y="60.00" width="2.00" height="202.00" fill="url(#vg164)" filter="url(#bl22)"/>
<rect x="152.00" y="60.00" width="2.00" height="202.00" fill="url(#vg165)" filter="url(#bl22)"/>
<ellipse cx="198.80" cy="256.00" rx="1.60" ry="6.00" fill="rgb(0,235,255)" opacity="1.0" filter="url(#bl15)"/>
<ellipse cx="198.80" cy="259.50" rx="1.30" ry="2.00" fill="rgb(220,255,120)" opacity="1.0" filter="url(#bl15)"/>
<ellipse cx="212.80" cy="256.50" rx="1.50" ry="4.00" fill="rgb(0,210,255)" opacity="1.0" filter="url(#bl15)"/>
<ellipse cx="230.00" cy="257.00" rx="1.60" ry="4.00" fill="rgb(0,220,255)" opacity="1.0" filter="url(#bl15)"/>
<ellipse cx="261.00" cy="255.50" rx="2.60" ry="5.00" fill="rgb(0,230,255)" opacity="1.0" filter="url(#bl15)"/>
<ellipse cx="266.50" cy="252.00" rx="1.50" ry="2.00" fill="rgb(0,200,255)" opacity="1.0" filter="url(#bl15)"/>
<ellipse cx="270.00" cy="258.00" rx="1.80" ry="2.00" fill="rgb(0,160,255)" opacity="1.0" filter="url(#bl15)"/>
<ellipse cx="167.80" cy="207.50" rx="1.80" ry="2.80" fill="rgb(150,255,255)" opacity="1.0" filter="url(#bl15)"/>
<ellipse cx="185.60" cy="251.00" rx="1.80" ry="2.50" fill="rgb(0,220,255)" opacity="1.0" filter="url(#bl15)"/>
<ellipse cx="176.50" cy="257.00" rx="1.20" ry="3.00" fill="rgb(0,150,255)" opacity="1.0" filter="url(#bl15)"/>
<ellipse cx="159.00" cy="258.00" rx="1.20" ry="3.00" fill="rgb(0,130,255)" opacity="1.0" filter="url(#bl15)"/>
<rect x="120.10" y="48.70" width="3.80" height="212.90" fill="url(#hg166)" />
<rect x="120.50" y="261.60" width="3.00" height="93.00" fill="url(#hg167)" />
<rect x="131.10" y="48.70" width="8.60" height="249.30" fill="url(#hg168)" />
<rect x="142.50" y="48.70" width="4.40" height="213.30" fill="url(#hg169)" />
<g mask="url(#mk170)"><rect x="142.50" y="48.70" width="4.40" height="208.30" fill="url(#hg172)" /></g>
<g mask="url(#mk173)"><rect x="142.50" y="48.70" width="4.40" height="190.30" fill="url(#hg175)" /></g>
<g mask="url(#mk176)"><rect x="142.50" y="48.70" width="4.40" height="164.30" fill="url(#hg178)" /></g>
<path d="M133.60,297.80 a1.80,1.80 0 0,1 3.60,0 L137.20,298.70 a1.80,1.80 0 0,1 -3.60,0 Z" fill="rgb(0,235,255)" stroke="rgb(0,235,255)" stroke-width="2.80" stroke-linejoin="round" filter="url(#bl45)"/>
<path d="M133.60,297.80 a1.80,1.80 0 0,1 3.60,0 L137.20,298.70 a1.80,1.80 0 0,1 -3.60,0 Z" fill="rgb(255,235,0)" stroke="rgb(255,225,0)" stroke-width="1.10" stroke-linejoin="round" filter="url(#bl45)"/>
<path d="M133.60,297.80 a1.80,1.80 0 0,1 3.60,0 L137.20,298.70 a1.80,1.80 0 0,1 -3.60,0 Z" fill="rgb(255,10,0)" filter="url(#bl45)"/>
<path d="M133.60,302.50 a1.80,1.00 0 0,1 3.60,0 L137.20,302.50 a1.80,1.00 0 0,1 -3.60,0 Z" fill="rgb(0,235,255)" stroke="rgb(0,235,255)" stroke-width="2.80" stroke-linejoin="round" filter="url(#bl45)"/>
<path d="M133.60,302.50 a1.80,1.00 0 0,1 3.60,0 L137.20,302.50 a1.80,1.00 0 0,1 -3.60,0 Z" fill="rgb(255,235,0)" stroke="rgb(255,225,0)" stroke-width="1.10" stroke-linejoin="round" filter="url(#bl45)"/>
<path d="M133.60,302.50 a1.80,1.00 0 0,1 3.60,0 L137.20,302.50 a1.80,1.00 0 0,1 -3.60,0 Z" fill="rgb(255,10,0)" filter="url(#bl45)"/>
<path d="M133.60,307.20 a1.80,1.80 0 0,1 3.60,0 L137.20,318.70 a1.80,1.80 0 0,1 -3.60,0 Z" fill="rgb(0,235,255)" stroke="rgb(0,235,255)" stroke-width="2.80" stroke-linejoin="round" filter="url(#bl45)"/>
<path d="M133.60,307.20 a1.80,1.80 0 0,1 3.60,0 L137.20,318.70 a1.80,1.80 0 0,1 -3.60,0 Z" fill="rgb(255,235,0)" stroke="rgb(255,225,0)" stroke-width="1.10" stroke-linejoin="round" filter="url(#bl45)"/>
<path d="M133.60,307.20 a1.80,1.80 0 0,1 3.60,0 L137.20,318.70 a1.80,1.80 0 0,1 -3.60,0 Z" fill="rgb(255,10,0)" filter="url(#bl45)"/>
<path d="M133.60,328.80 a1.80,1.80 0 0,1 3.60,0 L137.20,335.70 a1.80,1.80 0 0,1 -3.60,0 Z" fill="rgb(0,235,255)" stroke="rgb(0,235,255)" stroke-width="2.80" stroke-linejoin="round" filter="url(#bl45)"/>
<path d="M133.60,328.80 a1.80,1.80 0 0,1 3.60,0 L137.20,335.70 a1.80,1.80 0 0,1 -3.60,0 Z" fill="rgb(255,235,0)" stroke="rgb(255,225,0)" stroke-width="1.10" stroke-linejoin="round" filter="url(#bl45)"/>
<path d="M133.60,328.80 a1.80,1.80 0 0,1 3.60,0 L137.20,335.70 a1.80,1.80 0 0,1 -3.60,0 Z" fill="rgb(255,10,0)" filter="url(#bl45)"/>
<path d="M131.60,344.80 L138.60,344.80 L137.00,348.60 L138.60,356.00 L131.60,356.00 L133.40,348.60 Z" fill="rgb(0,235,255)" stroke="rgb(0,235,255)" stroke-width="2.80" stroke-linejoin="round" filter="url(#bl45)"/>
<path d="M131.60,344.80 L138.60,344.80 L137.00,348.60 L138.60,356.00 L131.60,356.00 L133.40,348.60 Z" fill="rgb(255,235,0)" stroke="rgb(255,225,0)" stroke-width="1.10" stroke-linejoin="round" filter="url(#bl45)"/>
<path d="M131.60,344.80 L138.60,344.80 L137.00,348.60 L138.60,356.00 L131.60,356.00 L133.40,348.60 Z" fill="rgb(255,10,0)" filter="url(#bl45)"/>
<path d="M142.60,263.80 a1.80,1.80 0 0,1 3.60,0 L146.20,281.70 a1.80,1.80 0 0,1 -3.60,0 Z" fill="rgb(0,235,255)" stroke="rgb(0,235,255)" stroke-width="2.40" stroke-linejoin="round" filter="url(#bl45)"/>
<path d="M142.60,263.80 a1.80,1.80 0 0,1 3.60,0 L146.20,281.70 a1.80,1.80 0 0,1 -3.60,0 Z" fill="rgb(255,235,0)" stroke="rgb(255,225,0)" stroke-width="0.92" stroke-linejoin="round" filter="url(#bl45)"/>
<path d="M142.60,263.80 a1.80,1.80 0 0,1 3.60,0 L146.20,281.70 a1.80,1.80 0 0,1 -3.60,0 Z" fill="rgb(255,10,0)" filter="url(#bl45)"/>
<path d="M142.80,286.60 a1.60,1.60 0 0,1 3.20,0 L146.00,301.40 a1.60,1.60 0 0,1 -3.20,0 Z" fill="rgb(0,235,255)" stroke="rgb(0,235,255)" stroke-width="2.40" stroke-linejoin="round" filter="url(#bl45)"/>
<path d="M142.80,286.60 a1.60,1.60 0 0,1 3.20,0 L146.00,301.40 a1.60,1.60 0 0,1 -3.20,0 Z" fill="rgb(255,235,0)" stroke="rgb(255,225,0)" stroke-width="0.92" stroke-linejoin="round" filter="url(#bl45)"/>
<path d="M142.90,307.50 a1.50,1.50 0 0,1 3.00,0 L145.90,311.00 a1.50,1.50 0 0,1 -3.00,0 Z" fill="rgb(0,235,255)" stroke="rgb(0,235,255)" stroke-width="2.60" stroke-linejoin="round" filter="url(#bl45)"/>
<path d="M142.90,307.50 a1.50,1.50 0 0,1 3.00,0 L145.90,311.00 a1.50,1.50 0 0,1 -3.00,0 Z" fill="rgb(255,235,0)" stroke="rgb(255,225,0)" stroke-width="1.01" stroke-linejoin="round" filter="url(#bl45)"/>
<path d="M142.90,307.50 a1.50,1.50 0 0,1 3.00,0 L145.90,311.00 a1.50,1.50 0 0,1 -3.00,0 Z" fill="rgb(255,10,0)" filter="url(#bl45)"/>
<path d="M142.90,316.50 a1.50,1.50 0 0,1 3.00,0 L145.90,318.00 a1.50,1.50 0 0,1 -3.00,0 Z" fill="rgb(0,235,255)" stroke="rgb(0,235,255)" stroke-width="2.60" stroke-linejoin="round" filter="url(#bl45)"/>
<path d="M142.90,316.50 a1.50,1.50 0 0,1 3.00,0 L145.90,318.00 a1.50,1.50 0 0,1 -3.00,0 Z" fill="rgb(255,235,0)" stroke="rgb(255,225,0)" stroke-width="1.01" stroke-linejoin="round" filter="url(#bl45)"/>
<path d="M142.90,316.50 a1.50,1.50 0 0,1 3.00,0 L145.90,318.00 a1.50,1.50 0 0,1 -3.00,0 Z" fill="rgb(255,10,0)" filter="url(#bl45)"/>
<path d="M142.90,329.00 a1.50,1.50 0 0,1 3.00,0 L145.90,335.50 a1.50,1.50 0 0,1 -3.00,0 Z" fill="rgb(0,235,255)" stroke="rgb(0,235,255)" stroke-width="2.60" stroke-linejoin="round" filter="url(#bl45)"/>
<path d="M142.90,329.00 a1.50,1.50 0 0,1 3.00,0 L145.90,335.50 a1.50,1.50 0 0,1 -3.00,0 Z" fill="rgb(255,235,0)" stroke="rgb(255,225,0)" stroke-width="1.01" stroke-linejoin="round" filter="url(#bl45)"/>
<path d="M142.90,329.00 a1.50,1.50 0 0,1 3.00,0 L145.90,335.50 a1.50,1.50 0 0,1 -3.00,0 Z" fill="rgb(255,10,0)" filter="url(#bl45)"/>
<path d="M142.60,349.20 a1.60,1.40 0 1,0 3.20,0 a1.60,1.40 0 1,0 -3.20,0 Z" fill="rgb(0,235,255)" stroke="rgb(0,235,255)" stroke-width="2.40" stroke-linejoin="round" filter="url(#bl45)"/>
<path d="M142.60,349.20 a1.60,1.40 0 1,0 3.20,0 a1.60,1.40 0 1,0 -3.20,0 Z" fill="rgb(255,235,0)" stroke="rgb(255,225,0)" stroke-width="0.92" stroke-linejoin="round" filter="url(#bl45)"/>
<path d="M142.60,349.20 a1.60,1.40 0 1,0 3.20,0 a1.60,1.40 0 1,0 -3.20,0 Z" fill="rgb(255,10,0)" filter="url(#bl45)"/>
<ellipse cx="124.50" cy="311.00" rx="1.40" ry="1.40" fill="rgb(0,220,255)" opacity="1" filter="url(#bl17)"/>
<ellipse cx="128.00" cy="335.60" rx="1.40" ry="1.40" fill="rgb(0,220,255)" opacity="1" filter="url(#bl17)"/>
<ellipse cx="135.40" cy="324.00" rx="1.50" ry="1.50" fill="rgb(0,220,255)" opacity="1" filter="url(#bl17)"/>
<ellipse cx="135.40" cy="341.00" rx="1.20" ry="1.20" fill="rgb(0,180,255)" opacity="1" filter="url(#bl17)"/>
<path d="M120.00,351.50 a1.30,1.60 0 1,0 2.60,0 a1.30,1.60 0 1,0 -2.60,0 Z" fill="rgb(0,235,255)" stroke="rgb(0,235,255)" stroke-width="2.60" stroke-linejoin="round" filter="url(#bl45)"/>
<path d="M120.00,351.50 a1.30,1.60 0 1,0 2.60,0 a1.30,1.60 0 1,0 -2.60,0 Z" fill="rgb(255,235,0)" stroke="rgb(255,225,0)" stroke-width="1.01" stroke-linejoin="round" filter="url(#bl45)"/>
<path d="M120.00,351.50 a1.30,1.60 0 1,0 2.60,0 a1.30,1.60 0 1,0 -2.60,0 Z" fill="rgb(255,10,0)" filter="url(#bl45)"/>
<rect x="160.00" y="341.00" width="24.00" height="3.40" fill="rgb(0,210,255)" opacity="0.95" filter="url(#bl46)"/>
<rect x="165.00" y="341.60" width="7.00" height="2.40" fill="rgb(200,255,120)" opacity="0.9" filter="url(#bl47)"/>
<path d="M157.80,327.20 L162.20,327.00 L162.80,330.00 L161.80,335.00 L162.50,339.50 L167.00,341.50 L166.50,344.60 L158.00,344.80 L156.40,338.00 L157.00,332.00 Z" fill="rgb(0,235,255)" stroke="rgb(0,235,255)" stroke-width="3.40" stroke-linejoin="round" filter="url(#bl45)"/>
<path d="M157.80,327.20 L162.20,327.00 L162.80,330.00 L161.80,335.00 L162.50,339.50 L167.00,341.50 L166.50,344.60 L158.00,344.80 L156.40,338.00 L157.00,332.00 Z" fill="rgb(255,235,0)" stroke="rgb(255,225,0)" stroke-width="1.37" stroke-linejoin="round" filter="url(#bl45)"/>
<path d="M157.80,327.20 L162.20,327.00 L162.80,330.00 L161.80,335.00 L162.50,339.50 L167.00,341.50 L166.50,344.60 L158.00,344.80 L156.40,338.00 L157.00,332.00 Z" fill="rgb(255,10,0)" filter="url(#bl45)"/>
<path d="M163.10,335.00 a1.30,1.00 0 1,0 2.60,0 a1.30,1.00 0 1,0 -2.60,0 Z" fill="rgb(0,235,255)" stroke="rgb(0,235,255)" stroke-width="2.40" stroke-linejoin="round" filter="url(#bl45)"/>
<path d="M163.10,335.00 a1.30,1.00 0 1,0 2.60,0 a1.30,1.00 0 1,0 -2.60,0 Z" fill="rgb(255,235,0)" stroke="rgb(255,225,0)" stroke-width="0.92" stroke-linejoin="round" filter="url(#bl45)"/>
<path d="M171.00,330.50 a1.20,1.50 0 1,0 2.40,0 a1.20,1.50 0 1,0 -2.40,0 Z" fill="rgb(0,235,255)" stroke="rgb(0,235,255)" stroke-width="2.40" stroke-linejoin="round" filter="url(#bl45)"/>
<path d="M171.00,330.50 a1.20,1.50 0 1,0 2.40,0 a1.20,1.50 0 1,0 -2.40,0 Z" fill="rgb(255,235,0)" stroke="rgb(255,225,0)" stroke-width="0.92" stroke-linejoin="round" filter="url(#bl45)"/>
<path d="M171.00,330.50 a1.20,1.50 0 1,0 2.40,0 a1.20,1.50 0 1,0 -2.40,0 Z" fill="rgb(255,10,0)" filter="url(#bl45)"/>
<path d="M172.40,327.00 a1.60,1.00 0 1,0 3.20,0 a1.60,1.00 0 1,0 -3.20,0 Z" fill="rgb(0,235,255)" stroke="rgb(0,235,255)" stroke-width="2.40" stroke-linejoin="round" filter="url(#bl45)"/>
<path d="M172.40,327.00 a1.60,1.00 0 1,0 3.20,0 a1.60,1.00 0 1,0 -3.20,0 Z" fill="rgb(255,235,0)" stroke="rgb(255,225,0)" stroke-width="0.92" stroke-linejoin="round" filter="url(#bl45)"/>
<path d="M172.40,327.00 a1.60,1.00 0 1,0 3.20,0 a1.60,1.00 0 1,0 -3.20,0 Z" fill="rgb(255,10,0)" filter="url(#bl45)"/>
<ellipse cx="176.80" cy="331.20" rx="1.60" ry="1.40" fill="rgb(0,230,255)" opacity="1" filter="url(#bl15)"/>
<rect x="157.90" y="262.00" width="2.20" height="60.00" fill="url(#vg179)" filter="url(#bl22)"/>
<rect x="175.40" y="262.00" width="2.20" height="60.00" fill="url(#vg180)" filter="url(#bl22)"/>
<rect x="183.40" y="262.00" width="2.20" height="56.00" fill="url(#vg181)" filter="url(#bl22)"/>
<rect x="197.70" y="262.00" width="2.20" height="38.00" fill="url(#vg182)" filter="url(#bl22)"/>
<rect x="211.60" y="262.00" width="2.00" height="30.00" fill="url(#vg183)" filter="url(#bl22)"/>
<rect x="229.00" y="262.00" width="2.00" height="28.00" fill="url(#vg184)" filter="url(#bl22)"/>
<rect x="169.00" y="300.00" width="2.00" height="22.00" fill="url(#vg185)" filter="url(#bl22)"/>
<ellipse cx="158.00" cy="309.00" rx="1.60" ry="4.00" fill="rgb(0,230,255)" opacity="1" filter="url(#bl15)"/>
<ellipse cx="163.00" cy="312.00" rx="1.40" ry="3.00" fill="rgb(0,220,255)" opacity="1" filter="url(#bl15)"/>
<ellipse cx="170.00" cy="308.00" rx="1.50" ry="4.00" fill="rgb(0,230,255)" opacity="1" filter="url(#bl15)"/>
<ellipse cx="176.00" cy="311.00" rx="1.50" ry="4.00" fill="rgb(0,230,255)" opacity="1" filter="url(#bl15)"/>
<ellipse cx="184.00" cy="305.00" rx="1.40" ry="5.00" fill="rgb(0,230,255)" opacity="1" filter="url(#bl15)"/>
<ellipse cx="189.80" cy="283.00" rx="1.60" ry="3.00" fill="rgb(0,230,255)" opacity="1" filter="url(#bl15)"/>
<ellipse cx="185.00" cy="293.00" rx="1.50" ry="4.00" fill="rgb(0,210,255)" opacity="1" filter="url(#bl15)"/>
<ellipse cx="176.50" cy="290.00" rx="1.20" ry="4.00" fill="rgb(0,170,255)" opacity="1" filter="url(#bl15)"/>
<ellipse cx="159.00" cy="290.00" rx="1.20" ry="4.00" fill="rgb(0,150,255)" opacity="1" filter="url(#bl15)"/>
<ellipse cx="225.00" cy="305.00" rx="2.00" ry="1.50" fill="rgb(0,220,255)" opacity="1" filter="url(#bl15)"/>
<ellipse cx="230.00" cy="315.00" rx="2.20" ry="1.50" fill="rgb(0,230,255)" opacity="1" filter="url(#bl15)"/>
<ellipse cx="218.00" cy="312.00" rx="2.20" ry="1.60" fill="rgb(0,230,255)" opacity="1" filter="url(#bl15)"/>
<ellipse cx="156.00" cy="345.00" rx="2.00" ry="1.50" fill="rgb(0,220,255)" opacity="1" filter="url(#bl15)"/>
<ellipse cx="170.00" cy="352.00" rx="2.00" ry="1.30" fill="rgb(0,140,255)" opacity="1" filter="url(#bl15)"/>
<ellipse cx="149.00" cy="318.00" rx="1.50" ry="1.50" fill="rgb(0,200,255)" opacity="1" filter="url(#bl15)"/>
<ellipse cx="152.00" cy="300.00" rx="1.30" ry="1.30" fill="rgb(0,180,255)" opacity="1" filter="url(#bl15)"/>
<ellipse cx="240.00" cy="285.00" rx="2.50" ry="1.30" fill="rgb(0,220,255)" opacity="1" filter="url(#bl15)"/>
<ellipse cx="215.00" cy="319.00" rx="2.00" ry="1.50" fill="rgb(0,200,255)" opacity="1" filter="url(#bl15)"/>
<ellipse cx="193.00" cy="325.00" rx="3.00" ry="1.30" fill="rgb(0,200,255)" opacity="1" filter="url(#bl15)"/>
<path d="M202.30,291.50 C203.08,297.60 204.90,302.40 204.90,303.70 A2.60,2.60 0 0,1 199.70,303.70 C199.70,302.40 201.52,297.60 202.30,291.50 Z" fill="rgb(0,235,255)" stroke="rgb(0,235,255)" stroke-width="3.20" stroke-linejoin="round" filter="url(#bl45)"/>
<path d="M202.30,291.50 C203.08,297.60 204.90,302.40 204.90,303.70 A2.60,2.60 0 0,1 199.70,303.70 C199.70,302.40 201.52,297.60 202.30,291.50 Z" fill="rgb(255,235,0)" stroke="rgb(255,225,0)" stroke-width="1.28" stroke-linejoin="round" filter="url(#bl45)"/>
<path d="M202.30,291.50 C203.08,297.60 204.90,302.40 204.90,303.70 A2.60,2.60 0 0,1 199.70,303.70 C199.70,302.40 201.52,297.60 202.30,291.50 Z" fill="rgb(255,10,0)" filter="url(#bl45)"/>
<path d="M215.80,288.50 C216.70,293.15 218.80,296.30 218.80,297.80 A3.00,3.00 0 0,1 212.80,297.80 C212.80,296.30 214.90,293.15 215.80,288.50 Z" fill="rgb(0,235,255)" stroke="rgb(0,235,255)" stroke-width="3.20" stroke-linejoin="round" filter="url(#bl45)"/>
<path d="M215.80,288.50 C216.70,293.15 218.80,296.30 218.80,297.80 A3.00,3.00 0 0,1 212.80,297.80 C212.80,296.30 214.90,293.15 215.80,288.50 Z" fill="rgb(255,235,0)" stroke="rgb(255,225,0)" stroke-width="1.28" stroke-linejoin="round" filter="url(#bl45)"/>
<path d="M215.80,288.50 C216.70,293.15 218.80,296.30 218.80,297.80 A3.00,3.00 0 0,1 212.80,297.80 C212.80,296.30 214.90,293.15 215.80,288.50 Z" fill="rgb(255,10,0)" filter="url(#bl45)"/>
<path d="M203.40,316.50 Q205.25,320.40 207.10,324.30 L199.70,324.30 Q201.55,320.40 203.40,316.50 Z" fill="rgb(0,235,255)" stroke="rgb(0,235,255)" stroke-width="3.20" stroke-linejoin="round" filter="url(#bl45)"/>
<path d="M203.40,316.50 Q205.25,320.40 207.10,324.30 L199.70,324.30 Q201.55,320.40 203.40,316.50 Z" fill="rgb(255,235,0)" stroke="rgb(255,225,0)" stroke-width="1.28" stroke-linejoin="round" filter="url(#bl45)"/>
<path d="M203.40,316.50 Q205.25,320.40 207.10,324.30 L199.70,324.30 Q201.55,320.40 203.40,316.50 Z" fill="rgb(255,10,0)" filter="url(#bl45)"/>
<path d="M182.70,325.00 a2.80,1.30 0 1,0 5.60,0 a2.80,1.30 0 1,0 -5.60,0 Z" fill="rgb(0,235,255)" stroke="rgb(0,235,255)" stroke-width="2.80" stroke-linejoin="round" filter="url(#bl45)"/>
<path d="M182.70,325.00 a2.80,1.30 0 1,0 5.60,0 a2.80,1.30 0 1,0 -5.60,0 Z" fill="rgb(255,235,0)" stroke="rgb(255,225,0)" stroke-width="1.10" stroke-linejoin="round" filter="url(#bl45)"/>
<path d="M182.70,325.00 a2.80,1.30 0 1,0 5.60,0 a2.80,1.30 0 1,0 -5.60,0 Z" fill="rgb(255,10,0)" filter="url(#bl45)"/>
<path d="M194.60,326.00 a1.40,1.10 0 1,0 2.80,0 a1.40,1.10 0 1,0 -2.80,0 Z" fill="rgb(0,235,255)" stroke="rgb(0,235,255)" stroke-width="2.60" stroke-linejoin="round" filter="url(#bl45)"/>
<path d="M194.60,326.00 a1.40,1.10 0 1,0 2.80,0 a1.40,1.10 0 1,0 -2.80,0 Z" fill="rgb(255,235,0)" stroke="rgb(255,225,0)" stroke-width="1.01" stroke-linejoin="round" filter="url(#bl45)"/>
<path d="M194.60,326.00 a1.40,1.10 0 1,0 2.80,0 a1.40,1.10 0 1,0 -2.80,0 Z" fill="rgb(255,10,0)" filter="url(#bl45)"/>
<path d="M209.20,309.50 a1.80,1.30 0 1,0 3.60,0 a1.80,1.30 0 1,0 -3.60,0 Z" fill="rgb(0,235,255)" stroke="rgb(0,235,255)" stroke-width="2.80" stroke-linejoin="round" filter="url(#bl45)"/>
<path d="M209.20,309.50 a1.80,1.30 0 1,0 3.60,0 a1.80,1.30 0 1,0 -3.60,0 Z" fill="rgb(255,235,0)" stroke="rgb(255,225,0)" stroke-width="1.10" stroke-linejoin="round" filter="url(#bl45)"/>
<path d="M209.20,309.50 a1.80,1.30 0 1,0 3.60,0 a1.80,1.30 0 1,0 -3.60,0 Z" fill="rgb(255,10,0)" filter="url(#bl45)"/>
<path d="M204.60,309.00 a1.40,1.20 0 1,0 2.80,0 a1.40,1.20 0 1,0 -2.80,0 Z" fill="rgb(0,235,255)" stroke="rgb(0,235,255)" stroke-width="2.80" stroke-linejoin="round" filter="url(#bl45)"/>
<path d="M204.60,309.00 a1.40,1.20 0 1,0 2.80,0 a1.40,1.20 0 1,0 -2.80,0 Z" fill="rgb(255,235,0)" stroke="rgb(255,225,0)" stroke-width="1.10" stroke-linejoin="round" filter="url(#bl45)"/>
<path d="M197.90,311.50 a1.60,1.30 0 1,0 3.20,0 a1.60,1.30 0 1,0 -3.20,0 Z" fill="rgb(0,235,255)" stroke="rgb(0,235,255)" stroke-width="2.80" stroke-linejoin="round" filter="url(#bl45)"/>
<path d="M197.90,311.50 a1.60,1.30 0 1,0 3.20,0 a1.60,1.30 0 1,0 -3.20,0 Z" fill="rgb(255,235,0)" stroke="rgb(255,225,0)" stroke-width="1.10" stroke-linejoin="round" filter="url(#bl45)"/>
<path d="M244.70,284.70 a2.60,1.30 0 1,0 5.20,0 a2.60,1.30 0 1,0 -5.20,0 Z" fill="rgb(0,235,255)" stroke="rgb(0,235,255)" stroke-width="3.00" stroke-linejoin="round" filter="url(#bl45)"/>
<path d="M244.70,284.70 a2.60,1.30 0 1,0 5.20,0 a2.60,1.30 0 1,0 -5.20,0 Z" fill="rgb(255,235,0)" stroke="rgb(255,225,0)" stroke-width="1.19" stroke-linejoin="round" filter="url(#bl45)"/>
<path d="M244.70,284.70 a2.60,1.30 0 1,0 5.20,0 a2.60,1.30 0 1,0 -5.20,0 Z" fill="rgb(255,10,0)" filter="url(#bl45)"/>
</g>
</g>
<g clip-path="url(#cp186)">
<rect x="297.50" y="482.60" width="199.00" height="305.90" fill="rgb(255,255,247)" />
<rect x="313.00" y="482.60" width="40.00" height="305.90" fill="url(#hg187)" />
<rect x="352.00" y="482.60" width="48.00" height="305.90" fill="rgb(244,251,252)" opacity="1.0" filter="url(#bl188)"/>
<rect x="397.50" y="483.00" width="3.00" height="217.00" fill="url(#vg189)" filter="url(#bl47)"/>
<rect x="350.90" y="483.00" width="3.00" height="277.00" fill="url(#vg190)" filter="url(#bl47)"/>
<rect x="356.75" y="520.00" width="2.50" height="220.00" fill="url(#vg191)" filter="url(#bl47)"/>
<rect x="369.75" y="560.00" width="2.50" height="210.00" fill="url(#vg192)" filter="url(#bl47)"/>
<rect x="376.75" y="560.00" width="2.50" height="210.00" fill="url(#vg193)" filter="url(#bl47)"/>
<rect x="384.35" y="540.00" width="2.50" height="160.00" fill="url(#vg194)" filter="url(#bl47)"/>
<rect x="390.75" y="600.00" width="2.50" height="100.00" fill="url(#vg195)" filter="url(#bl47)"/>
<rect x="404.75" y="620.00" width="2.50" height="80.00" fill="url(#vg196)" filter="url(#bl47)"/>
<rect x="411.00" y="560.00" width="3.00" height="180.00" fill="url(#vg197)" filter="url(#bl47)"/>
<rect x="418.75" y="600.00" width="2.50" height="100.00" fill="url(#vg198)" filter="url(#bl47)"/>
<rect x="428.50" y="580.00" width="3.00" height="120.00" fill="url(#vg199)" filter="url(#bl47)"/>
<rect x="443.75" y="630.00" width="2.50" height="70.00" fill="url(#vg200)" filter="url(#bl47)"/>
<rect x="459.30" y="560.00" width="3.00" height="140.00" fill="url(#vg201)" filter="url(#bl47)"/>
<rect x="473.75" y="640.00" width="2.50" height="60.00" fill="url(#vg202)" filter="url(#bl47)"/>
<rect x="485.75" y="650.00" width="2.50" height="50.00" fill="url(#vg203)" filter="url(#bl47)"/>
<rect x="397.30" y="490.00" width="3.00" height="204.00" fill="url(#vg204)" filter="url(#bl22)"/>
<rect x="375.20" y="560.00" width="2.40" height="134.00" fill="url(#vg205)" filter="url(#bl22)"/>
<rect x="354.80" y="490.00" width="2.40" height="204.00" fill="url(#vg206)" filter="url(#bl22)"/>
<rect x="360.50" y="520.00" width="2.20" height="174.00" fill="url(#vg207)" filter="url(#bl22)"/>
<rect x="397.00" y="600.00" width="2.60" height="94.00" fill="url(#vg208)" filter="url(#bl15)"/>
<rect x="460.20" y="620.00" width="2.60" height="74.00" fill="url(#vg209)" filter="url(#bl15)"/>
<rect x="428.90" y="630.00" width="2.20" height="64.00" fill="url(#vg210)" filter="url(#bl15)"/>
<rect x="411.50" y="620.00" width="2.00" height="74.00" fill="url(#vg211)" filter="url(#bl15)"/>
<ellipse cx="398.80" cy="690.00" rx="1.80" ry="4.00" fill="rgb(60,140,255)" opacity="1" filter="url(#bl15)"/>
<ellipse cx="430.00" cy="690.00" rx="1.60" ry="3.50" fill="rgb(70,150,255)" opacity="1" filter="url(#bl15)"/>
<ellipse cx="460.80" cy="690.00" rx="2.20" ry="4.00" fill="rgb(60,140,255)" opacity="1" filter="url(#bl15)"/>
<ellipse cx="412.50" cy="688.00" rx="1.50" ry="3.00" fill="rgb(120,190,255)" opacity="1" filter="url(#bl15)"/>
<ellipse cx="385.60" cy="676.00" rx="1.30" ry="4.00" fill="rgb(110,185,255)" opacity="1" filter="url(#bl15)"/>
<ellipse cx="367.80" cy="641.00" rx="1.60" ry="2.40" fill="rgb(0,70,245)" opacity="1" filter="url(#bl15)"/>
<ellipse cx="466.00" cy="688.00" rx="2.00" ry="1.50" fill="rgb(130,200,255)" opacity="1" filter="url(#bl15)"/>
<rect x="347.50" y="693.00" width="149.00" height="3.00" fill="rgb(205,242,255)" opacity="0.9" filter="url(#bl47)"/>
<path d="M313.50,696.00 L470.00,696.00 L455.00,705.00 L440.00,714.00 L428.00,725.00 L420.00,737.00 L412.00,752.00 L398.00,762.00 L385.00,772.00 L375.00,787.00 L313.50,789.50 Z" fill="rgb(205,243,255)" opacity="0.85" filter="url(#bl212)"/>
<rect x="347.50" y="703.00" width="120.00" height="2.00" fill="rgb(252,253,245)" opacity="0.6" filter="url(#bl47)"/>
<rect x="347.50" y="727.00" width="120.00" height="2.00" fill="rgb(252,253,245)" opacity="0.6" filter="url(#bl47)"/>
<rect x="347.50" y="740.00" width="120.00" height="2.00" fill="rgb(252,253,245)" opacity="0.6" filter="url(#bl47)"/>
<rect x="347.50" y="752.00" width="120.00" height="2.00" fill="rgb(252,253,245)" opacity="0.6" filter="url(#bl47)"/>
<rect x="347.50" y="765.00" width="120.00" height="2.00" fill="rgb(252,253,245)" opacity="0.6" filter="url(#bl47)"/>
<rect x="347.50" y="776.00" width="120.00" height="2.00" fill="rgb(252,253,245)" opacity="0.6" filter="url(#bl47)"/>
<rect x="350.90" y="696.00" width="3.00" height="69.00" fill="url(#vg213)" filter="url(#bl47)"/>
<rect x="356.75" y="700.00" width="2.50" height="60.00" fill="url(#vg214)" filter="url(#bl47)"/>
<rect x="369.75" y="700.00" width="2.50" height="65.00" fill="url(#vg215)" filter="url(#bl47)"/>
<rect x="376.75" y="700.00" width="2.50" height="60.00" fill="url(#vg216)" filter="url(#bl47)"/>
<rect x="384.10" y="700.00" width="3.00" height="58.00" fill="url(#vg217)" filter="url(#bl47)"/>
<rect x="390.75" y="705.00" width="2.50" height="45.00" fill="url(#vg218)" filter="url(#bl47)"/>
<rect x="397.30" y="696.00" width="3.00" height="44.00" fill="url(#vg219)" filter="url(#bl47)"/>
<rect x="411.00" y="696.00" width="3.00" height="39.00" fill="url(#vg220)" filter="url(#bl47)"/>
<rect x="418.75" y="700.00" width="2.50" height="30.00" fill="url(#vg221)" filter="url(#bl47)"/>
<rect x="428.75" y="696.00" width="2.50" height="24.00" fill="url(#vg222)" filter="url(#bl47)"/>
<rect x="438.75" y="696.00" width="2.50" height="18.00" fill="url(#vg223)" filter="url(#bl47)"/>
<rect x="350.00" y="729.90" width="80.00" height="2.20" fill="rgb(120,195,255)" opacity="0.8" filter="url(#bl47)"/>
<rect x="350.00" y="743.00" width="70.00" height="2.00" fill="rgb(110,190,255)" opacity="0.8" filter="url(#bl47)"/>
<rect x="360.00" y="756.00" width="50.00" height="2.00" fill="rgb(90,175,255)" opacity="0.8" filter="url(#bl47)"/>
<rect x="360.00" y="767.10" width="35.00" height="1.80" fill="rgb(120,195,255)" opacity="0.7" filter="url(#bl47)"/>
<rect x="370.00" y="779.00" width="35.00" height="2.00" fill="rgb(80,160,255)" opacity="0.8" filter="url(#bl47)"/>
<rect x="340.00" y="785.25" width="50.00" height="1.50" fill="rgb(130,200,255)" opacity="0.7" filter="url(#bl47)"/>
<rect x="345.00" y="721.20" width="75.00" height="1.60" fill="rgb(150,210,255)" opacity="0.7" filter="url(#bl47)"/>
<rect x="380.00" y="710.20" width="60.00" height="1.60" fill="rgb(150,210,255)" opacity="0.6" filter="url(#bl47)"/>
<rect x="302.60" y="482.60" width="4.40" height="258.40" fill="url(#hg224)" />
<rect x="310.60" y="482.60" width="4.40" height="258.40" fill="url(#hg225)" />
<rect x="319.80" y="482.60" width="2.60" height="305.90" fill="url(#hg226)" />
<rect x="322.60" y="482.60" width="3.00" height="305.90" fill="url(#hg227)" />
<g mask="url(#mk228)"><rect x="322.60" y="482.60" width="3.00" height="305.90" fill="url(#hg230)" /></g>
<rect x="331.15" y="482.60" width="8.50" height="305.90" fill="url(#hg231)" />
<rect x="342.30" y="482.60" width="5.00" height="305.90" fill="url(#hg232)" />
<path d="M333.60,699.00 a2.00,2.00 0 0,1 4.00,0 L337.60,720.00 a2.00,2.00 0 0,1 -4.00,0 Z" fill="rgb(0,70,245)" filter="url(#bl15)"/>
<path d="M343.50,698.40 a1.40,1.40 0 0,1 2.80,0 L346.30,720.60 a1.40,1.40 0 0,1 -2.80,0 Z" fill="rgb(0,95,250)" filter="url(#bl15)"/>
<path d="M333.60,726.00 a2.00,2.00 0 0,1 4.00,0 L337.60,729.00 a2.00,2.00 0 0,1 -4.00,0 Z" fill="rgb(0,70,245)" filter="url(#bl15)"/>
<path d="M343.50,725.40 a1.40,1.40 0 0,1 2.80,0 L346.30,729.60 a1.40,1.40 0 0,1 -2.80,0 Z" fill="rgb(0,95,250)" filter="url(#bl15)"/>
<path d="M333.60,737.00 a2.00,2.00 0 0,1 4.00,0 L337.60,743.00 a2.00,2.00 0 0,1 -4.00,0 Z" fill="rgb(0,70,245)" filter="url(#bl15)"/>
<path d="M343.50,736.40 a1.40,1.40 0 0,1 2.80,0 L346.30,743.60 a1.40,1.40 0 0,1 -2.80,0 Z" fill="rgb(0,95,250)" filter="url(#bl15)"/>
<path d="M333.60,750.00 a2.00,2.00 0 0,1 4.00,0 L337.60,754.00 a2.00,2.00 0 0,1 -4.00,0 Z" fill="rgb(0,70,245)" filter="url(#bl15)"/>
<path d="M343.50,749.40 a1.40,1.40 0 0,1 2.80,0 L346.30,754.60 a1.40,1.40 0 0,1 -2.80,0 Z" fill="rgb(0,95,250)" filter="url(#bl15)"/>
<path d="M303.20,742.60 a1.60,1.60 0 0,1 3.20,0 L306.40,745.40 a1.60,1.60 0 0,1 -3.20,0 Z" fill="rgb(255,200,170)" stroke="rgb(255,200,170)" stroke-width="1.20" stroke-linejoin="round" filter="url(#bl17)"/>
<path d="M303.20,742.60 a1.60,1.60 0 0,1 3.20,0 L306.40,745.40 a1.60,1.60 0 0,1 -3.20,0 Z" fill="rgb(255,25,0)" filter="url(#bl17)"/>
<path d="M303.20,750.10 a1.60,1.60 0 0,1 3.20,0 L306.40,754.40 a1.60,1.60 0 0,1 -3.20,0 Z" fill="rgb(255,200,170)" stroke="rgb(255,200,170)" stroke-width="1.20" stroke-linejoin="round" filter="url(#bl17)"/>
<path d="M303.20,750.10 a1.60,1.60 0 0,1 3.20,0 L306.40,754.40 a1.60,1.60 0 0,1 -3.20,0 Z" fill="rgb(255,25,0)" filter="url(#bl17)"/>
<path d="M303.20,761.60 a1.60,1.60 0 0,1 3.20,0 L306.40,769.40 a1.60,1.60 0 0,1 -3.20,0 Z" fill="rgb(255,200,170)" stroke="rgb(255,200,170)" stroke-width="1.20" stroke-linejoin="round" filter="url(#bl17)"/>
<path d="M303.20,761.60 a1.60,1.60 0 0,1 3.20,0 L306.40,769.40 a1.60,1.60 0 0,1 -3.20,0 Z" fill="rgb(255,25,0)" filter="url(#bl17)"/>
<path d="M302.80,775.00 L306.30,775.00 L308.00,781.00 L306.30,785.00 L302.80,785.00 L303.80,780.00 Z" fill="rgb(255,200,170)" stroke="rgb(255,200,170)" stroke-width="1.20" stroke-linejoin="round" filter="url(#bl17)"/>
<path d="M302.80,775.00 L306.30,775.00 L308.00,781.00 L306.30,785.00 L302.80,785.00 L303.80,780.00 Z" fill="rgb(255,25,0)" filter="url(#bl17)"/>
<path d="M311.20,742.60 a1.60,1.60 0 0,1 3.20,0 L314.40,745.40 a1.60,1.60 0 0,1 -3.20,0 Z" fill="rgb(255,200,170)" stroke="rgb(255,200,170)" stroke-width="1.20" stroke-linejoin="round" filter="url(#bl17)"/>
<path d="M311.20,742.60 a1.60,1.60 0 0,1 3.20,0 L314.40,745.40 a1.60,1.60 0 0,1 -3.20,0 Z" fill="rgb(255,70,10)" filter="url(#bl17)"/>
<path d="M311.20,750.10 a1.60,1.60 0 0,1 3.20,0 L314.40,754.40 a1.60,1.60 0 0,1 -3.20,0 Z" fill="rgb(255,200,170)" stroke="rgb(255,200,170)" stroke-width="1.20" stroke-linejoin="round" filter="url(#bl17)"/>
<path d="M311.20,750.10 a1.60,1.60 0 0,1 3.20,0 L314.40,754.40 a1.60,1.60 0 0,1 -3.20,0 Z" fill="rgb(255,70,10)" filter="url(#bl17)"/>
<path d="M311.20,761.60 a1.60,1.60 0 0,1 3.20,0 L314.40,769.40 a1.60,1.60 0 0,1 -3.20,0 Z" fill="rgb(255,200,170)" stroke="rgb(255,200,170)" stroke-width="1.20" stroke-linejoin="round" filter="url(#bl17)"/>
<path d="M311.20,761.60 a1.60,1.60 0 0,1 3.20,0 L314.40,769.40 a1.60,1.60 0 0,1 -3.20,0 Z" fill="rgb(255,70,10)" filter="url(#bl17)"/>
<path d="M310.80,775.00 L314.30,775.00 L316.00,781.00 L314.30,785.00 L310.80,785.00 L311.80,780.00 Z" fill="rgb(255,200,170)" stroke="rgb(255,200,170)" stroke-width="1.20" stroke-linejoin="round" filter="url(#bl17)"/>
<path d="M310.80,775.00 L314.30,775.00 L316.00,781.00 L314.30,785.00 L310.80,785.00 L311.80,780.00 Z" fill="rgb(255,70,10)" filter="url(#bl17)"/>
<path d="M330.80,780.40 a4.00,2.60 0 1,0 8.00,0 a4.00,2.60 0 1,0 -8.00,0 Z" fill="rgb(120,200,255)" stroke="rgb(120,200,255)" stroke-width="1.60" stroke-linejoin="round" filter="url(#bl15)"/>
<path d="M330.80,780.40 a4.00,2.60 0 1,0 8.00,0 a4.00,2.60 0 1,0 -8.00,0 Z" fill="rgb(0,20,230)" filter="url(#bl15)"/>
<path d="M342.90,781.00 a2.60,2.60 0 1,0 5.20,0 a2.60,2.60 0 1,0 -5.20,0 Z" fill="rgb(120,200,255)" stroke="rgb(120,200,255)" stroke-width="1.60" stroke-linejoin="round" filter="url(#bl15)"/>
<path d="M342.90,781.00 a2.60,2.60 0 1,0 5.20,0 a2.60,2.60 0 1,0 -5.20,0 Z" fill="rgb(0,40,235)" filter="url(#bl15)"/>
<path d="M399.80,737.00 a2.20,3.50 0 1,0 4.40,0 a2.20,3.50 0 1,0 -4.40,0 Z" fill="rgb(120,200,255)" stroke="rgb(120,200,255)" stroke-width="1.60" stroke-linejoin="round" filter="url(#bl15)"/>
<path d="M399.80,737.00 a2.20,3.50 0 1,0 4.40,0 a2.20,3.50 0 1,0 -4.40,0 Z" fill="rgb(0,30,230)" filter="url(#bl15)"/>
<path d="M413.00,728.00 a2.50,6.00 0 1,0 5.00,0 a2.50,6.00 0 1,0 -5.00,0 Z" fill="rgb(120,200,255)" stroke="rgb(120,200,255)" stroke-width="1.60" stroke-linejoin="round" filter="url(#bl15)"/>
<path d="M413.00,728.00 a2.50,6.00 0 1,0 5.00,0 a2.50,6.00 0 1,0 -5.00,0 Z" fill="rgb(0,70,255)" filter="url(#bl15)"/>
<path d="M383.60,758.40 a2.00,1.50 0 1,0 4.00,0 a2.00,1.50 0 1,0 -4.00,0 Z" fill="rgb(120,200,255)" stroke="rgb(120,200,255)" stroke-width="1.60" stroke-linejoin="round" filter="url(#bl15)"/>
<path d="M383.60,758.40 a2.00,1.50 0 1,0 4.00,0 a2.00,1.50 0 1,0 -4.00,0 Z" fill="rgb(0,60,250)" filter="url(#bl15)"/>
<path d="M389.00,745.00 a3.00,1.50 0 1,0 6.00,0 a3.00,1.50 0 1,0 -6.00,0 Z" fill="rgb(120,200,255)" stroke="rgb(120,200,255)" stroke-width="1.60" stroke-linejoin="round" filter="url(#bl15)"/>
<path d="M389.00,745.00 a3.00,1.50 0 1,0 6.00,0 a3.00,1.50 0 1,0 -6.00,0 Z" fill="rgb(60,150,255)" filter="url(#bl15)"/>
<path d="M407.00,743.00 a3.00,1.50 0 1,0 6.00,0 a3.00,1.50 0 1,0 -6.00,0 Z" fill="rgb(120,200,255)" stroke="rgb(120,200,255)" stroke-width="1.60" stroke-linejoin="round" filter="url(#bl15)"/>
<path d="M407.00,743.00 a3.00,1.50 0 1,0 6.00,0 a3.00,1.50 0 1,0 -6.00,0 Z" fill="rgb(60,150,255)" filter="url(#bl15)"/>
<path d="M422.00,738.00 a3.00,1.50 0 1,0 6.00,0 a3.00,1.50 0 1,0 -6.00,0 Z" fill="rgb(120,200,255)" stroke="rgb(120,200,255)" stroke-width="1.60" stroke-linejoin="round" filter="url(#bl15)"/>
<path d="M422.00,738.00 a3.00,1.50 0 1,0 6.00,0 a3.00,1.50 0 1,0 -6.00,0 Z" fill="rgb(90,170,255)" filter="url(#bl15)"/>
<path d="M370.40,752.00 a1.60,4.00 0 1,0 3.20,0 a1.60,4.00 0 1,0 -3.20,0 Z" fill="rgb(120,200,255)" stroke="rgb(120,200,255)" stroke-width="1.60" stroke-linejoin="round" filter="url(#bl15)"/>
<path d="M370.40,752.00 a1.60,4.00 0 1,0 3.20,0 a1.60,4.00 0 1,0 -3.20,0 Z" fill="rgb(40,130,255)" filter="url(#bl15)"/>
<path d="M376.50,748.00 a1.50,3.50 0 1,0 3.00,0 a1.50,3.50 0 1,0 -3.00,0 Z" fill="rgb(120,200,255)" stroke="rgb(120,200,255)" stroke-width="1.60" stroke-linejoin="round" filter="url(#bl15)"/>
<path d="M376.50,748.00 a1.50,3.50 0 1,0 3.00,0 a1.50,3.50 0 1,0 -3.00,0 Z" fill="rgb(60,150,255)" filter="url(#bl15)"/>
<path d="M358.50,742.00 a1.50,3.00 0 1,0 3.00,0 a1.50,3.00 0 1,0 -3.00,0 Z" fill="rgb(120,200,255)" stroke="rgb(120,200,255)" stroke-width="1.60" stroke-linejoin="round" filter="url(#bl15)"/>
<path d="M358.50,742.00 a1.50,3.00 0 1,0 3.00,0 a1.50,3.00 0 1,0 -3.00,0 Z" fill="rgb(70,155,255)" filter="url(#bl15)"/>
<path d="M388.00,731.00 a2.00,1.50 0 1,0 4.00,0 a2.00,1.50 0 1,0 -4.00,0 Z" fill="rgb(120,200,255)" stroke="rgb(120,200,255)" stroke-width="1.60" stroke-linejoin="round" filter="url(#bl15)"/>
<path d="M388.00,731.00 a2.00,1.50 0 1,0 4.00,0 a2.00,1.50 0 1,0 -4.00,0 Z" fill="rgb(80,165,255)" filter="url(#bl15)"/>
<path d="M403.40,749.50 Q405.15,753.50 406.90,757.50 L399.90,757.50 Q401.65,753.50 403.40,749.50 Z" fill="rgb(120,200,255)" stroke="rgb(120,200,255)" stroke-width="1.80" stroke-linejoin="round" filter="url(#bl15)"/>
<path d="M403.40,749.50 Q405.15,753.50 406.90,757.50 L399.90,757.50 Q401.65,753.50 403.40,749.50 Z" fill="rgb(0,20,230)" filter="url(#bl15)"/>
<path d="M356.50,760.00 L362.50,759.50 L364.20,763.00 L363.50,768.00 L364.50,773.00 L363.00,777.60 L357.00,778.00 L355.20,772.00 L356.00,766.00 L355.30,762.00 Z" fill="rgb(120,200,255)" stroke="rgb(120,200,255)" stroke-width="2.00" stroke-linejoin="round" filter="url(#bl22)"/>
<path d="M356.50,760.00 L362.50,759.50 L364.20,763.00 L363.50,768.00 L364.50,773.00 L363.00,777.60 L357.00,778.00 L355.20,772.00 L356.00,766.00 L355.30,762.00 Z" fill="rgb(0,25,235)" filter="url(#bl22)"/>
<rect x="364.50" y="640.00" width="2.20" height="117.00" fill="url(#vg233)" filter="url(#bl17)"/>
<path d="M365.60,728.00 C366.11,741.65 367.30,754.45 367.30,755.30 A1.70,1.70 0 0,1 363.90,755.30 C363.90,754.45 365.09,741.65 365.60,728.00 Z" fill="rgb(255,200,160)" stroke="rgb(255,200,160)" stroke-width="1.20" stroke-linejoin="round" filter="url(#bl17)"/>
<path d="M365.60,728.00 C366.11,741.65 367.30,754.45 367.30,755.30 A1.70,1.70 0 0,1 363.90,755.30 C363.90,754.45 365.09,741.65 365.60,728.00 Z" fill="rgb(255,70,20)" filter="url(#bl17)"/>
<path d="M363.80,772.00 a1.80,1.80 0 1,0 3.60,0 a1.80,1.80 0 1,0 -3.60,0 Z" fill="rgb(255,200,160)" stroke="rgb(255,200,160)" stroke-width="1.20" stroke-linejoin="round" filter="url(#bl17)"/>
<path d="M363.80,772.00 a1.80,1.80 0 1,0 3.60,0 a1.80,1.80 0 1,0 -3.60,0 Z" fill="rgb(255,70,20)" filter="url(#bl17)"/>
<path d="M373.90,757.00 a2.40,2.20 0 1,0 4.80,0 a2.40,2.20 0 1,0 -4.80,0 Z" fill="rgb(255,200,160)" stroke="rgb(255,200,160)" stroke-width="1.20" stroke-linejoin="round" filter="url(#bl17)"/>
<path d="M373.90,757.00 a2.40,2.20 0 1,0 4.80,0 a2.40,2.20 0 1,0 -4.80,0 Z" fill="rgb(255,70,20)" filter="url(#bl17)"/>
<path d="M378.40,743.40 a1.60,1.30 0 1,0 3.20,0 a1.60,1.30 0 1,0 -3.20,0 Z" fill="rgb(255,200,160)" stroke="rgb(255,200,160)" stroke-width="1.20" stroke-linejoin="round" filter="url(#bl17)"/>
<path d="M378.40,743.40 a1.60,1.30 0 1,0 3.20,0 a1.60,1.30 0 1,0 -3.20,0 Z" fill="rgb(255,70,20)" filter="url(#bl17)"/>
<path d="M388.40,743.70 a1.60,1.30 0 1,0 3.20,0 a1.60,1.30 0 1,0 -3.20,0 Z" fill="rgb(255,200,160)" stroke="rgb(255,200,160)" stroke-width="1.20" stroke-linejoin="round" filter="url(#bl17)"/>
<path d="M388.40,743.70 a1.60,1.30 0 1,0 3.20,0 a1.60,1.30 0 1,0 -3.20,0 Z" fill="rgb(255,70,20)" filter="url(#bl17)"/>
<path d="M386.30,749.00 a1.20,1.10 0 1,0 2.40,0 a1.20,1.10 0 1,0 -2.40,0 Z" fill="rgb(255,200,160)" stroke="rgb(255,200,160)" stroke-width="1.20" stroke-linejoin="round" filter="url(#bl17)"/>
<path d="M386.30,749.00 a1.20,1.10 0 1,0 2.40,0 a1.20,1.10 0 1,0 -2.40,0 Z" fill="rgb(255,70,20)" filter="url(#bl17)"/>
<path d="M405.20,686.20 a1.30,1.50 0 1,0 2.60,0 a1.30,1.50 0 1,0 -2.60,0 Z" fill="rgb(255,200,160)" stroke="rgb(255,200,160)" stroke-width="1.20" stroke-linejoin="round" filter="url(#bl17)"/>
<path d="M405.20,686.20 a1.30,1.50 0 1,0 2.60,0 a1.30,1.50 0 1,0 -2.60,0 Z" fill="rgb(255,70,20)" filter="url(#bl17)"/>
<path d="M415.90,686.60 a1.10,1.20 0 1,0 2.20,0 a1.10,1.20 0 1,0 -2.20,0 Z" fill="rgb(255,200,160)" stroke="rgb(255,200,160)" stroke-width="1.20" stroke-linejoin="round" filter="url(#bl17)"/>
<path d="M415.90,686.60 a1.10,1.20 0 1,0 2.20,0 a1.10,1.20 0 1,0 -2.20,0 Z" fill="rgb(255,70,20)" filter="url(#bl17)"/>
<path d="M352.80,764.50 C353.43,768.45 354.90,771.35 354.90,772.40 A2.10,2.10 0 0,1 350.70,772.40 C350.70,771.35 352.17,768.45 352.80,764.50 Z" fill="rgb(255,200,160)" stroke="rgb(255,200,160)" stroke-width="1.40" stroke-linejoin="round" filter="url(#bl17)"/>
<path d="M352.80,764.50 C353.43,768.45 354.90,771.35 354.90,772.40 A2.10,2.10 0 0,1 350.70,772.40 C350.70,771.35 352.17,768.45 352.80,764.50 Z" fill="rgb(255,70,20)" filter="url(#bl17)"/>
</g>
<g clip-path="url(#cp234)">
<rect x="497.50" y="482.60" width="199.00" height="305.90" fill="rgb(255,255,247)" />
<rect x="513.00" y="482.60" width="40.00" height="305.90" fill="url(#hg235)" />
<rect x="552.00" y="482.60" width="48.00" height="305.90" fill="rgb(244,251,252)" opacity="1.0" filter="url(#bl188)"/>
<rect x="597.50" y="483.00" width="3.00" height="217.00" fill="url(#vg236)" filter="url(#bl47)"/>
<rect x="550.90" y="483.00" width="3.00" height="277.00" fill="url(#vg237)" filter="url(#bl47)"/>
<rect x="556.75" y="520.00" width="2.50" height="220.00" fill="url(#vg238)" filter="url(#bl47)"/>
<rect x="569.75" y="560.00" width="2.50" height="210.00" fill="url(#vg239)" filter="url(#bl47)"/>
<rect x="576.75" y="560.00" width="2.50" height="210.00" fill="url(#vg240)" filter="url(#bl47)"/>
<rect x="584.35" y="540.00" width="2.50" height="160.00" fill="url(#vg241)" filter="url(#bl47)"/>
<rect x="590.75" y="600.00" width="2.50" height="100.00" fill="url(#vg242)" filter="url(#bl47)"/>
<rect x="604.75" y="620.00" width="2.50" height="80.00" fill="url(#vg243)" filter="url(#bl47)"/>
<rect x="611.00" y="560.00" width="3.00" height="180.00" fill="url(#vg244)" filter="url(#bl47)"/>
<rect x="618.75" y="600.00" width="2.50" height="100.00" fill="url(#vg245)" filter="url(#bl47)"/>
<rect x="628.50" y="580.00" width="3.00" height="120.00" fill="url(#vg246)" filter="url(#bl47)"/>
<rect x="643.75" y="630.00" width="2.50" height="70.00" fill="url(#vg247)" filter="url(#bl47)"/>
<rect x="659.30" y="560.00" width="3.00" height="140.00" fill="url(#vg248)" filter="url(#bl47)"/>
<rect x="673.75" y="640.00" width="2.50" height="60.00" fill="url(#vg249)" filter="url(#bl47)"/>
<rect x="685.75" y="650.00" width="2.50" height="50.00" fill="url(#vg250)" filter="url(#bl47)"/>
<rect x="597.30" y="490.00" width="3.00" height="204.00" fill="url(#vg251)" filter="url(#bl22)"/>
<rect x="575.20" y="560.00" width="2.40" height="134.00" fill="url(#vg252)" filter="url(#bl22)"/>
<rect x="554.80" y="490.00" width="2.40" height="204.00" fill="url(#vg253)" filter="url(#bl22)"/>
<rect x="560.50" y="520.00" width="2.20" height="174.00" fill="url(#vg254)" filter="url(#bl22)"/>
<rect x="597.00" y="600.00" width="2.60" height="94.00" fill="url(#vg255)" filter="url(#bl15)"/>
<rect x="660.20" y="620.00" width="2.60" height="74.00" fill="url(#vg256)" filter="url(#bl15)"/>
<rect x="628.90" y="630.00" width="2.20" height="64.00" fill="url(#vg257)" filter="url(#bl15)"/>
<rect x="611.50" y="620.00" width="2.00" height="74.00" fill="url(#vg258)" filter="url(#bl15)"/>
<ellipse cx="598.80" cy="690.00" rx="1.80" ry="4.00" fill="rgb(60,140,255)" opacity="1" filter="url(#bl15)"/>
<ellipse cx="630.00" cy="690.00" rx="1.60" ry="3.50" fill="rgb(70,150,255)" opacity="1" filter="url(#bl15)"/>
<ellipse cx="660.80" cy="690.00" rx="2.20" ry="4.00" fill="rgb(60,140,255)" opacity="1" filter="url(#bl15)"/>
<ellipse cx="612.50" cy="688.00" rx="1.50" ry="3.00" fill="rgb(120,190,255)" opacity="1" filter="url(#bl15)"/>
<ellipse cx="585.60" cy="676.00" rx="1.30" ry="4.00" fill="rgb(110,185,255)" opacity="1" filter="url(#bl15)"/>
<ellipse cx="567.80" cy="641.00" rx="1.60" ry="2.40" fill="rgb(0,70,245)" opacity="1" filter="url(#bl15)"/>
<ellipse cx="666.00" cy="688.00" rx="2.00" ry="1.50" fill="rgb(130,200,255)" opacity="1" filter="url(#bl15)"/>
<rect x="547.50" y="693.00" width="149.00" height="3.00" fill="rgb(205,242,255)" opacity="0.9" filter="url(#bl47)"/>
<path d="M513.50,696.00 L670.00,696.00 L655.00,705.00 L640.00,714.00 L628.00,725.00 L620.00,737.00 L612.00,752.00 L598.00,762.00 L585.00,772.00 L575.00,787.00 L513.50,789.50 Z" fill="rgb(205,243,255)" opacity="0.85" filter="url(#bl212)"/>
<rect x="547.50" y="703.00" width="120.00" height="2.00" fill="rgb(252,253,245)" opacity="0.6" filter="url(#bl47)"/>
<rect x="547.50" y="727.00" width="120.00" height="2.00" fill="rgb(252,253,245)" opacity="0.6" filter="url(#bl47)"/>
<rect x="547.50" y="740.00" width="120.00" height="2.00" fill="rgb(252,253,245)" opacity="0.6" filter="url(#bl47)"/>
<rect x="547.50" y="752.00" width="120.00" height="2.00" fill="rgb(252,253,245)" opacity="0.6" filter="url(#bl47)"/>
<rect x="547.50" y="765.00" width="120.00" height="2.00" fill="rgb(252,253,245)" opacity="0.6" filter="url(#bl47)"/>
<rect x="547.50" y="776.00" width="120.00" height="2.00" fill="rgb(252,253,245)" opacity="0.6" filter="url(#bl47)"/>
<rect x="550.90" y="696.00" width="3.00" height="69.00" fill="url(#vg259)" filter="url(#bl47)"/>
<rect x="556.75" y="700.00" width="2.50" height="60.00" fill="url(#vg260)" filter="url(#bl47)"/>
<rect x="569.75" y="700.00" width="2.50" height="65.00" fill="url(#vg261)" filter="url(#bl47)"/>
<rect x="576.75" y="700.00" width="2.50" height="60.00" fill="url(#vg262)" filter="url(#bl47)"/>
<rect x="584.10" y="700.00" width="3.00" height="58.00" fill="url(#vg263)" filter="url(#bl47)"/>
<rect x="590.75" y="705.00" width="2.50" height="45.00" fill="url(#vg264)" filter="url(#bl47)"/>
<rect x="597.30" y="696.00" width="3.00" height="44.00" fill="url(#vg265)" filter="url(#bl47)"/>
<rect x="611.00" y="696.00" width="3.00" height="39.00" fill="url(#vg266)" filter="url(#bl47)"/>
<rect x="618.75" y="700.00" width="2.50" height="30.00" fill="url(#vg267)" filter="url(#bl47)"/>
<rect x="628.75" y="696.00" width="2.50" height="24.00" fill="url(#vg268)" filter="url(#bl47)"/>
<rect x="638.75" y="696.00" width="2.50" height="18.00" fill="url(#vg269)" filter="url(#bl47)"/>
<rect x="550.00" y="729.90" width="80.00" height="2.20" fill="rgb(120,195,255)" opacity="0.8" filter="url(#bl47)"/>
<rect x="550.00" y="743.00" width="70.00" height="2.00" fill="rgb(110,190,255)" opacity="0.8" filter="url(#bl47)"/>
<rect x="560.00" y="756.00" width="50.00" height="2.00" fill="rgb(90,175,255)" opacity="0.8" filter="url(#bl47)"/>
<rect x="560.00" y="767.10" width="35.00" height="1.80" fill="rgb(120,195,255)" opacity="0.7" filter="url(#bl47)"/>
<rect x="570.00" y="779.00" width="35.00" height="2.00" fill="rgb(80,160,255)" opacity="0.8" filter="url(#bl47)"/>
<rect x="540.00" y="785.25" width="50.00" height="1.50" fill="rgb(130,200,255)" opacity="0.7" filter="url(#bl47)"/>
<rect x="545.00" y="721.20" width="75.00" height="1.60" fill="rgb(150,210,255)" opacity="0.7" filter="url(#bl47)"/>
<rect x="580.00" y="710.20" width="60.00" height="1.60" fill="rgb(150,210,255)" opacity="0.6" filter="url(#bl47)"/>
<rect x="502.60" y="482.60" width="4.40" height="258.40" fill="url(#hg270)" />
<rect x="510.60" y="482.60" width="4.40" height="258.40" fill="url(#hg271)" />
<rect x="519.80" y="482.60" width="2.60" height="305.90" fill="url(#hg272)" />
<rect x="522.50" y="482.60" width="3.20" height="305.90" fill="url(#hg273)" />
<g mask="url(#mk274)"><rect x="522.40" y="482.60" width="3.40" height="305.90" fill="url(#hg276)" /></g>
<rect x="531.25" y="482.60" width="8.50" height="305.90" fill="url(#hg277)" />
<rect x="542.20" y="482.60" width="5.20" height="305.90" fill="url(#hg278)" />
<path d="M533.60,699.00 a2.00,2.00 0 0,1 4.00,0 L537.60,720.00 a2.00,2.00 0 0,1 -4.00,0 Z" fill="rgb(0,70,245)" filter="url(#bl15)"/>
<path d="M543.50,698.40 a1.40,1.40 0 0,1 2.80,0 L546.30,720.60 a1.40,1.40 0 0,1 -2.80,0 Z" fill="rgb(0,95,250)" filter="url(#bl15)"/>
<path d="M533.60,726.00 a2.00,2.00 0 0,1 4.00,0 L537.60,729.00 a2.00,2.00 0 0,1 -4.00,0 Z" fill="rgb(0,70,245)" filter="url(#bl15)"/>
<path d="M543.50,725.40 a1.40,1.40 0 0,1 2.80,0 L546.30,729.60 a1.40,1.40 0 0,1 -2.80,0 Z" fill="rgb(0,95,250)" filter="url(#bl15)"/>
<path d="M533.60,737.00 a2.00,2.00 0 0,1 4.00,0 L537.60,743.00 a2.00,2.00 0 0,1 -4.00,0 Z" fill="rgb(0,70,245)" filter="url(#bl15)"/>
<path d="M543.50,736.40 a1.40,1.40 0 0,1 2.80,0 L546.30,743.60 a1.40,1.40 0 0,1 -2.80,0 Z" fill="rgb(0,95,250)" filter="url(#bl15)"/>
<path d="M533.60,750.00 a2.00,2.00 0 0,1 4.00,0 L537.60,754.00 a2.00,2.00 0 0,1 -4.00,0 Z" fill="rgb(0,70,245)" filter="url(#bl15)"/>
<path d="M543.50,749.40 a1.40,1.40 0 0,1 2.80,0 L546.30,754.60 a1.40,1.40 0 0,1 -2.80,0 Z" fill="rgb(0,95,250)" filter="url(#bl15)"/>
<path d="M503.20,742.60 a1.60,1.60 0 0,1 3.20,0 L506.40,745.40 a1.60,1.60 0 0,1 -3.20,0 Z" fill="rgb(255,200,170)" stroke="rgb(255,200,170)" stroke-width="1.20" stroke-linejoin="round" filter="url(#bl17)"/>
<path d="M503.20,742.60 a1.60,1.60 0 0,1 3.20,0 L506.40,745.40 a1.60,1.60 0 0,1 -3.20,0 Z" fill="rgb(255,25,0)" filter="url(#bl17)"/>
<path d="M503.20,750.10 a1.60,1.60 0 0,1 3.20,0 L506.40,754.40 a1.60,1.60 0 0,1 -3.20,0 Z" fill="rgb(255,200,170)" stroke="rgb(255,200,170)" stroke-width="1.20" stroke-linejoin="round" filter="url(#bl17)"/>
<path d="M503.20,750.10 a1.60,1.60 0 0,1 3.20,0 L506.40,754.40 a1.60,1.60 0 0,1 -3.20,0 Z" fill="rgb(255,25,0)" filter="url(#bl17)"/>
<path d="M503.20,761.60 a1.60,1.60 0 0,1 3.20,0 L506.40,769.40 a1.60,1.60 0 0,1 -3.20,0 Z" fill="rgb(255,200,170)" stroke="rgb(255,200,170)" stroke-width="1.20" stroke-linejoin="round" filter="url(#bl17)"/>
<path d="M503.20,761.60 a1.60,1.60 0 0,1 3.20,0 L506.40,769.40 a1.60,1.60 0 0,1 -3.20,0 Z" fill="rgb(255,25,0)" filter="url(#bl17)"/>
<path d="M502.80,775.00 L506.30,775.00 L508.00,781.00 L506.30,785.00 L502.80,785.00 L503.80,780.00 Z" fill="rgb(255,200,170)" stroke="rgb(255,200,170)" stroke-width="1.20" stroke-linejoin="round" filter="url(#bl17)"/>
<path d="M502.80,775.00 L506.30,775.00 L508.00,781.00 L506.30,785.00 L502.80,785.00 L503.80,780.00 Z" fill="rgb(255,25,0)" filter="url(#bl17)"/>
<path d="M511.20,742.60 a1.60,1.60 0 0,1 3.20,0 L514.40,745.40 a1.60,1.60 0 0,1 -3.20,0 Z" fill="rgb(255,200,170)" stroke="rgb(255,200,170)" stroke-width="1.20" stroke-linejoin="round" filter="url(#bl17)"/>
<path d="M511.20,742.60 a1.60,1.60 0 0,1 3.20,0 L514.40,745.40 a1.60,1.60 0 0,1 -3.20,0 Z" fill="rgb(255,70,10)" filter="url(#bl17)"/>
<path d="M511.20,750.10 a1.60,1.60 0 0,1 3.20,0 L514.40,754.40 a1.60,1.60 0 0,1 -3.20,0 Z" fill="rgb(255,200,170)" stroke="rgb(255,200,170)" stroke-width="1.20" stroke-linejoin="round" filter="url(#bl17)"/>
<path d="M511.20,750.10 a1.60,1.60 0 0,1 3.20,0 L514.40,754.40 a1.60,1.60 0 0,1 -3.20,0 Z" fill="rgb(255,70,10)" filter="url(#bl17)"/>
<path d="M511.20,761.60 a1.60,1.60 0 0,1 3.20,0 L514.40,769.40 a1.60,1.60 0 0,1 -3.20,0 Z" fill="rgb(255,200,170)" stroke="rgb(255,200,170)" stroke-width="1.20" stroke-linejoin="round" filter="url(#bl17)"/>
<path d="M511.20,761.60 a1.60,1.60 0 0,1 3.20,0 L514.40,769.40 a1.60,1.60 0 0,1 -3.20,0 Z" fill="rgb(255,70,10)" filter="url(#bl17)"/>
<path d="M510.80,775.00 L514.30,775.00 L516.00,781.00 L514.30,785.00 L510.80,785.00 L511.80,780.00 Z" fill="rgb(255,200,170)" stroke="rgb(255,200,170)" stroke-width="1.20" stroke-linejoin="round" filter="url(#bl17)"/>
<path d="M510.80,775.00 L514.30,775.00 L516.00,781.00 L514.30,785.00 L510.80,785.00 L511.80,780.00 Z" fill="rgb(255,70,10)" filter="url(#bl17)"/>
<path d="M530.80,780.40 a4.00,2.60 0 1,0 8.00,0 a4.00,2.60 0 1,0 -8.00,0 Z" fill="rgb(120,200,255)" stroke="rgb(120,200,255)" stroke-width="1.60" stroke-linejoin="round" filter="url(#bl15)"/>
<path d="M530.80,780.40 a4.00,2.60 0 1,0 8.00,0 a4.00,2.60 0 1,0 -8.00,0 Z" fill="rgb(0,20,230)" filter="url(#bl15)"/>
<path d="M542.90,781.00 a2.60,2.60 0 1,0 5.20,0 a2.60,2.60 0 1,0 -5.20,0 Z" fill="rgb(120,200,255)" stroke="rgb(120,200,255)" stroke-width="1.60" stroke-linejoin="round" filter="url(#bl15)"/>
<path d="M542.90,781.00 a2.60,2.60 0 1,0 5.20,0 a2.60,2.60 0 1,0 -5.20,0 Z" fill="rgb(0,40,235)" filter="url(#bl15)"/>
<path d="M599.80,737.00 a2.20,3.50 0 1,0 4.40,0 a2.20,3.50 0 1,0 -4.40,0 Z" fill="rgb(120,200,255)" stroke="rgb(120,200,255)" stroke-width="1.60" stroke-linejoin="round" filter="url(#bl15)"/>
<path d="M599.80,737.00 a2.20,3.50 0 1,0 4.40,0 a2.20,3.50 0 1,0 -4.40,0 Z" fill="rgb(0,30,230)" filter="url(#bl15)"/>
<path d="M613.00,728.00 a2.50,6.00 0 1,0 5.00,0 a2.50,6.00 0 1,0 -5.00,0 Z" fill="rgb(120,200,255)" stroke="rgb(120,200,255)" stroke-width="1.60" stroke-linejoin="round" filter="url(#bl15)"/>
<path d="M613.00,728.00 a2.50,6.00 0 1,0 5.00,0 a2.50,6.00 0 1,0 -5.00,0 Z" fill="rgb(0,70,255)" filter="url(#bl15)"/>
<path d="M583.60,758.40 a2.00,1.50 0 1,0 4.00,0 a2.00,1.50 0 1,0 -4.00,0 Z" fill="rgb(120,200,255)" stroke="rgb(120,200,255)" stroke-width="1.60" stroke-linejoin="round" filter="url(#bl15)"/>
<path d="M583.60,758.40 a2.00,1.50 0 1,0 4.00,0 a2.00,1.50 0 1,0 -4.00,0 Z" fill="rgb(0,60,250)" filter="url(#bl15)"/>
<path d="M589.00,745.00 a3.00,1.50 0 1,0 6.00,0 a3.00,1.50 0 1,0 -6.00,0 Z" fill="rgb(120,200,255)" stroke="rgb(120,200,255)" stroke-width="1.60" stroke-linejoin="round" filter="url(#bl15)"/>
<path d="M589.00,745.00 a3.00,1.50 0 1,0 6.00,0 a3.00,1.50 0 1,0 -6.00,0 Z" fill="rgb(60,150,255)" filter="url(#bl15)"/>
<path d="M607.00,743.00 a3.00,1.50 0 1,0 6.00,0 a3.00,1.50 0 1,0 -6.00,0 Z" fill="rgb(120,200,255)" stroke="rgb(120,200,255)" stroke-width="1.60" stroke-linejoin="round" filter="url(#bl15)"/>
<path d="M607.00,743.00 a3.00,1.50 0 1,0 6.00,0 a3.00,1.50 0 1,0 -6.00,0 Z" fill="rgb(60,150,255)" filter="url(#bl15)"/>
<path d="M622.00,738.00 a3.00,1.50 0 1,0 6.00,0 a3.00,1.50 0 1,0 -6.00,0 Z" fill="rgb(120,200,255)" stroke="rgb(120,200,255)" stroke-width="1.60" stroke-linejoin="round" filter="url(#bl15)"/>
<path d="M622.00,738.00 a3.00,1.50 0 1,0 6.00,0 a3.00,1.50 0 1,0 -6.00,0 Z" fill="rgb(90,170,255)" filter="url(#bl15)"/>
<path d="M570.40,752.00 a1.60,4.00 0 1,0 3.20,0 a1.60,4.00 0 1,0 -3.20,0 Z" fill="rgb(120,200,255)" stroke="rgb(120,200,255)" stroke-width="1.60" stroke-linejoin="round" filter="url(#bl15)"/>
<path d="M570.40,752.00 a1.60,4.00 0 1,0 3.20,0 a1.60,4.00 0 1,0 -3.20,0 Z" fill="rgb(40,130,255)" filter="url(#bl15)"/>
<path d="M576.50,748.00 a1.50,3.50 0 1,0 3.00,0 a1.50,3.50 0 1,0 -3.00,0 Z" fill="rgb(120,200,255)" stroke="rgb(120,200,255)" stroke-width="1.60" stroke-linejoin="round" filter="url(#bl15)"/>
<path d="M576.50,748.00 a1.50,3.50 0 1,0 3.00,0 a1.50,3.50 0 1,0 -3.00,0 Z" fill="rgb(60,150,255)" filter="url(#bl15)"/>
<path d="M558.50,742.00 a1.50,3.00 0 1,0 3.00,0 a1.50,3.00 0 1,0 -3.00,0 Z" fill="rgb(120,200,255)" stroke="rgb(120,200,255)" stroke-width="1.60" stroke-linejoin="round" filter="url(#bl15)"/>
<path d="M558.50,742.00 a1.50,3.00 0 1,0 3.00,0 a1.50,3.00 0 1,0 -3.00,0 Z" fill="rgb(70,155,255)" filter="url(#bl15)"/>
<path d="M588.00,731.00 a2.00,1.50 0 1,0 4.00,0 a2.00,1.50 0 1,0 -4.00,0 Z" fill="rgb(120,200,255)" stroke="rgb(120,200,255)" stroke-width="1.60" stroke-linejoin="round" filter="url(#bl15)"/>
<path d="M588.00,731.00 a2.00,1.50 0 1,0 4.00,0 a2.00,1.50 0 1,0 -4.00,0 Z" fill="rgb(80,165,255)" filter="url(#bl15)"/>
<path d="M603.40,749.50 Q605.15,753.50 606.90,757.50 L599.90,757.50 Q601.65,753.50 603.40,749.50 Z" fill="rgb(120,200,255)" stroke="rgb(120,200,255)" stroke-width="1.80" stroke-linejoin="round" filter="url(#bl15)"/>
<path d="M603.40,749.50 Q605.15,753.50 606.90,757.50 L599.90,757.50 Q601.65,753.50 603.40,749.50 Z" fill="rgb(0,20,230)" filter="url(#bl15)"/>
<path d="M556.50,760.00 L562.50,759.50 L564.20,763.00 L563.50,768.00 L564.50,773.00 L563.00,777.60 L557.00,778.00 L555.20,772.00 L556.00,766.00 L555.30,762.00 Z" fill="rgb(120,200,255)" stroke="rgb(120,200,255)" stroke-width="2.00" stroke-linejoin="round" filter="url(#bl22)"/>
<path d="M556.50,760.00 L562.50,759.50 L564.20,763.00 L563.50,768.00 L564.50,773.00 L563.00,777.60 L557.00,778.00 L555.20,772.00 L556.00,766.00 L555.30,762.00 Z" fill="rgb(0,25,235)" filter="url(#bl22)"/>
<rect x="564.50" y="640.00" width="2.20" height="117.00" fill="url(#vg279)" filter="url(#bl17)"/>
<path d="M565.60,728.00 C566.11,741.65 567.30,754.45 567.30,755.30 A1.70,1.70 0 0,1 563.90,755.30 C563.90,754.45 565.09,741.65 565.60,728.00 Z" fill="rgb(255,200,160)" stroke="rgb(255,200,160)" stroke-width="1.20" stroke-linejoin="round" filter="url(#bl17)"/>
<path d="M565.60,728.00 C566.11,741.65 567.30,754.45 567.30,755.30 A1.70,1.70 0 0,1 563.90,755.30 C563.90,754.45 565.09,741.65 565.60,728.00 Z" fill="rgb(255,70,20)" filter="url(#bl17)"/>
<path d="M563.80,772.00 a1.80,1.80 0 1,0 3.60,0 a1.80,1.80 0 1,0 -3.60,0 Z" fill="rgb(255,200,160)" stroke="rgb(255,200,160)" stroke-width="1.20" stroke-linejoin="round" filter="url(#bl17)"/>
<path d="M563.80,772.00 a1.80,1.80 0 1,0 3.60,0 a1.80,1.80 0 1,0 -3.60,0 Z" fill="rgb(255,70,20)" filter="url(#bl17)"/>
<path d="M573.90,757.00 a2.40,2.20 0 1,0 4.80,0 a2.40,2.20 0 1,0 -4.80,0 Z" fill="rgb(255,200,160)" stroke="rgb(255,200,160)" stroke-width="1.20" stroke-linejoin="round" filter="url(#bl17)"/>
<path d="M573.90,757.00 a2.40,2.20 0 1,0 4.80,0 a2.40,2.20 0 1,0 -4.80,0 Z" fill="rgb(255,70,20)" filter="url(#bl17)"/>
<path d="M578.40,743.40 a1.60,1.30 0 1,0 3.20,0 a1.60,1.30 0 1,0 -3.20,0 Z" fill="rgb(255,200,160)" stroke="rgb(255,200,160)" stroke-width="1.20" stroke-linejoin="round" filter="url(#bl17)"/>
<path d="M578.40,743.40 a1.60,1.30 0 1,0 3.20,0 a1.60,1.30 0 1,0 -3.20,0 Z" fill="rgb(255,70,20)" filter="url(#bl17)"/>
<path d="M588.40,743.70 a1.60,1.30 0 1,0 3.20,0 a1.60,1.30 0 1,0 -3.20,0 Z" fill="rgb(255,200,160)" stroke="rgb(255,200,160)" stroke-width="1.20" stroke-linejoin="round" filter="url(#bl17)"/>
<path d="M588.40,743.70 a1.60,1.30 0 1,0 3.20,0 a1.60,1.30 0 1,0 -3.20,0 Z" fill="rgb(255,70,20)" filter="url(#bl17)"/>
<path d="M586.30,749.00 a1.20,1.10 0 1,0 2.40,0 a1.20,1.10 0 1,0 -2.40,0 Z" fill="rgb(255,200,160)" stroke="rgb(255,200,160)" stroke-width="1.20" stroke-linejoin="round" filter="url(#bl17)"/>
<path d="M586.30,749.00 a1.20,1.10 0 1,0 2.40,0 a1.20,1.10 0 1,0 -2.40,0 Z" fill="rgb(255,70,20)" filter="url(#bl17)"/>
<path d="M605.20,686.20 a1.30,1.50 0 1,0 2.60,0 a1.30,1.50 0 1,0 -2.60,0 Z" fill="rgb(255,200,160)" stroke="rgb(255,200,160)" stroke-width="1.20" stroke-linejoin="round" filter="url(#bl17)"/>
<path d="M605.20,686.20 a1.30,1.50 0 1,0 2.60,0 a1.30,1.50 0 1,0 -2.60,0 Z" fill="rgb(255,70,20)" filter="url(#bl17)"/>
<path d="M615.90,686.60 a1.10,1.20 0 1,0 2.20,0 a1.10,1.20 0 1,0 -2.20,0 Z" fill="rgb(255,200,160)" stroke="rgb(255,200,160)" stroke-width="1.20" stroke-linejoin="round" filter="url(#bl17)"/>
<path d="M615.90,686.60 a1.10,1.20 0 1,0 2.20,0 a1.10,1.20 0 1,0 -2.20,0 Z" fill="rgb(255,70,20)" filter="url(#bl17)"/>
<path d="M552.80,764.50 C553.43,768.45 554.90,771.35 554.90,772.40 A2.10,2.10 0 0,1 550.70,772.40 C550.70,771.35 552.17,768.45 552.80,764.50 Z" fill="rgb(255,200,160)" stroke="rgb(255,200,160)" stroke-width="1.40" stroke-linejoin="round" filter="url(#bl17)"/>
<path d="M552.80,764.50 C553.43,768.45 554.90,771.35 554.90,772.40 A2.10,2.10 0 0,1 550.70,772.40 C550.70,771.35 552.17,768.45 552.80,764.50 Z" fill="rgb(255,70,20)" filter="url(#bl17)"/>
</g>
<rect x="97.20" y="48.20" width="599.00" height="0.60" fill="rgb(150,140,150)" />
<rect x="97.10" y="48.70" width="0.90" height="305.90" fill="rgb(120,120,150)" />
<rect x="296.20" y="48.70" width="1.80" height="305.90" fill="rgb(140,140,155)" />
<rect x="496.20" y="48.70" width="1.80" height="305.90" fill="rgb(140,140,155)" />
<rect x="96.90" y="481.70" width="599.60" height="1.20" fill="rgb(125,125,130)" />
<rect x="97.10" y="482.60" width="0.90" height="305.90" fill="rgb(120,120,150)" />
<rect x="296.20" y="482.60" width="1.80" height="305.90" fill="rgb(140,140,155)" />
<rect x="496.20" y="482.60" width="1.80" height="305.90" fill="rgb(140,140,155)" />
<rect x="696.10" y="482.60" width="1.00" height="305.90" fill="rgb(205,205,200)" />
<text x="7.3" y="24.6" font-family="Liberation Serif" font-size="26" font-weight="bold" fill="#111" text-anchor="start" >(a)</text>
<text x="167.4" y="37.8" font-family="Liberation Serif" font-size="22.6" font-weight="normal" fill="#111" text-anchor="start" >Fresh</text>
<text x="366.9" y="37.8" font-family="Liberation Serif" font-size="22.6" font-weight="normal" fill="#111" text-anchor="start" >Sub-fresh</text>
<text x="562.6" y="37.8" font-family="Liberation Serif" font-size="22.6" font-weight="normal" fill="#111" text-anchor="start" >Spoiled</text>
<text x="0" y="0" font-family="Liberation Serif" font-size="16.2" font-weight="normal" fill="#111" text-anchor="middle" transform="translate(89.7,60.4) rotate(-90)" >600</text>
<text x="0" y="0" font-family="Liberation Serif" font-size="16.2" font-weight="normal" fill="#111" text-anchor="middle" transform="translate(89.7,110.7) rotate(-90)" >500</text>
<text x="0" y="0" font-family="Liberation Serif" font-size="16.2" font-weight="normal" fill="#111" text-anchor="middle" transform="translate(89.7,171.9) rotate(-90)" >400</text>
<text x="0" y="0" font-family="Liberation Serif" font-size="16.2" font-weight="normal" fill="#111" text-anchor="middle" transform="translate(89.7,228.4) rotate(-90)" >300</text>
<text x="0" y="0" font-family="Liberation Serif" font-size="16.2" font-weight="normal" fill="#111" text-anchor="middle" transform="translate(89.7,285.0) rotate(-90)" >200</text>
<text x="0" y="0" font-family="Liberation Serif" font-size="16.2" font-weight="normal" fill="#111" text-anchor="middle" transform="translate(89.7,345.0) rotate(-90)" >100</text>
<text x="138.7" y="374.8" font-family="Liberation Serif" font-size="16.2" font-weight="normal" fill="#111" text-anchor="middle" >1.0</text>
<text x="234.5" y="374.8" font-family="Liberation Serif" font-size="16.2" font-weight="normal" fill="#111" text-anchor="middle" >1.5</text>
<text x="338.7" y="374.8" font-family="Liberation Serif" font-size="16.2" font-weight="normal" fill="#111" text-anchor="middle" >1.0</text>
<text x="434.5" y="374.8" font-family="Liberation Serif" font-size="16.2" font-weight="normal" fill="#111" text-anchor="middle" >1.5</text>
<text x="538.7" y="374.8" font-family="Liberation Serif" font-size="16.2" font-weight="normal" fill="#111" text-anchor="middle" >1.0</text>
<text x="634.5" y="374.8" font-family="Liberation Serif" font-size="16.2" font-weight="normal" fill="#111" text-anchor="middle" >1.5</text>
<text x="313.6" y="405.9" font-family="Liberation Serif" font-size="22.2" font-weight="normal" fill="#111" text-anchor="start" >Relative drift time</text>
<text x="5.3" y="460.7" font-family="Liberation Serif" font-size="26" font-weight="bold" fill="#111" text-anchor="start" >(b)</text>
<text x="167.4" y="474.40000000000003" font-family="Liberation Serif" font-size="22.6" font-weight="normal" fill="#111" text-anchor="start" >Fresh</text>
<text x="366.9" y="474.40000000000003" font-family="Liberation Serif" font-size="22.6" font-weight="normal" fill="#111" text-anchor="start" >Sub-fresh</text>
<text x="562.6" y="474.40000000000003" font-family="Liberation Serif" font-size="22.6" font-weight="normal" fill="#111" text-anchor="start" >Spoiled</text>
<text x="0" y="0" font-family="Liberation Serif" font-size="16.2" font-weight="normal" fill="#111" text-anchor="middle" transform="translate(89.7,495.4) rotate(-90)" >600</text>
<text x="0" y="0" font-family="Liberation Serif" font-size="16.2" font-weight="normal" fill="#111" text-anchor="middle" transform="translate(89.7,545.7) rotate(-90)" >500</text>
<text x="0" y="0" font-family="Liberation Serif" font-size="16.2" font-weight="normal" fill="#111" text-anchor="middle" transform="translate(89.7,606.9) rotate(-90)" >400</text>
<text x="0" y="0" font-family="Liberation Serif" font-size="16.2" font-weight="normal" fill="#111" text-anchor="middle" transform="translate(89.7,663.4) rotate(-90)" >300</text>
<text x="0" y="0" font-family="Liberation Serif" font-size="16.2" font-weight="normal" fill="#111" text-anchor="middle" transform="translate(89.7,720.0) rotate(-90)" >200</text>
<text x="0" y="0" font-family="Liberation Serif" font-size="16.2" font-weight="normal" fill="#111" text-anchor="middle" transform="translate(89.7,780.0) rotate(-90)" >100</text>
<text x="138.7" y="809.1" font-family="Liberation Serif" font-size="16.2" font-weight="normal" fill="#111" text-anchor="middle" >1.0</text>
<text x="234.5" y="809.1" font-family="Liberation Serif" font-size="16.2" font-weight="normal" fill="#111" text-anchor="middle" >1.5</text>
<text x="338.7" y="809.1" font-family="Liberation Serif" font-size="16.2" font-weight="normal" fill="#111" text-anchor="middle" >1.0</text>
<text x="434.5" y="809.1" font-family="Liberation Serif" font-size="16.2" font-weight="normal" fill="#111" text-anchor="middle" >1.5</text>
<text x="538.7" y="809.1" font-family="Liberation Serif" font-size="16.2" font-weight="normal" fill="#111" text-anchor="middle" >1.0</text>
<text x="634.5" y="809.1" font-family="Liberation Serif" font-size="16.2" font-weight="normal" fill="#111" text-anchor="middle" >1.5</text>
<text x="313.6" y="848.5" font-family="Liberation Serif" font-size="22.2" font-weight="normal" fill="#111" text-anchor="start" >Relative drift time</text>
<text x="0" y="0" font-family="Liberation Serif" font-size="22.2" font-weight="normal" fill="#111" text-anchor="start" transform="translate(58.8,259.3) rotate(-90)" >Retention time (s)</text>
<text x="0" y="0" font-family="Liberation Serif" font-size="22.2" font-weight="normal" fill="#111" text-anchor="start" transform="translate(44.9,689.3) rotate(-90)" >Retention time (s)</text>
<rect x="46.30" y="21.30" width="82.30" height="6.20" fill="url(#hg280)" />
<rect x="49.70" y="455.00" width="72.10" height="5.90" fill="url(#hg280)" />
<text x="38.6" y="39.0" font-family="Liberation Sans" font-size="9.9" font-weight="normal" fill="#606060" text-anchor="start" >0.009[M]</text>
<text x="110.9" y="39.0" font-family="Liberation Sans" font-size="10.6" font-weight="normal" fill="#606060" text-anchor="start" >1.198M</text>
<text x="42.8" y="471.0" font-family="Liberation Sans" font-size="8.7" font-weight="normal" fill="#606060" text-anchor="start" >0.848[M]</text>
<text x="106.6" y="471.0" font-family="Liberation Sans" font-size="9.5" font-weight="normal" fill="#606060" text-anchor="start" >2.973M</text>
<text x="98.3" y="46.6" font-family="Liberation Sans" font-size="7.2" font-weight="bold" fill="#111" text-anchor="start" >[+] 1</text>
<text x="298.3" y="46.6" font-family="Liberation Sans" font-size="7.2" font-weight="bold" fill="#111" text-anchor="start" >[+] 2</text>
<text x="498.3" y="46.6" font-family="Liberation Sans" font-size="7.2" font-weight="bold" fill="#111" text-anchor="start" >[+] 3</text>
<text x="98.1" y="481.6" font-family="Liberation Sans" font-size="5.2" font-weight="normal" fill="#555" text-anchor="start" >[+] 1</text>
<text x="298.1" y="481.6" font-family="Liberation Sans" font-size="5.2" font-weight="normal" fill="#555" text-anchor="start" >[+] 2</text>
<text x="498.1" y="481.6" font-family="Liberation Sans" font-size="5.2" font-weight="normal" fill="#555" text-anchor="start" >[+] 3</text>
</svg>
</body></html>
